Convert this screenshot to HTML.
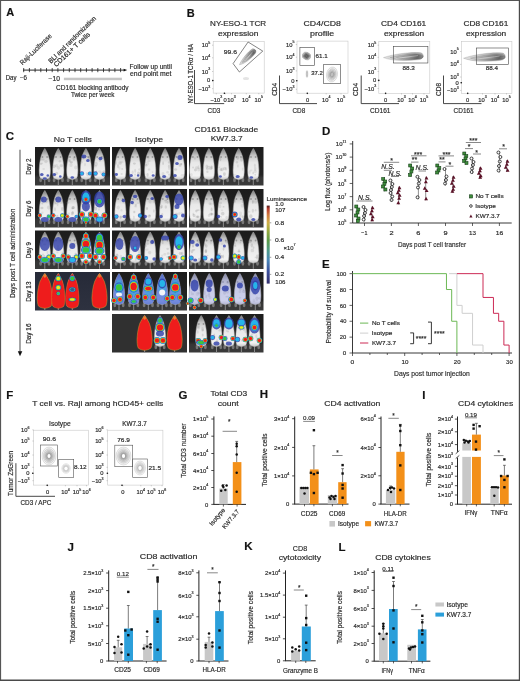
<!DOCTYPE html>
<html><head><meta charset="utf-8"><style>
html,body{margin:0;padding:0;background:#fff;}
svg{display:block;will-change:transform;}
text{font-family:"Liberation Sans", sans-serif;stroke:#2b2b2b;stroke-width:0.18px;}
</style></head><body>
<svg width="520" height="681" viewBox="0 0 520 681" fill="#2b2b2b">
<rect width="520" height="681" fill="#fff"/>
<text transform="translate(10.2 12.2)" x="-3.96" y="3.78" font-size="11" fill="#111" font-weight="bold">A</text>
<line x1="23" y1="70.1" x2="124.5" y2="70.1" stroke="#111" stroke-width="0.9" />
<polygon points="123.6,68.8 127.2,70.1 123.6,71.4" fill="#111"/>
<line x1="23.7" y1="68" x2="23.7" y2="72.2" stroke="#111" stroke-width="0.75" />
<line x1="29.4" y1="68" x2="29.4" y2="72.2" stroke="#111" stroke-width="0.75" />
<line x1="35.1" y1="68" x2="35.1" y2="72.2" stroke="#111" stroke-width="0.75" />
<line x1="40.8" y1="68" x2="40.8" y2="72.2" stroke="#111" stroke-width="0.75" />
<line x1="46.5" y1="68" x2="46.5" y2="72.2" stroke="#111" stroke-width="0.75" />
<line x1="52.2" y1="68" x2="52.2" y2="72.2" stroke="#111" stroke-width="0.75" />
<line x1="57.9" y1="68" x2="57.9" y2="72.2" stroke="#111" stroke-width="0.75" />
<line x1="63.6" y1="68" x2="63.6" y2="72.2" stroke="#111" stroke-width="0.75" />
<line x1="69.3" y1="68" x2="69.3" y2="72.2" stroke="#111" stroke-width="0.75" />
<line x1="75" y1="68" x2="75" y2="72.2" stroke="#111" stroke-width="0.75" />
<line x1="80.7" y1="68" x2="80.7" y2="72.2" stroke="#111" stroke-width="0.75" />
<line x1="86.4" y1="68" x2="86.4" y2="72.2" stroke="#111" stroke-width="0.75" />
<line x1="92.1" y1="68" x2="92.1" y2="72.2" stroke="#111" stroke-width="0.75" />
<line x1="97.8" y1="68" x2="97.8" y2="72.2" stroke="#111" stroke-width="0.75" />
<line x1="103.5" y1="68" x2="103.5" y2="72.2" stroke="#111" stroke-width="0.75" />
<line x1="109.2" y1="68" x2="109.2" y2="72.2" stroke="#111" stroke-width="0.75" />
<line x1="114.9" y1="68" x2="114.9" y2="72.2" stroke="#111" stroke-width="0.75" />
<line x1="120.6" y1="68" x2="120.6" y2="72.2" stroke="#111" stroke-width="0.75" />
<text transform="translate(11.3 78.2)" x="-5.59" y="2.2" font-size="6.4" textLength="10.71" lengthAdjust="spacingAndGlyphs">Day</text>
<text transform="translate(23.45 78.2)" x="-3.56" y="2.23" font-size="6.4" textLength="7.08" lengthAdjust="spacingAndGlyphs">−6</text>
<text transform="translate(54.25 78.4)" x="-5.68" y="2.23" font-size="6.4" textLength="11.29" lengthAdjust="spacingAndGlyphs">−10</text>
<rect x="63.9" y="77.7" width="58" height="2.5" fill="#c6c6c6" />
<text transform="translate(92.5 87.1)" x="-36.43" y="2.41" font-size="7" textLength="72.54" lengthAdjust="spacingAndGlyphs">CD161 blocking antibody</text>
<text transform="translate(92.7 94.9)" x="-21.74" y="2.41" font-size="7" textLength="43.33" lengthAdjust="spacingAndGlyphs">Twice per week</text>
<text transform="translate(150.7 66.4)" x="-21.24" y="2.34" font-size="6.8" textLength="42.39" lengthAdjust="spacingAndGlyphs">Follow up until</text>
<text transform="translate(150.85 73.8)" x="-20.84" y="2.34" font-size="6.8" textLength="41.44" lengthAdjust="spacingAndGlyphs">end point met</text>
<text transform="translate(35.9 49.1) rotate(-44)" x="-20.76" y="2.34" font-size="6.8" textLength="41.28" lengthAdjust="spacingAndGlyphs">Raji-Luciferase</text>
<text transform="translate(72.2 39.6) rotate(-44.5)" x="-32.02" y="2.34" font-size="6.8" textLength="63.94" lengthAdjust="spacingAndGlyphs">BLI and randomization</text>
<text transform="translate(71.8 49.4) rotate(-43)" x="-23.6" y="2.34" font-size="6.8" textLength="47.1" lengthAdjust="spacingAndGlyphs">CD161+ T cells</text>
<text transform="translate(190.8 12.9)" x="-4.09" y="3.78" font-size="11" fill="#111" font-weight="bold">B</text>
<text transform="translate(238.25 23.6)" x="-28.2" y="2.65" font-size="7.7" textLength="56.12" lengthAdjust="spacingAndGlyphs">NY-ESO-1 TCR</text>
<text transform="translate(238.1 34.1)" x="-20.05" y="1.95" font-size="7.5" textLength="40.3" lengthAdjust="spacingAndGlyphs">expression</text>
<rect x="213.2" y="41.3" width="51" height="51.8" fill="none" stroke="#c8c8c8" stroke-width="0.6" />
<text x="210.3" y="45.2" font-size="5.8" text-anchor="end" dominant-baseline="central">10<tspan font-size="3.6" dy="-2.2">5</tspan></text>
<line x1="212" y1="45.2" x2="213.2" y2="45.2" stroke="#888" stroke-width="0.4" />
<text x="210.3" y="57.8" font-size="5.8" text-anchor="end" dominant-baseline="central">10<tspan font-size="3.6" dy="-2.2">4</tspan></text>
<line x1="212" y1="57.8" x2="213.2" y2="57.8" stroke="#888" stroke-width="0.4" />
<text x="210.3" y="71.5" font-size="5.8" text-anchor="end" dominant-baseline="central">10<tspan font-size="3.6" dy="-2.2">3</tspan></text>
<line x1="212" y1="71.5" x2="213.2" y2="71.5" stroke="#888" stroke-width="0.4" />
<text x="210.3" y="80.4" font-size="5.8" text-anchor="end" dominant-baseline="central">0</text>
<line x1="212" y1="80.4" x2="213.2" y2="80.4" stroke="#888" stroke-width="0.4" />
<text x="210.3" y="88.7" font-size="5.8" text-anchor="end" dominant-baseline="central">−10<tspan font-size="3.6" dy="-2.2">3</tspan></text>
<line x1="212" y1="88.7" x2="213.2" y2="88.7" stroke="#888" stroke-width="0.4" />
<text x="216.3" y="99.5" font-size="5.8" text-anchor="middle" dominant-baseline="central">−10<tspan font-size="3.6" dy="-2.2">3</tspan></text>
<line x1="216.3" y1="93.1" x2="216.3" y2="94.3" stroke="#888" stroke-width="0.4" />
<text x="225.2" y="99.5" font-size="5.8" text-anchor="middle" dominant-baseline="central">0</text>
<line x1="225.2" y1="93.1" x2="225.2" y2="94.3" stroke="#888" stroke-width="0.4" />
<text x="231.5" y="99.5" font-size="5.8" text-anchor="middle" dominant-baseline="central">10<tspan font-size="3.6" dy="-2.2">3</tspan></text>
<line x1="231.5" y1="93.1" x2="231.5" y2="94.3" stroke="#888" stroke-width="0.4" />
<text x="246.3" y="99.5" font-size="5.8" text-anchor="middle" dominant-baseline="central">10<tspan font-size="3.6" dy="-2.2">4</tspan></text>
<line x1="246.3" y1="93.1" x2="246.3" y2="94.3" stroke="#888" stroke-width="0.4" />
<text x="258.8" y="99.5" font-size="5.8" text-anchor="middle" dominant-baseline="central">10<tspan font-size="3.6" dy="-2.2">5</tspan></text>
<line x1="258.8" y1="93.1" x2="258.8" y2="94.3" stroke="#888" stroke-width="0.4" />
<g transform="rotate(-40 247 57.5)">
<defs><linearGradient id="cm0" x1="0" y1="0" x2="1" y2="0"><stop offset="0" stop-color="#c8c8c8"/><stop offset="0.45" stop-color="#9a9a9a"/><stop offset="0.8" stop-color="#5a5a5a"/><stop offset="1" stop-color="#8a8a8a"/></linearGradient></defs>
<path d="M236.5,58.2 C240.9,55.86 250.8,53.52 256.74,54.3 C259,55.08 258.5,59.24 255.86,59.76 C248.6,61.06 240.9,60.8 236.5,58.2 Z" fill="url(#cm0)" fill-opacity="0.55" stroke="#444" stroke-opacity="0.5" stroke-width="0.35"/>
<path d="M240.13,58.2 C244.53,56.56 250.8,54.92 256.74,55.47 C259,56.02 258.5,58.93 255.86,59.29 C248.6,60.2 244.53,60.02 240.13,58.2 Z" fill="url(#cm0)" fill-opacity="0.6" stroke="#444" stroke-opacity="0.5" stroke-width="0.35"/>
<path d="M243.52,58.2 C247.92,57.22 250.8,56.23 256.74,56.56 C259,56.89 258.5,58.64 255.86,58.86 C248.6,59.4 247.92,59.29 243.52,58.2 Z" fill="url(#cm0)" fill-opacity="0.7" stroke="#444" stroke-opacity="0.5" stroke-width="0.35"/>
<path d="M243.1,58.72 C247.5,58.2 251.9,57.16 255.2,56.64" stroke="#fff" stroke-opacity="0.7" stroke-width="0.5" fill="none"/>
</g>
<ellipse cx="246" cy="78.6" rx="3" ry="1.5" fill="#e4e4e4"/>
<polygon points="233.1,63.6 248.1,42 262.75,51.1 239.4,72" fill="none" stroke="#333" stroke-width="0.6" />
<text transform="translate(230.3 51.7)" x="-6.62" y="2.09" font-size="6" textLength="13.22" lengthAdjust="spacingAndGlyphs">99.6</text>
<circle cx="212.8" cy="80.6" r="0.8" fill="#111"/><circle cx="224.4" cy="93.2" r="0.8" fill="#111"/>
<polyline points="194.5,70 194.5,103.6 224.2,103.6" fill="none" stroke="#333" stroke-width="0.9" />
<text transform="translate(190.4 73.5) rotate(-90)" x="-30" y="2.41" font-size="7" textLength="59.51" lengthAdjust="spacingAndGlyphs">NY-ESO-1 TCRα / HA</text>
<text transform="translate(214 110.6)" x="-6.43" y="2.61" font-size="7.6" textLength="12.81" lengthAdjust="spacingAndGlyphs">CD3</text>
<text transform="translate(322.2 23.6)" x="-18.64" y="2.65" font-size="7.7" textLength="37.22" lengthAdjust="spacingAndGlyphs">CD4/CD8</text>
<text transform="translate(322.15 34.1)" x="-12.22" y="1.95" font-size="7.5" textLength="24.27" lengthAdjust="spacingAndGlyphs">profile</text>
<rect x="297" y="41.1" width="51" height="52.1" fill="none" stroke="#c8c8c8" stroke-width="0.6" />
<text x="294.4" y="44.6" font-size="5.8" text-anchor="end" dominant-baseline="central">10<tspan font-size="3.6" dy="-2.2">5</tspan></text>
<line x1="295.8" y1="44.6" x2="297" y2="44.6" stroke="#888" stroke-width="0.4" />
<text x="294.4" y="57.2" font-size="5.8" text-anchor="end" dominant-baseline="central">10<tspan font-size="3.6" dy="-2.2">4</tspan></text>
<line x1="295.8" y1="57.2" x2="297" y2="57.2" stroke="#888" stroke-width="0.4" />
<text x="294.4" y="70.9" font-size="5.8" text-anchor="end" dominant-baseline="central">10<tspan font-size="3.6" dy="-2.2">3</tspan></text>
<line x1="295.8" y1="70.9" x2="297" y2="70.9" stroke="#888" stroke-width="0.4" />
<text x="294.4" y="80.7" font-size="5.8" text-anchor="end" dominant-baseline="central">0</text>
<line x1="295.8" y1="80.7" x2="297" y2="80.7" stroke="#888" stroke-width="0.4" />
<text x="294.4" y="89.3" font-size="5.8" text-anchor="end" dominant-baseline="central">−10<tspan font-size="3.6" dy="-2.2">3</tspan></text>
<line x1="295.8" y1="89.3" x2="297" y2="89.3" stroke="#888" stroke-width="0.4" />
<text x="307.5" y="99.5" font-size="5.8" text-anchor="middle" dominant-baseline="central">0</text>
<line x1="307.5" y1="93.2" x2="307.5" y2="94.4" stroke="#888" stroke-width="0.4" />
<text x="326.2" y="99.5" font-size="5.8" text-anchor="middle" dominant-baseline="central">10<tspan font-size="3.6" dy="-2.2">4</tspan></text>
<line x1="326.2" y1="93.2" x2="326.2" y2="94.4" stroke="#888" stroke-width="0.4" />
<text x="341" y="99.5" font-size="5.8" text-anchor="middle" dominant-baseline="central">10<tspan font-size="3.6" dy="-2.2">5</tspan></text>
<line x1="341" y1="93.2" x2="341" y2="94.4" stroke="#888" stroke-width="0.4" />
<g transform="rotate(20 306.5 56)"><ellipse cx="306.5" cy="56" rx="4.2" ry="3.6" fill="rgb(60, 60, 60)" fill-opacity="0.1925" stroke="#4a4a4a" stroke-opacity="0.77" stroke-width="0.4"/><ellipse cx="306.5" cy="56" rx="3.28" ry="2.81" fill="rgb(60, 60, 60)" fill-opacity="0.1925" stroke="#4a4a4a" stroke-opacity="0.77" stroke-width="0.4"/><ellipse cx="306.5" cy="56" rx="2.56" ry="2.19" fill="rgb(60, 60, 60)" fill-opacity="0.1925" stroke="#4a4a4a" stroke-opacity="0.77" stroke-width="0.4"/><ellipse cx="306.5" cy="56" rx="1.99" ry="1.71" fill="rgb(60, 60, 60)" fill-opacity="0.1925" stroke="#4a4a4a" stroke-opacity="0.77" stroke-width="0.4"/><ellipse cx="306.5" cy="56" rx="1.55" ry="1.33" fill="rgb(60, 60, 60)" fill-opacity="0.1925" stroke="#4a4a4a" stroke-opacity="0.77" stroke-width="0.4"/><ellipse cx="306.5" cy="56" rx="1.21" ry="1.04" fill="rgb(60, 60, 60)" fill-opacity="0.1925" stroke="#4a4a4a" stroke-opacity="0.77" stroke-width="0.4"/></g>
<g transform="rotate(10 332 74.5)"><ellipse cx="332" cy="74.5" rx="5.5" ry="7.5" fill="rgb(120, 120, 120)" fill-opacity="0.09350000000000001" stroke="#4a4a4a" stroke-opacity="0.37400000000000005" stroke-width="0.4"/><ellipse cx="332" cy="74.5" rx="4.29" ry="5.85" fill="rgb(120, 120, 120)" fill-opacity="0.09350000000000001" stroke="#4a4a4a" stroke-opacity="0.37400000000000005" stroke-width="0.4"/><ellipse cx="332" cy="74.5" rx="3.35" ry="4.56" fill="rgb(120, 120, 120)" fill-opacity="0.09350000000000001" stroke="#4a4a4a" stroke-opacity="0.37400000000000005" stroke-width="0.4"/><ellipse cx="332" cy="74.5" rx="2.61" ry="3.56" fill="rgb(120, 120, 120)" fill-opacity="0.09350000000000001" stroke="#4a4a4a" stroke-opacity="0.37400000000000005" stroke-width="0.4"/><ellipse cx="332" cy="74.5" rx="2.04" ry="2.78" fill="rgb(120, 120, 120)" fill-opacity="0.09350000000000001" stroke="#4a4a4a" stroke-opacity="0.37400000000000005" stroke-width="0.4"/><ellipse cx="332" cy="74.5" rx="1.59" ry="2.17" fill="rgb(120, 120, 120)" fill-opacity="0.09350000000000001" stroke="#4a4a4a" stroke-opacity="0.37400000000000005" stroke-width="0.4"/></g>
<g transform="rotate(0 307 74)"><ellipse cx="307" cy="74" rx="0.8" ry="3.5" fill="rgb(150, 150, 150)" fill-opacity="0.11000000000000001" stroke="#4a4a4a" stroke-opacity="0.44000000000000006" stroke-width="0.4"/><ellipse cx="307" cy="74" rx="0.62" ry="2.73" fill="rgb(150, 150, 150)" fill-opacity="0.11000000000000001" stroke="#4a4a4a" stroke-opacity="0.44000000000000006" stroke-width="0.4"/></g>
<rect x="299.9" y="47.5" width="14.8" height="17.9" fill="none" stroke="#444" stroke-width="0.6" />
<rect x="323.7" y="64.4" width="16.7" height="19.3" fill="none" stroke="#444" stroke-width="0.6" />
<text transform="translate(321.55 56.2)" x="-6.07" y="2.09" font-size="6" textLength="12.12" lengthAdjust="spacingAndGlyphs">61.1</text>
<text transform="translate(316.95 73)" x="-5.78" y="2.09" font-size="6" textLength="11.63" lengthAdjust="spacingAndGlyphs">37.2</text>
<circle cx="296.8" cy="80.7" r="0.8" fill="#111"/><circle cx="307.3" cy="93.2" r="0.8" fill="#111"/>
<polyline points="279.5,75.5 279.5,103.6 317,103.6" fill="none" stroke="#333" stroke-width="0.9" />
<text transform="translate(275 89.3) rotate(-90)" x="-6.53" y="2.41" font-size="7" textLength="12.92" lengthAdjust="spacingAndGlyphs">CD4</text>
<text transform="translate(298.9 110.5)" x="-6.42" y="2.61" font-size="7.6" textLength="12.8" lengthAdjust="spacingAndGlyphs">CD8</text>
<text transform="translate(403.65 23.6)" x="-22.58" y="2.65" font-size="7.7" textLength="45.13" lengthAdjust="spacingAndGlyphs">CD4 CD161</text>
<text transform="translate(404 34.1)" x="-20.05" y="1.95" font-size="7.5" textLength="40.3" lengthAdjust="spacingAndGlyphs">expression</text>
<rect x="378.8" y="41.3" width="51" height="52" fill="none" stroke="#c8c8c8" stroke-width="0.6" />
<text x="376.3" y="45.2" font-size="5.8" text-anchor="end" dominant-baseline="central">10<tspan font-size="3.6" dy="-2.2">5</tspan></text>
<line x1="377.6" y1="45.2" x2="378.8" y2="45.2" stroke="#888" stroke-width="0.4" />
<text x="376.3" y="57.3" font-size="5.8" text-anchor="end" dominant-baseline="central">10<tspan font-size="3.6" dy="-2.2">4</tspan></text>
<line x1="377.6" y1="57.3" x2="378.8" y2="57.3" stroke="#888" stroke-width="0.4" />
<text x="376.3" y="71.5" font-size="5.8" text-anchor="end" dominant-baseline="central">10<tspan font-size="3.6" dy="-2.2">3</tspan></text>
<line x1="377.6" y1="71.5" x2="378.8" y2="71.5" stroke="#888" stroke-width="0.4" />
<text x="376.3" y="80.4" font-size="5.8" text-anchor="end" dominant-baseline="central">0</text>
<line x1="377.6" y1="80.4" x2="378.8" y2="80.4" stroke="#888" stroke-width="0.4" />
<text x="376.3" y="88.5" font-size="5.8" text-anchor="end" dominant-baseline="central">−10<tspan font-size="3.6" dy="-2.2">3</tspan></text>
<line x1="377.6" y1="88.5" x2="378.8" y2="88.5" stroke="#888" stroke-width="0.4" />
<text x="385.6" y="99.5" font-size="5.8" text-anchor="middle" dominant-baseline="central">0</text>
<line x1="385.6" y1="93.3" x2="385.6" y2="94.5" stroke="#888" stroke-width="0.4" />
<text x="401.5" y="99.5" font-size="5.8" text-anchor="middle" dominant-baseline="central">10<tspan font-size="3.6" dy="-2.2">3</tspan></text>
<line x1="401.5" y1="93.3" x2="401.5" y2="94.5" stroke="#888" stroke-width="0.4" />
<text x="412.5" y="99.5" font-size="5.8" text-anchor="middle" dominant-baseline="central">10<tspan font-size="3.6" dy="-2.2">4</tspan></text>
<line x1="412.5" y1="93.3" x2="412.5" y2="94.5" stroke="#888" stroke-width="0.4" />
<text x="424" y="99.5" font-size="5.8" text-anchor="middle" dominant-baseline="central">10<tspan font-size="3.6" dy="-2.2">5</tspan></text>
<line x1="424" y1="93.3" x2="424" y2="94.5" stroke="#888" stroke-width="0.4" />
<defs><linearGradient id="cm1" x1="0" y1="0" x2="1" y2="0"><stop offset="0" stop-color="#c8c8c8"/><stop offset="0.45" stop-color="#9a9a9a"/><stop offset="0.8" stop-color="#5a5a5a"/><stop offset="1" stop-color="#8a8a8a"/></linearGradient></defs>
<path d="M383.5,57.6 C391.6,54.63 409.82,51.66 420.76,52.65 C424.5,53.64 424,58.92 419.14,59.58 C405.77,61.23 391.6,60.9 383.5,57.6 Z" fill="url(#cm1)" fill-opacity="0.55" stroke="#444" stroke-opacity="0.5" stroke-width="0.35"/>
<path d="M390.18,57.6 C398.28,55.52 409.82,53.44 420.76,54.14 C424.5,54.83 424,58.52 419.14,58.99 C405.77,60.14 398.28,59.91 390.18,57.6 Z" fill="url(#cm1)" fill-opacity="0.6" stroke="#444" stroke-opacity="0.5" stroke-width="0.35"/>
<path d="M396.42,57.6 C404.52,56.35 409.82,55.11 420.76,55.52 C424.5,55.94 424,58.15 419.14,58.43 C405.77,59.12 404.52,58.99 396.42,57.6 Z" fill="url(#cm1)" fill-opacity="0.7" stroke="#444" stroke-opacity="0.5" stroke-width="0.35"/>
<path d="M395.65,58.26 C403.75,57.6 411.85,56.28 417.93,55.62" stroke="#fff" stroke-opacity="0.7" stroke-width="0.5" fill="none"/>
<rect x="393.3" y="46.5" width="34.6" height="16.5" fill="none" stroke="#444" stroke-width="0.6" />
<text transform="translate(408.7 68.3)" x="-6.18" y="2.09" font-size="6" textLength="12.35" lengthAdjust="spacingAndGlyphs">88.3</text>
<circle cx="378.8" cy="80.4" r="0.8" fill="#111"/><circle cx="385.6" cy="93.3" r="0.8" fill="#111"/>
<polyline points="361.2,75.5 361.2,103.6 399,103.6" fill="none" stroke="#333" stroke-width="0.9" />
<text transform="translate(355.8 89.4) rotate(-90)" x="-6.53" y="2.41" font-size="7" textLength="12.92" lengthAdjust="spacingAndGlyphs">CD4</text>
<text transform="translate(380.3 110.6)" x="-10.23" y="2.61" font-size="7.6" textLength="20.45" lengthAdjust="spacingAndGlyphs">CD161</text>
<text transform="translate(485.85 23.6)" x="-22.47" y="2.65" font-size="7.7" textLength="44.93" lengthAdjust="spacingAndGlyphs">CD8 CD161</text>
<text transform="translate(486 34.1)" x="-20.05" y="1.95" font-size="7.5" textLength="40.3" lengthAdjust="spacingAndGlyphs">expression</text>
<rect x="461.3" y="41.3" width="50.6" height="52" fill="none" stroke="#c8c8c8" stroke-width="0.6" />
<text x="458.8" y="51.5" font-size="5.8" text-anchor="end" dominant-baseline="central">10<tspan font-size="3.6" dy="-2.2">5</tspan></text>
<line x1="460.1" y1="51.5" x2="461.3" y2="51.5" stroke="#888" stroke-width="0.4" />
<text x="458.8" y="64.4" font-size="5.8" text-anchor="end" dominant-baseline="central">10<tspan font-size="3.6" dy="-2.2">4</tspan></text>
<line x1="460.1" y1="64.4" x2="461.3" y2="64.4" stroke="#888" stroke-width="0.4" />
<text x="458.8" y="77" font-size="5.8" text-anchor="end" dominant-baseline="central">10<tspan font-size="3.6" dy="-2.2">3</tspan></text>
<line x1="460.1" y1="77" x2="461.3" y2="77" stroke="#888" stroke-width="0.4" />
<text x="458.8" y="82.7" font-size="5.8" text-anchor="end" dominant-baseline="central">0</text>
<line x1="460.1" y1="82.7" x2="461.3" y2="82.7" stroke="#888" stroke-width="0.4" />
<text x="458.8" y="90.4" font-size="5.8" text-anchor="end" dominant-baseline="central">−10<tspan font-size="3.6" dy="-2.2">3</tspan></text>
<line x1="460.1" y1="90.4" x2="461.3" y2="90.4" stroke="#888" stroke-width="0.4" />
<text x="467.7" y="99.5" font-size="5.8" text-anchor="middle" dominant-baseline="central">0</text>
<line x1="467.7" y1="93.3" x2="467.7" y2="94.5" stroke="#888" stroke-width="0.4" />
<text x="482.5" y="99.5" font-size="5.8" text-anchor="middle" dominant-baseline="central">10<tspan font-size="3.6" dy="-2.2">3</tspan></text>
<line x1="482.5" y1="93.3" x2="482.5" y2="94.5" stroke="#888" stroke-width="0.4" />
<text x="495" y="99.5" font-size="5.8" text-anchor="middle" dominant-baseline="central">10<tspan font-size="3.6" dy="-2.2">4</tspan></text>
<line x1="495" y1="93.3" x2="495" y2="94.5" stroke="#888" stroke-width="0.4" />
<text x="506.5" y="99.5" font-size="5.8" text-anchor="middle" dominant-baseline="central">10<tspan font-size="3.6" dy="-2.2">5</tspan></text>
<line x1="506.5" y1="93.3" x2="506.5" y2="94.5" stroke="#888" stroke-width="0.4" />
<defs><linearGradient id="cm2" x1="0" y1="0" x2="1" y2="0"><stop offset="0" stop-color="#c8c8c8"/><stop offset="0.45" stop-color="#9a9a9a"/><stop offset="0.8" stop-color="#5a5a5a"/><stop offset="1" stop-color="#8a8a8a"/></linearGradient></defs>
<path d="M463.5,58.2 C472,55.05 491.12,51.9 502.6,52.95 C506.5,54 506,59.6 500.9,60.3 C486.88,62.05 472,61.7 463.5,58.2 Z" fill="url(#cm2)" fill-opacity="0.55" stroke="#444" stroke-opacity="0.5" stroke-width="0.35"/>
<path d="M470.51,58.2 C479.01,56 491.12,53.79 502.6,54.53 C506.5,55.26 506,59.18 500.9,59.67 C486.88,60.9 479.01,60.65 470.51,58.2 Z" fill="url(#cm2)" fill-opacity="0.6" stroke="#444" stroke-opacity="0.5" stroke-width="0.35"/>
<path d="M477.06,58.2 C485.56,56.88 491.12,55.55 502.6,56 C506.5,56.44 506,58.79 500.9,59.08 C486.88,59.82 485.56,59.67 477.06,58.2 Z" fill="url(#cm2)" fill-opacity="0.7" stroke="#444" stroke-opacity="0.5" stroke-width="0.35"/>
<path d="M476.25,58.9 C484.75,58.2 493.25,56.8 499.62,56.1" stroke="#fff" stroke-opacity="0.7" stroke-width="0.5" fill="none"/>
<rect x="476.3" y="48" width="32.2" height="16.4" fill="none" stroke="#444" stroke-width="0.6" />
<text transform="translate(492 68.3)" x="-6.17" y="2.09" font-size="6" textLength="12.26" lengthAdjust="spacingAndGlyphs">88.4</text>
<circle cx="461.3" cy="82.7" r="0.8" fill="#111"/><circle cx="467.7" cy="93.3" r="0.8" fill="#111"/>
<polyline points="443.5,75.5 443.5,103.6 481.5,103.6" fill="none" stroke="#333" stroke-width="0.9" />
<text transform="translate(438.3 89.4) rotate(-90)" x="-6.53" y="2.41" font-size="7" textLength="13.01" lengthAdjust="spacingAndGlyphs">CD8</text>
<text transform="translate(463.6 110.6)" x="-10.03" y="2.61" font-size="7.6" textLength="20.04" lengthAdjust="spacingAndGlyphs">CD161</text>
<defs><linearGradient id="mg" x1="0" y1="0" x2="0" y2="1"><stop offset="0" stop-color="#7a7a7a"/><stop offset="0.22" stop-color="#c4c4c4"/><stop offset="0.45" stop-color="#e8e8e8"/><stop offset="0.88" stop-color="#f2f2f2"/><stop offset="1" stop-color="#c8c8c8"/></linearGradient><filter id="bl" x="-30%" y="-30%" width="160%" height="160%"><feGaussianBlur stdDeviation="0.45"/></filter><filter id="bs" x="-30%" y="-30%" width="160%" height="160%"><feGaussianBlur stdDeviation="0.35"/></filter><linearGradient id="pbg" x1="0" y1="0" x2="0" y2="1"><stop offset="0" stop-color="#1c1c1c"/><stop offset="0.72" stop-color="#232323"/><stop offset="0.8" stop-color="#363636"/><stop offset="1" stop-color="#3a3a3a"/></linearGradient><linearGradient id="pbg2" x1="0" y1="0" x2="0" y2="1"><stop offset="0" stop-color="#262a38"/><stop offset="1" stop-color="#2e3240"/></linearGradient><filter id="bl2" x="-30%" y="-30%" width="160%" height="160%"><feGaussianBlur stdDeviation="0.45"/></filter><path id="ms" d="M0,0 L0.7,1.07 L1.6,2.68 L2.6,4.82 L3.5,6.96 L4.2,9.63 L4.7,12.31 L5.1,14.98 L5.4,18.19 L5.6,21.4 L5.5,24.61 L5.2,27.29 L4.7,29.1 L3.3,30.17 L1.5,30.82 L0.6,31.03 L-0.6,31.03 L-1.5,30.82 L-3.3,30.17 L-4.7,29.1 L-5.2,27.29 L-5.5,24.61 L-5.6,21.4 L-5.4,18.19 L-5.1,14.98 L-4.7,12.31 L-4.2,9.63 L-3.5,6.96 L-2.6,4.82 L-1.6,2.68 L-0.7,1.07 L0,0 Z"/></defs>
<text transform="translate(10 136.5)" x="-4.23" y="3.96" font-size="11.5" fill="#111" font-weight="bold">C</text>
<text transform="translate(73.05 138.9)" x="-19.25" y="2.72" font-size="7.9" textLength="38.11" lengthAdjust="spacingAndGlyphs">No T cells</text>
<text transform="translate(149.35 139)" x="-14.25" y="2.72" font-size="7.9" textLength="28.09" lengthAdjust="spacingAndGlyphs">Isotype</text>
<text transform="translate(226.45 129)" x="-31.88" y="2.72" font-size="7.9" textLength="63.71" lengthAdjust="spacingAndGlyphs">CD161 Blockade</text>
<text transform="translate(226.75 138.7)" x="-16.13" y="2.72" font-size="7.9" textLength="32" lengthAdjust="spacingAndGlyphs">KW7.3.7</text>
<g><rect x="35" y="147" width="75" height="38.5" fill="url(#pbg)"/>
<line x1="44.8" y1="177.5" x2="44.8" y2="185.3" stroke="#8a8a8a" stroke-width="1.0"/>
<ellipse cx="40.6" cy="180" rx="1.4" ry="2.2" fill="#777"/><ellipse cx="49" cy="180" rx="1.4" ry="2.2" fill="#777"/>
<use href="#ms" x="44.8" y="148.5" fill="url(#mg)" stroke="#b0b0b0" stroke-width="0.5" filter="url(#bs)"/>
<g filter="url(#bs)"><ellipse cx="41.66" cy="163.33" rx="1.45" ry="0.9" fill="#8a8a8a" fill-opacity="0.23"/><ellipse cx="40.82" cy="164.08" rx="1.31" ry="0.85" fill="#8a8a8a" fill-opacity="0.22"/><ellipse cx="41.12" cy="158.76" rx="1.22" ry="1.96" fill="#8a8a8a" fill-opacity="0.17"/><ellipse cx="45.95" cy="161.52" rx="1.75" ry="1.61" fill="#8a8a8a" fill-opacity="0.21"/><ellipse cx="40.72" cy="175.07" rx="1.66" ry="1.21" fill="#8a8a8a" fill-opacity="0.17"/><ellipse cx="43.08" cy="159.62" rx="1.62" ry="1.05" fill="#8a8a8a" fill-opacity="0.24"/><ellipse cx="43.65" cy="169" rx="1.35" ry="0.89" fill="#8a8a8a" fill-opacity="0.16"/><circle cx="42.5" cy="157" r="0.9" fill="#555" fill-opacity="0.45"/><circle cx="47.1" cy="157" r="0.9" fill="#555" fill-opacity="0.45"/></g>
<g filter="url(#bl)"><ellipse cx="41.8" cy="174.5" rx="1.8" ry="1.5" fill="#2e3eaa" fill-opacity="0.8"/><ellipse cx="47.8" cy="175.5" rx="1.3" ry="1.2" fill="#2e3eaa" fill-opacity="0.8"/><ellipse cx="44.8" cy="178.5" rx="2" ry="1.2" fill="#2e3eaa" fill-opacity="0.8"/></g>
<line x1="58.3" y1="177.5" x2="58.3" y2="185.3" stroke="#8a8a8a" stroke-width="1.0"/>
<ellipse cx="54.1" cy="180" rx="1.4" ry="2.2" fill="#777"/><ellipse cx="62.5" cy="180" rx="1.4" ry="2.2" fill="#777"/>
<use href="#ms" x="58.3" y="148.5" fill="url(#mg)" stroke="#b0b0b0" stroke-width="0.5" filter="url(#bs)"/>
<g filter="url(#bs)"><ellipse cx="59.92" cy="161.21" rx="1.23" ry="1.24" fill="#8a8a8a" fill-opacity="0.24"/><ellipse cx="56.5" cy="165.66" rx="1.59" ry="1.78" fill="#8a8a8a" fill-opacity="0.19"/><ellipse cx="58.53" cy="167.84" rx="1.68" ry="1.82" fill="#8a8a8a" fill-opacity="0.19"/><ellipse cx="54.86" cy="175.14" rx="1.22" ry="1.86" fill="#8a8a8a" fill-opacity="0.17"/><ellipse cx="54.15" cy="166.3" rx="1.47" ry="1.87" fill="#8a8a8a" fill-opacity="0.24"/><ellipse cx="56.62" cy="173.26" rx="1.5" ry="1.63" fill="#8a8a8a" fill-opacity="0.24"/><ellipse cx="61.36" cy="165.71" rx="1.74" ry="1.46" fill="#8a8a8a" fill-opacity="0.25"/><circle cx="56" cy="157" r="0.9" fill="#555" fill-opacity="0.45"/><circle cx="60.6" cy="157" r="0.9" fill="#555" fill-opacity="0.45"/></g>
<g filter="url(#bl)"><ellipse cx="54.3" cy="174.5" rx="1.8" ry="1.5" fill="#2e3eaa" fill-opacity="0.8"/><ellipse cx="60.3" cy="176.5" rx="1.3" ry="1.2" fill="#2e3eaa" fill-opacity="0.8"/></g>
<line x1="72.3" y1="177.5" x2="72.3" y2="185.3" stroke="#8a8a8a" stroke-width="1.0"/>
<ellipse cx="68.1" cy="180" rx="1.4" ry="2.2" fill="#777"/><ellipse cx="76.5" cy="180" rx="1.4" ry="2.2" fill="#777"/>
<use href="#ms" x="72.3" y="148.5" fill="url(#mg)" stroke="#b0b0b0" stroke-width="0.5" filter="url(#bs)"/>
<g filter="url(#bs)"><ellipse cx="74.11" cy="158.59" rx="1.45" ry="2.19" fill="#8a8a8a" fill-opacity="0.27"/><ellipse cx="71.27" cy="162.62" rx="1.47" ry="0.83" fill="#8a8a8a" fill-opacity="0.22"/><ellipse cx="68.85" cy="160.52" rx="0.86" ry="1.88" fill="#8a8a8a" fill-opacity="0.17"/><ellipse cx="71.32" cy="161.96" rx="1.67" ry="0.91" fill="#8a8a8a" fill-opacity="0.22"/><ellipse cx="75.75" cy="167.39" rx="1.62" ry="2.01" fill="#8a8a8a" fill-opacity="0.19"/><ellipse cx="71.03" cy="164.98" rx="1.68" ry="2.14" fill="#8a8a8a" fill-opacity="0.17"/><ellipse cx="69.89" cy="160.67" rx="1.03" ry="1.48" fill="#8a8a8a" fill-opacity="0.24"/><circle cx="70" cy="157" r="0.9" fill="#555" fill-opacity="0.45"/><circle cx="74.6" cy="157" r="0.9" fill="#555" fill-opacity="0.45"/></g>
<g filter="url(#bl)"><ellipse cx="72.3" cy="177.5" rx="1.8" ry="1.2" fill="#2e3eaa" fill-opacity="0.8"/></g>
<line x1="85.9" y1="177.5" x2="85.9" y2="185.3" stroke="#8a8a8a" stroke-width="1.0"/>
<ellipse cx="81.7" cy="180" rx="1.4" ry="2.2" fill="#777"/><ellipse cx="90.1" cy="180" rx="1.4" ry="2.2" fill="#777"/>
<use href="#ms" x="85.9" y="148.5" fill="url(#mg)" stroke="#b0b0b0" stroke-width="0.5" filter="url(#bs)"/>
<g filter="url(#bs)"><ellipse cx="81.44" cy="162.23" rx="1.22" ry="1.32" fill="#8a8a8a" fill-opacity="0.23"/><ellipse cx="87.61" cy="174.66" rx="1.32" ry="1.66" fill="#8a8a8a" fill-opacity="0.25"/><ellipse cx="89.5" cy="158.47" rx="1.58" ry="2.02" fill="#8a8a8a" fill-opacity="0.27"/><ellipse cx="84.99" cy="164.56" rx="0.9" ry="1.69" fill="#8a8a8a" fill-opacity="0.16"/><ellipse cx="83.28" cy="158.71" rx="0.96" ry="1.28" fill="#8a8a8a" fill-opacity="0.16"/><ellipse cx="82.76" cy="157.5" rx="0.9" ry="1.31" fill="#8a8a8a" fill-opacity="0.15"/><ellipse cx="86.93" cy="173.24" rx="0.95" ry="1.15" fill="#8a8a8a" fill-opacity="0.2"/><circle cx="83.6" cy="157" r="0.9" fill="#555" fill-opacity="0.45"/><circle cx="88.2" cy="157" r="0.9" fill="#555" fill-opacity="0.45"/></g>
<g filter="url(#bl)"><ellipse cx="83.9" cy="156.5" rx="2.5" ry="2" fill="#2e3eaa" fill-opacity="0.8"/><ellipse cx="87.9" cy="160.5" rx="1.8" ry="1.5" fill="#2e3eaa" fill-opacity="0.8"/><ellipse cx="81.9" cy="173.5" rx="2.2" ry="2.2" fill="#2e3eaa" fill-opacity="0.8"/><ellipse cx="81.9" cy="173.5" rx="1.58" ry="1.58" fill="#28b4ea" fill-opacity="1"/><ellipse cx="89.9" cy="173.5" rx="2" ry="2" fill="#2e3eaa" fill-opacity="0.8"/><ellipse cx="89.9" cy="173.5" rx="1.44" ry="1.44" fill="#28b4ea" fill-opacity="1"/></g>
<line x1="99.5" y1="177.5" x2="99.5" y2="185.3" stroke="#8a8a8a" stroke-width="1.0"/>
<ellipse cx="95.3" cy="180" rx="1.4" ry="2.2" fill="#777"/><ellipse cx="103.7" cy="180" rx="1.4" ry="2.2" fill="#777"/>
<use href="#ms" x="99.5" y="148.5" fill="url(#mg)" stroke="#b0b0b0" stroke-width="0.5" filter="url(#bs)"/>
<g filter="url(#bs)"><ellipse cx="96.11" cy="164.05" rx="1.65" ry="2.19" fill="#8a8a8a" fill-opacity="0.22"/><ellipse cx="95.77" cy="166.21" rx="0.9" ry="1.28" fill="#8a8a8a" fill-opacity="0.19"/><ellipse cx="96.45" cy="172.42" rx="0.82" ry="2.13" fill="#8a8a8a" fill-opacity="0.23"/><ellipse cx="99.89" cy="160.14" rx="0.83" ry="1.54" fill="#8a8a8a" fill-opacity="0.3"/><ellipse cx="101.27" cy="173.04" rx="1.06" ry="1.31" fill="#8a8a8a" fill-opacity="0.18"/><ellipse cx="99.79" cy="171.39" rx="1.58" ry="1.26" fill="#8a8a8a" fill-opacity="0.18"/><ellipse cx="103.86" cy="172.11" rx="1.65" ry="1.93" fill="#8a8a8a" fill-opacity="0.27"/><circle cx="97.2" cy="157" r="0.9" fill="#555" fill-opacity="0.45"/><circle cx="101.8" cy="157" r="0.9" fill="#555" fill-opacity="0.45"/></g>
<g filter="url(#bl)"><ellipse cx="100.5" cy="158.5" rx="2" ry="1.8" fill="#2e3eaa" fill-opacity="0.8"/><ellipse cx="95.5" cy="173.5" rx="2.2" ry="2.2" fill="#2e3eaa" fill-opacity="0.8"/><ellipse cx="95.5" cy="173.5" rx="1.58" ry="1.58" fill="#28b4ea" fill-opacity="1"/><ellipse cx="103.5" cy="174.5" rx="2" ry="2" fill="#2e3eaa" fill-opacity="0.8"/><ellipse cx="103.5" cy="174.5" rx="1.44" ry="1.44" fill="#28b4ea" fill-opacity="1"/></g>
</g>
<g><rect x="35" y="189" width="75" height="38.5" fill="url(#pbg)"/>
<line x1="44.8" y1="219.5" x2="44.8" y2="227.3" stroke="#8a8a8a" stroke-width="1.0"/>
<ellipse cx="40.6" cy="222" rx="1.4" ry="2.2" fill="#777"/><ellipse cx="49" cy="222" rx="1.4" ry="2.2" fill="#777"/>
<use href="#ms" x="44.8" y="190.5" fill="url(#mg)" stroke="#b0b0b0" stroke-width="0.5" filter="url(#bs)"/>
<g filter="url(#bs)"><ellipse cx="42.34" cy="212.82" rx="1.32" ry="1.3" fill="#8a8a8a" fill-opacity="0.15"/><ellipse cx="42.81" cy="200" rx="1.06" ry="1.77" fill="#8a8a8a" fill-opacity="0.29"/><ellipse cx="48.73" cy="207.55" rx="1.79" ry="2.14" fill="#8a8a8a" fill-opacity="0.2"/><ellipse cx="42.34" cy="203.47" rx="1" ry="1.09" fill="#8a8a8a" fill-opacity="0.24"/><ellipse cx="47.86" cy="215.71" rx="1.28" ry="1.71" fill="#8a8a8a" fill-opacity="0.27"/><ellipse cx="46.25" cy="201.03" rx="1.71" ry="1.9" fill="#8a8a8a" fill-opacity="0.26"/><ellipse cx="41.91" cy="208.1" rx="1.59" ry="1.27" fill="#8a8a8a" fill-opacity="0.27"/><circle cx="42.5" cy="199" r="0.9" fill="#555" fill-opacity="0.45"/><circle cx="47.1" cy="199" r="0.9" fill="#555" fill-opacity="0.45"/></g>
<g filter="url(#bl)"><ellipse cx="43.8" cy="199.5" rx="3" ry="3" fill="#2e3eaa" fill-opacity="0.8"/><ellipse cx="39.8" cy="215.5" rx="2.2" ry="2.2" fill="#2e3eaa" fill-opacity="0.8"/><ellipse cx="39.8" cy="215.5" rx="1.98" ry="1.98" fill="#28b4ea" fill-opacity="1"/><ellipse cx="39.8" cy="215.5" rx="1.76" ry="1.76" fill="#3cc43c" fill-opacity="1"/><ellipse cx="39.8" cy="215.5" rx="1.58" ry="1.58" fill="#f5e61e" fill-opacity="1"/><ellipse cx="39.8" cy="215.5" rx="1.41" ry="1.41" fill="#ee1c1c" fill-opacity="1"/><ellipse cx="48.8" cy="216.5" rx="2" ry="2" fill="#2e3eaa" fill-opacity="0.8"/><ellipse cx="48.8" cy="216.5" rx="1.64" ry="1.64" fill="#28b4ea" fill-opacity="1"/><ellipse cx="48.8" cy="216.5" rx="1.32" ry="1.32" fill="#3cc43c" fill-opacity="1"/><ellipse cx="44.8" cy="219.5" rx="4" ry="2.5" fill="#2e3eaa" fill-opacity="0.8"/></g>
<line x1="58.3" y1="219.5" x2="58.3" y2="227.3" stroke="#8a8a8a" stroke-width="1.0"/>
<ellipse cx="54.1" cy="222" rx="1.4" ry="2.2" fill="#777"/><ellipse cx="62.5" cy="222" rx="1.4" ry="2.2" fill="#777"/>
<use href="#ms" x="58.3" y="190.5" fill="url(#mg)" stroke="#b0b0b0" stroke-width="0.5" filter="url(#bs)"/>
<g filter="url(#bs)"><ellipse cx="57.36" cy="216.99" rx="1.2" ry="2.13" fill="#8a8a8a" fill-opacity="0.26"/><ellipse cx="54.94" cy="202.56" rx="0.95" ry="2.07" fill="#8a8a8a" fill-opacity="0.27"/><ellipse cx="61.24" cy="202.13" rx="1.78" ry="1.72" fill="#8a8a8a" fill-opacity="0.2"/><ellipse cx="54.98" cy="209.38" rx="0.81" ry="2.16" fill="#8a8a8a" fill-opacity="0.25"/><ellipse cx="62.2" cy="208.98" rx="1.23" ry="2.02" fill="#8a8a8a" fill-opacity="0.27"/><ellipse cx="56.07" cy="203.3" rx="1.09" ry="1.14" fill="#8a8a8a" fill-opacity="0.24"/><ellipse cx="57.57" cy="204.17" rx="0.93" ry="2.07" fill="#8a8a8a" fill-opacity="0.2"/><circle cx="56" cy="199" r="0.9" fill="#555" fill-opacity="0.45"/><circle cx="60.6" cy="199" r="0.9" fill="#555" fill-opacity="0.45"/></g>
<g filter="url(#bl)"><ellipse cx="58.3" cy="199.5" rx="3" ry="3" fill="#2e3eaa" fill-opacity="0.8"/><ellipse cx="53.3" cy="215.5" rx="2.2" ry="2.2" fill="#2e3eaa" fill-opacity="0.8"/><ellipse cx="53.3" cy="215.5" rx="1.98" ry="1.98" fill="#28b4ea" fill-opacity="1"/><ellipse cx="53.3" cy="215.5" rx="1.76" ry="1.76" fill="#3cc43c" fill-opacity="1"/><ellipse cx="53.3" cy="215.5" rx="1.58" ry="1.58" fill="#f5e61e" fill-opacity="1"/><ellipse cx="53.3" cy="215.5" rx="1.41" ry="1.41" fill="#ee1c1c" fill-opacity="1"/><ellipse cx="62.3" cy="215.5" rx="2.2" ry="2.2" fill="#2e3eaa" fill-opacity="0.8"/><ellipse cx="62.3" cy="215.5" rx="1.89" ry="1.89" fill="#28b4ea" fill-opacity="1"/><ellipse cx="62.3" cy="215.5" rx="1.63" ry="1.63" fill="#3cc43c" fill-opacity="1"/><ellipse cx="62.3" cy="215.5" rx="1.36" ry="1.36" fill="#f5e61e" fill-opacity="1"/><ellipse cx="58.3" cy="219.5" rx="4" ry="2.5" fill="#2e3eaa" fill-opacity="0.8"/></g>
<line x1="72.3" y1="219.5" x2="72.3" y2="227.3" stroke="#8a8a8a" stroke-width="1.0"/>
<ellipse cx="68.1" cy="222" rx="1.4" ry="2.2" fill="#777"/><ellipse cx="76.5" cy="222" rx="1.4" ry="2.2" fill="#777"/>
<use href="#ms" x="72.3" y="190.5" fill="url(#mg)" stroke="#b0b0b0" stroke-width="0.5" filter="url(#bs)"/>
<g filter="url(#bs)"><ellipse cx="73.05" cy="207.75" rx="1.7" ry="1.39" fill="#8a8a8a" fill-opacity="0.29"/><ellipse cx="72.59" cy="208.53" rx="1.32" ry="0.83" fill="#8a8a8a" fill-opacity="0.22"/><ellipse cx="67.84" cy="202.8" rx="1.6" ry="1.04" fill="#8a8a8a" fill-opacity="0.22"/><ellipse cx="72.81" cy="212.55" rx="1.13" ry="1.53" fill="#8a8a8a" fill-opacity="0.23"/><ellipse cx="68.75" cy="213.62" rx="1.36" ry="1.15" fill="#8a8a8a" fill-opacity="0.19"/><ellipse cx="72.37" cy="213.4" rx="1.36" ry="1.86" fill="#8a8a8a" fill-opacity="0.29"/><ellipse cx="73.31" cy="207.48" rx="1.31" ry="1.52" fill="#8a8a8a" fill-opacity="0.25"/><circle cx="70" cy="199" r="0.9" fill="#555" fill-opacity="0.45"/><circle cx="74.6" cy="199" r="0.9" fill="#555" fill-opacity="0.45"/></g>
<g filter="url(#bl)"><ellipse cx="67.3" cy="216.5" rx="2" ry="2" fill="#2e3eaa" fill-opacity="0.8"/><ellipse cx="67.3" cy="216.5" rx="1.8" ry="1.8" fill="#28b4ea" fill-opacity="1"/><ellipse cx="67.3" cy="216.5" rx="1.6" ry="1.6" fill="#3cc43c" fill-opacity="1"/><ellipse cx="67.3" cy="216.5" rx="1.44" ry="1.44" fill="#f5e61e" fill-opacity="1"/><ellipse cx="67.3" cy="216.5" rx="1.28" ry="1.28" fill="#ee1c1c" fill-opacity="1"/><ellipse cx="76.3" cy="216.5" rx="1.8" ry="1.8" fill="#2e3eaa" fill-opacity="0.8"/><ellipse cx="76.3" cy="216.5" rx="1.3" ry="1.3" fill="#28b4ea" fill-opacity="1"/><ellipse cx="72.3" cy="219.5" rx="4" ry="2.5" fill="#2e3eaa" fill-opacity="0.8"/></g>
<line x1="85.9" y1="219.5" x2="85.9" y2="227.3" stroke="#8a8a8a" stroke-width="1.0"/>
<ellipse cx="81.7" cy="222" rx="1.4" ry="2.2" fill="#777"/><ellipse cx="90.1" cy="222" rx="1.4" ry="2.2" fill="#777"/>
<use href="#ms" x="85.9" y="190.5" fill="url(#mg)" stroke="#b0b0b0" stroke-width="0.5" filter="url(#bs)"/>
<g filter="url(#bs)"><ellipse cx="86.2" cy="207.64" rx="1.28" ry="2.12" fill="#8a8a8a" fill-opacity="0.25"/><ellipse cx="89.88" cy="215.28" rx="1.06" ry="1.58" fill="#8a8a8a" fill-opacity="0.29"/><ellipse cx="82.63" cy="214.62" rx="0.92" ry="1.42" fill="#8a8a8a" fill-opacity="0.16"/><ellipse cx="82.06" cy="203.83" rx="1.47" ry="1.9" fill="#8a8a8a" fill-opacity="0.28"/><ellipse cx="87.85" cy="202.28" rx="1.46" ry="1" fill="#8a8a8a" fill-opacity="0.28"/><ellipse cx="83.38" cy="216.92" rx="1.75" ry="1.36" fill="#8a8a8a" fill-opacity="0.22"/><ellipse cx="88.89" cy="217.32" rx="0.96" ry="1.4" fill="#8a8a8a" fill-opacity="0.23"/><circle cx="83.6" cy="199" r="0.9" fill="#555" fill-opacity="0.45"/><circle cx="88.2" cy="199" r="0.9" fill="#555" fill-opacity="0.45"/></g>
<g filter="url(#bl)"><ellipse cx="85.9" cy="197.5" rx="5" ry="7" fill="#2e3eaa" fill-opacity="0.8"/><ellipse cx="85.9" cy="197.5" rx="3.6" ry="5.04" fill="#28b4ea" fill-opacity="1"/><ellipse cx="85.9" cy="199.5" rx="2.2" ry="2.2" fill="#2e3eaa" fill-opacity="0.8"/><ellipse cx="85.9" cy="199.5" rx="1.98" ry="1.98" fill="#28b4ea" fill-opacity="1"/><ellipse cx="85.9" cy="199.5" rx="1.76" ry="1.76" fill="#3cc43c" fill-opacity="1"/><ellipse cx="85.9" cy="199.5" rx="1.58" ry="1.58" fill="#f5e61e" fill-opacity="1"/><ellipse cx="85.9" cy="199.5" rx="1.41" ry="1.41" fill="#ee1c1c" fill-opacity="1"/><ellipse cx="85.9" cy="206.5" rx="4" ry="5" fill="#2e3eaa" fill-opacity="0.8"/><ellipse cx="81.9" cy="214.5" rx="3" ry="3" fill="#2e3eaa" fill-opacity="0.8"/><ellipse cx="81.9" cy="214.5" rx="2.7" ry="2.7" fill="#28b4ea" fill-opacity="1"/><ellipse cx="81.9" cy="214.5" rx="2.4" ry="2.4" fill="#3cc43c" fill-opacity="1"/><ellipse cx="81.9" cy="214.5" rx="2.16" ry="2.16" fill="#f5e61e" fill-opacity="1"/><ellipse cx="81.9" cy="214.5" rx="1.92" ry="1.92" fill="#ee1c1c" fill-opacity="1"/><ellipse cx="90.9" cy="214.5" rx="3" ry="3" fill="#2e3eaa" fill-opacity="0.8"/><ellipse cx="90.9" cy="214.5" rx="2.7" ry="2.7" fill="#28b4ea" fill-opacity="1"/><ellipse cx="90.9" cy="214.5" rx="2.4" ry="2.4" fill="#3cc43c" fill-opacity="1"/><ellipse cx="90.9" cy="214.5" rx="2.16" ry="2.16" fill="#f5e61e" fill-opacity="1"/><ellipse cx="90.9" cy="214.5" rx="1.92" ry="1.92" fill="#ee1c1c" fill-opacity="1"/><ellipse cx="85.9" cy="219.5" rx="4" ry="3" fill="#2e3eaa" fill-opacity="0.8"/><ellipse cx="85.9" cy="219.5" rx="3.28" ry="2.46" fill="#28b4ea" fill-opacity="1"/><ellipse cx="85.9" cy="219.5" rx="2.64" ry="1.98" fill="#3cc43c" fill-opacity="1"/><ellipse cx="85.9" cy="222.5" rx="1.5" ry="1.5" fill="#2e3eaa" fill-opacity="0.8"/><ellipse cx="85.9" cy="222.5" rx="1.35" ry="1.35" fill="#28b4ea" fill-opacity="1"/><ellipse cx="85.9" cy="222.5" rx="1.2" ry="1.2" fill="#3cc43c" fill-opacity="1"/><ellipse cx="85.9" cy="222.5" rx="1.08" ry="1.08" fill="#f5e61e" fill-opacity="1"/><ellipse cx="85.9" cy="222.5" rx="0.96" ry="0.96" fill="#ee1c1c" fill-opacity="1"/></g>
<line x1="99.5" y1="219.5" x2="99.5" y2="227.3" stroke="#8a8a8a" stroke-width="1.0"/>
<ellipse cx="95.3" cy="222" rx="1.4" ry="2.2" fill="#777"/><ellipse cx="103.7" cy="222" rx="1.4" ry="2.2" fill="#777"/>
<use href="#ms" x="99.5" y="190.5" fill="url(#mg)" stroke="#b0b0b0" stroke-width="0.5" filter="url(#bs)"/>
<g filter="url(#bs)"><ellipse cx="96.76" cy="205.6" rx="1.12" ry="1.81" fill="#8a8a8a" fill-opacity="0.15"/><ellipse cx="98.96" cy="209.47" rx="0.82" ry="1.26" fill="#8a8a8a" fill-opacity="0.24"/><ellipse cx="95.58" cy="208.72" rx="1.79" ry="1.9" fill="#8a8a8a" fill-opacity="0.3"/><ellipse cx="97.39" cy="201.39" rx="0.84" ry="1.89" fill="#8a8a8a" fill-opacity="0.19"/><ellipse cx="98.8" cy="201.83" rx="1.71" ry="1.95" fill="#8a8a8a" fill-opacity="0.19"/><ellipse cx="103.27" cy="202.19" rx="1.37" ry="1.78" fill="#8a8a8a" fill-opacity="0.16"/><ellipse cx="101.19" cy="200.54" rx="1.23" ry="0.9" fill="#8a8a8a" fill-opacity="0.29"/><circle cx="97.2" cy="199" r="0.9" fill="#555" fill-opacity="0.45"/><circle cx="101.8" cy="199" r="0.9" fill="#555" fill-opacity="0.45"/></g>
<g filter="url(#bl)"><ellipse cx="99.5" cy="199.5" rx="5.5" ry="8" fill="#2e3eaa" fill-opacity="0.8"/><ellipse cx="99.5" cy="201.5" rx="3" ry="3" fill="#2e3eaa" fill-opacity="0.8"/><ellipse cx="99.5" cy="201.5" rx="2.46" ry="2.46" fill="#28b4ea" fill-opacity="1"/><ellipse cx="99.5" cy="201.5" rx="1.98" ry="1.98" fill="#3cc43c" fill-opacity="1"/><ellipse cx="95.5" cy="215.5" rx="3" ry="3" fill="#2e3eaa" fill-opacity="0.8"/><ellipse cx="95.5" cy="215.5" rx="2.7" ry="2.7" fill="#28b4ea" fill-opacity="1"/><ellipse cx="95.5" cy="215.5" rx="2.4" ry="2.4" fill="#3cc43c" fill-opacity="1"/><ellipse cx="95.5" cy="215.5" rx="2.16" ry="2.16" fill="#f5e61e" fill-opacity="1"/><ellipse cx="95.5" cy="215.5" rx="1.92" ry="1.92" fill="#ee1c1c" fill-opacity="1"/><ellipse cx="104.5" cy="215.5" rx="3" ry="3" fill="#2e3eaa" fill-opacity="0.8"/><ellipse cx="104.5" cy="215.5" rx="2.7" ry="2.7" fill="#28b4ea" fill-opacity="1"/><ellipse cx="104.5" cy="215.5" rx="2.4" ry="2.4" fill="#3cc43c" fill-opacity="1"/><ellipse cx="104.5" cy="215.5" rx="2.16" ry="2.16" fill="#f5e61e" fill-opacity="1"/><ellipse cx="104.5" cy="215.5" rx="1.92" ry="1.92" fill="#ee1c1c" fill-opacity="1"/><ellipse cx="99.5" cy="219.5" rx="4" ry="3" fill="#2e3eaa" fill-opacity="0.8"/><ellipse cx="99.5" cy="219.5" rx="2.88" ry="2.16" fill="#28b4ea" fill-opacity="1"/></g>
</g>
<g><rect x="35" y="230.5" width="75" height="38.5" fill="url(#pbg)"/>
<line x1="44.8" y1="261" x2="44.8" y2="268.8" stroke="#8a8a8a" stroke-width="1.0"/>
<ellipse cx="40.6" cy="263.5" rx="1.4" ry="2.2" fill="#777"/><ellipse cx="49" cy="263.5" rx="1.4" ry="2.2" fill="#777"/>
<use href="#ms" x="44.8" y="232" fill="url(#mg)" stroke="#b0b0b0" stroke-width="0.5" filter="url(#bs)"/>
<g filter="url(#bs)"><ellipse cx="47.51" cy="252.42" rx="0.88" ry="2" fill="#8a8a8a" fill-opacity="0.16"/><ellipse cx="44.38" cy="256.53" rx="1.14" ry="1.57" fill="#8a8a8a" fill-opacity="0.29"/><ellipse cx="41.46" cy="245.82" rx="1.33" ry="1.13" fill="#8a8a8a" fill-opacity="0.17"/><ellipse cx="40.75" cy="243.91" rx="1" ry="1.24" fill="#8a8a8a" fill-opacity="0.2"/><ellipse cx="42.91" cy="254.67" rx="1.3" ry="1.05" fill="#8a8a8a" fill-opacity="0.2"/><ellipse cx="42.55" cy="241.33" rx="0.82" ry="1.83" fill="#8a8a8a" fill-opacity="0.23"/><ellipse cx="44.57" cy="244.41" rx="1.73" ry="0.95" fill="#8a8a8a" fill-opacity="0.27"/><circle cx="42.5" cy="240.5" r="0.9" fill="#555" fill-opacity="0.45"/><circle cx="47.1" cy="240.5" r="0.9" fill="#555" fill-opacity="0.45"/></g>
<g filter="url(#bl)"><ellipse cx="44.8" cy="244" rx="5" ry="7" fill="#2e3eaa" fill-opacity="0.8"/><ellipse cx="39.8" cy="257" rx="2.5" ry="2.5" fill="#2e3eaa" fill-opacity="0.8"/><ellipse cx="39.8" cy="257" rx="2.25" ry="2.25" fill="#28b4ea" fill-opacity="1"/><ellipse cx="39.8" cy="257" rx="2" ry="2" fill="#3cc43c" fill-opacity="1"/><ellipse cx="39.8" cy="257" rx="1.8" ry="1.8" fill="#f5e61e" fill-opacity="1"/><ellipse cx="39.8" cy="257" rx="1.6" ry="1.6" fill="#ee1c1c" fill-opacity="1"/><ellipse cx="48.8" cy="257" rx="2.5" ry="2.5" fill="#2e3eaa" fill-opacity="0.8"/><ellipse cx="48.8" cy="257" rx="2.15" ry="2.15" fill="#28b4ea" fill-opacity="1"/><ellipse cx="48.8" cy="257" rx="1.85" ry="1.85" fill="#3cc43c" fill-opacity="1"/><ellipse cx="48.8" cy="257" rx="1.55" ry="1.55" fill="#f5e61e" fill-opacity="1"/><ellipse cx="44.8" cy="260" rx="5" ry="3" fill="#2e3eaa" fill-opacity="0.8"/><ellipse cx="44.8" cy="260" rx="4.1" ry="2.46" fill="#28b4ea" fill-opacity="1"/><ellipse cx="44.8" cy="260" rx="3.3" ry="1.98" fill="#3cc43c" fill-opacity="1"/></g>
<line x1="58.3" y1="261" x2="58.3" y2="268.8" stroke="#8a8a8a" stroke-width="1.0"/>
<ellipse cx="54.1" cy="263.5" rx="1.4" ry="2.2" fill="#777"/><ellipse cx="62.5" cy="263.5" rx="1.4" ry="2.2" fill="#777"/>
<use href="#ms" x="58.3" y="232" fill="url(#mg)" stroke="#b0b0b0" stroke-width="0.5" filter="url(#bs)"/>
<g filter="url(#bs)"><ellipse cx="58.26" cy="248.78" rx="1.63" ry="1.35" fill="#8a8a8a" fill-opacity="0.23"/><ellipse cx="62.64" cy="253.38" rx="1.14" ry="1.97" fill="#8a8a8a" fill-opacity="0.26"/><ellipse cx="57.44" cy="252.45" rx="1.15" ry="0.88" fill="#8a8a8a" fill-opacity="0.17"/><ellipse cx="60.47" cy="242.27" rx="1.06" ry="1.03" fill="#8a8a8a" fill-opacity="0.16"/><ellipse cx="61.63" cy="256.14" rx="1.47" ry="1.19" fill="#8a8a8a" fill-opacity="0.19"/><ellipse cx="57.94" cy="246.28" rx="0.96" ry="1.42" fill="#8a8a8a" fill-opacity="0.19"/><ellipse cx="62.55" cy="258.31" rx="1.35" ry="1.14" fill="#8a8a8a" fill-opacity="0.29"/><circle cx="56" cy="240.5" r="0.9" fill="#555" fill-opacity="0.45"/><circle cx="60.6" cy="240.5" r="0.9" fill="#555" fill-opacity="0.45"/></g>
<g filter="url(#bl)"><ellipse cx="58.3" cy="244" rx="5" ry="7" fill="#2e3eaa" fill-opacity="0.8"/><ellipse cx="53.3" cy="256" rx="2.5" ry="2.5" fill="#2e3eaa" fill-opacity="0.8"/><ellipse cx="53.3" cy="256" rx="2.25" ry="2.25" fill="#28b4ea" fill-opacity="1"/><ellipse cx="53.3" cy="256" rx="2" ry="2" fill="#3cc43c" fill-opacity="1"/><ellipse cx="53.3" cy="256" rx="1.8" ry="1.8" fill="#f5e61e" fill-opacity="1"/><ellipse cx="53.3" cy="256" rx="1.6" ry="1.6" fill="#ee1c1c" fill-opacity="1"/><ellipse cx="63.3" cy="256" rx="2.5" ry="2.5" fill="#2e3eaa" fill-opacity="0.8"/><ellipse cx="63.3" cy="256" rx="2.25" ry="2.25" fill="#28b4ea" fill-opacity="1"/><ellipse cx="63.3" cy="256" rx="2" ry="2" fill="#3cc43c" fill-opacity="1"/><ellipse cx="63.3" cy="256" rx="1.8" ry="1.8" fill="#f5e61e" fill-opacity="1"/><ellipse cx="63.3" cy="256" rx="1.6" ry="1.6" fill="#ee1c1c" fill-opacity="1"/><ellipse cx="58.3" cy="260" rx="5" ry="3" fill="#2e3eaa" fill-opacity="0.8"/><ellipse cx="58.3" cy="260" rx="4.1" ry="2.46" fill="#28b4ea" fill-opacity="1"/><ellipse cx="58.3" cy="260" rx="3.3" ry="1.98" fill="#3cc43c" fill-opacity="1"/></g>
<line x1="72.3" y1="261" x2="72.3" y2="268.8" stroke="#8a8a8a" stroke-width="1.0"/>
<ellipse cx="68.1" cy="263.5" rx="1.4" ry="2.2" fill="#777"/><ellipse cx="76.5" cy="263.5" rx="1.4" ry="2.2" fill="#777"/>
<use href="#ms" x="72.3" y="232" fill="url(#mg)" stroke="#b0b0b0" stroke-width="0.5" filter="url(#bs)"/>
<g filter="url(#bs)"><ellipse cx="71.01" cy="246.57" rx="0.8" ry="1.33" fill="#8a8a8a" fill-opacity="0.22"/><ellipse cx="69.61" cy="250.05" rx="1.3" ry="0.81" fill="#8a8a8a" fill-opacity="0.19"/><ellipse cx="71.4" cy="242.62" rx="0.84" ry="0.83" fill="#8a8a8a" fill-opacity="0.2"/><ellipse cx="73.07" cy="245.19" rx="1.33" ry="1.85" fill="#8a8a8a" fill-opacity="0.25"/><ellipse cx="75.71" cy="253.89" rx="1.19" ry="1.26" fill="#8a8a8a" fill-opacity="0.3"/><ellipse cx="74.32" cy="243.69" rx="1.44" ry="0.86" fill="#8a8a8a" fill-opacity="0.28"/><ellipse cx="73.45" cy="257.05" rx="1.53" ry="1.94" fill="#8a8a8a" fill-opacity="0.17"/><circle cx="70" cy="240.5" r="0.9" fill="#555" fill-opacity="0.45"/><circle cx="74.6" cy="240.5" r="0.9" fill="#555" fill-opacity="0.45"/></g>
<g filter="url(#bl)"><ellipse cx="72.3" cy="246" rx="3" ry="3" fill="#2e3eaa" fill-opacity="0.8"/><ellipse cx="68.3" cy="257" rx="2.5" ry="2.5" fill="#2e3eaa" fill-opacity="0.8"/><ellipse cx="68.3" cy="257" rx="2.25" ry="2.25" fill="#28b4ea" fill-opacity="1"/><ellipse cx="68.3" cy="257" rx="2" ry="2" fill="#3cc43c" fill-opacity="1"/><ellipse cx="68.3" cy="257" rx="1.8" ry="1.8" fill="#f5e61e" fill-opacity="1"/><ellipse cx="68.3" cy="257" rx="1.6" ry="1.6" fill="#ee1c1c" fill-opacity="1"/><ellipse cx="76.3" cy="257" rx="2.5" ry="2.5" fill="#2e3eaa" fill-opacity="0.8"/><ellipse cx="76.3" cy="257" rx="2.15" ry="2.15" fill="#28b4ea" fill-opacity="1"/><ellipse cx="76.3" cy="257" rx="1.85" ry="1.85" fill="#3cc43c" fill-opacity="1"/><ellipse cx="76.3" cy="257" rx="1.55" ry="1.55" fill="#f5e61e" fill-opacity="1"/><ellipse cx="72.3" cy="260" rx="4" ry="3" fill="#2e3eaa" fill-opacity="0.8"/><ellipse cx="72.3" cy="260" rx="2.88" ry="2.16" fill="#28b4ea" fill-opacity="1"/></g>
<line x1="85.9" y1="261" x2="85.9" y2="268.8" stroke="#8a8a8a" stroke-width="1.0"/>
<ellipse cx="81.7" cy="263.5" rx="1.4" ry="2.2" fill="#777"/><ellipse cx="90.1" cy="263.5" rx="1.4" ry="2.2" fill="#777"/>
<use href="#ms" x="85.9" y="232" fill="url(#mg)" stroke="#b0b0b0" stroke-width="0.5" filter="url(#bs)"/>
<g filter="url(#bs)"><ellipse cx="85.94" cy="250.43" rx="1.63" ry="1.93" fill="#8a8a8a" fill-opacity="0.27"/><ellipse cx="89.44" cy="251.51" rx="1.48" ry="1.77" fill="#8a8a8a" fill-opacity="0.18"/><ellipse cx="82.6" cy="241.56" rx="1.16" ry="0.95" fill="#8a8a8a" fill-opacity="0.28"/><ellipse cx="87.05" cy="251.05" rx="1.43" ry="1.75" fill="#8a8a8a" fill-opacity="0.22"/><ellipse cx="88.58" cy="241.06" rx="1.55" ry="1.5" fill="#8a8a8a" fill-opacity="0.23"/><ellipse cx="81.99" cy="252.87" rx="1.54" ry="1.15" fill="#8a8a8a" fill-opacity="0.16"/><ellipse cx="87.96" cy="245.78" rx="1.01" ry="1.84" fill="#8a8a8a" fill-opacity="0.3"/><circle cx="83.6" cy="240.5" r="0.9" fill="#555" fill-opacity="0.45"/><circle cx="88.2" cy="240.5" r="0.9" fill="#555" fill-opacity="0.45"/></g>
<g filter="url(#bl)"><ellipse cx="85.9" cy="236" rx="3" ry="3" fill="#2e3eaa" fill-opacity="0.8"/><ellipse cx="85.9" cy="236" rx="2.7" ry="2.7" fill="#28b4ea" fill-opacity="1"/><ellipse cx="85.9" cy="236" rx="2.4" ry="2.4" fill="#3cc43c" fill-opacity="1"/><ellipse cx="85.9" cy="236" rx="2.16" ry="2.16" fill="#f5e61e" fill-opacity="1"/><ellipse cx="85.9" cy="236" rx="1.92" ry="1.92" fill="#ee1c1c" fill-opacity="1"/><ellipse cx="85.9" cy="244" rx="5" ry="5" fill="#2e3eaa" fill-opacity="0.8"/><ellipse cx="85.9" cy="244" rx="4.5" ry="4.5" fill="#28b4ea" fill-opacity="1"/><ellipse cx="85.9" cy="244" rx="4" ry="4" fill="#3cc43c" fill-opacity="1"/><ellipse cx="85.9" cy="244" rx="3.6" ry="3.6" fill="#f5e61e" fill-opacity="1"/><ellipse cx="85.9" cy="244" rx="3.2" ry="3.2" fill="#ee1c1c" fill-opacity="1"/><ellipse cx="85.9" cy="250" rx="5" ry="4" fill="#2e3eaa" fill-opacity="0.8"/><ellipse cx="85.9" cy="250" rx="4.1" ry="3.28" fill="#28b4ea" fill-opacity="1"/><ellipse cx="85.9" cy="250" rx="3.3" ry="2.64" fill="#3cc43c" fill-opacity="1"/><ellipse cx="81.9" cy="256" rx="3" ry="3" fill="#2e3eaa" fill-opacity="0.8"/><ellipse cx="81.9" cy="256" rx="2.7" ry="2.7" fill="#28b4ea" fill-opacity="1"/><ellipse cx="81.9" cy="256" rx="2.4" ry="2.4" fill="#3cc43c" fill-opacity="1"/><ellipse cx="81.9" cy="256" rx="2.16" ry="2.16" fill="#f5e61e" fill-opacity="1"/><ellipse cx="81.9" cy="256" rx="1.92" ry="1.92" fill="#ee1c1c" fill-opacity="1"/><ellipse cx="89.9" cy="256" rx="3" ry="3" fill="#2e3eaa" fill-opacity="0.8"/><ellipse cx="89.9" cy="256" rx="2.7" ry="2.7" fill="#28b4ea" fill-opacity="1"/><ellipse cx="89.9" cy="256" rx="2.4" ry="2.4" fill="#3cc43c" fill-opacity="1"/><ellipse cx="89.9" cy="256" rx="2.16" ry="2.16" fill="#f5e61e" fill-opacity="1"/><ellipse cx="89.9" cy="256" rx="1.92" ry="1.92" fill="#ee1c1c" fill-opacity="1"/><ellipse cx="85.9" cy="262" rx="2.5" ry="2.5" fill="#2e3eaa" fill-opacity="0.8"/><ellipse cx="85.9" cy="262" rx="2.25" ry="2.25" fill="#28b4ea" fill-opacity="1"/><ellipse cx="85.9" cy="262" rx="2" ry="2" fill="#3cc43c" fill-opacity="1"/><ellipse cx="85.9" cy="262" rx="1.8" ry="1.8" fill="#f5e61e" fill-opacity="1"/><ellipse cx="85.9" cy="262" rx="1.6" ry="1.6" fill="#ee1c1c" fill-opacity="1"/></g>
<line x1="99.5" y1="261" x2="99.5" y2="268.8" stroke="#8a8a8a" stroke-width="1.0"/>
<ellipse cx="95.3" cy="263.5" rx="1.4" ry="2.2" fill="#777"/><ellipse cx="103.7" cy="263.5" rx="1.4" ry="2.2" fill="#777"/>
<use href="#ms" x="99.5" y="232" fill="url(#mg)" stroke="#b0b0b0" stroke-width="0.5" filter="url(#bs)"/>
<g filter="url(#bs)"><ellipse cx="98.44" cy="249.89" rx="1.28" ry="1.76" fill="#8a8a8a" fill-opacity="0.27"/><ellipse cx="100.78" cy="252.11" rx="0.88" ry="1.01" fill="#8a8a8a" fill-opacity="0.19"/><ellipse cx="97.74" cy="254.38" rx="1.37" ry="0.82" fill="#8a8a8a" fill-opacity="0.16"/><ellipse cx="101.05" cy="245.84" rx="1.49" ry="1.75" fill="#8a8a8a" fill-opacity="0.19"/><ellipse cx="99.18" cy="250.3" rx="1.27" ry="0.97" fill="#8a8a8a" fill-opacity="0.28"/><ellipse cx="103.8" cy="244.59" rx="1.74" ry="0.82" fill="#8a8a8a" fill-opacity="0.22"/><ellipse cx="103.71" cy="255.76" rx="1.25" ry="1.18" fill="#8a8a8a" fill-opacity="0.18"/><circle cx="97.2" cy="240.5" r="0.9" fill="#555" fill-opacity="0.45"/><circle cx="101.8" cy="240.5" r="0.9" fill="#555" fill-opacity="0.45"/></g>
<g filter="url(#bl)"><ellipse cx="99.5" cy="238" rx="4" ry="5" fill="#2e3eaa" fill-opacity="0.8"/><ellipse cx="99.5" cy="238" rx="3.28" ry="4.1" fill="#28b4ea" fill-opacity="1"/><ellipse cx="99.5" cy="238" rx="2.64" ry="3.3" fill="#3cc43c" fill-opacity="1"/><ellipse cx="99.5" cy="245" rx="5" ry="5" fill="#2e3eaa" fill-opacity="0.8"/><ellipse cx="99.5" cy="245" rx="4.5" ry="4.5" fill="#28b4ea" fill-opacity="1"/><ellipse cx="99.5" cy="245" rx="4" ry="4" fill="#3cc43c" fill-opacity="1"/><ellipse cx="99.5" cy="245" rx="3.6" ry="3.6" fill="#f5e61e" fill-opacity="1"/><ellipse cx="99.5" cy="245" rx="3.2" ry="3.2" fill="#ee1c1c" fill-opacity="1"/><ellipse cx="99.5" cy="251" rx="5" ry="4" fill="#2e3eaa" fill-opacity="0.8"/><ellipse cx="99.5" cy="251" rx="4.1" ry="3.28" fill="#28b4ea" fill-opacity="1"/><ellipse cx="99.5" cy="251" rx="3.3" ry="2.64" fill="#3cc43c" fill-opacity="1"/><ellipse cx="95.5" cy="257" rx="3" ry="3" fill="#2e3eaa" fill-opacity="0.8"/><ellipse cx="95.5" cy="257" rx="2.7" ry="2.7" fill="#28b4ea" fill-opacity="1"/><ellipse cx="95.5" cy="257" rx="2.4" ry="2.4" fill="#3cc43c" fill-opacity="1"/><ellipse cx="95.5" cy="257" rx="2.16" ry="2.16" fill="#f5e61e" fill-opacity="1"/><ellipse cx="95.5" cy="257" rx="1.92" ry="1.92" fill="#ee1c1c" fill-opacity="1"/><ellipse cx="103.5" cy="257" rx="3" ry="3" fill="#2e3eaa" fill-opacity="0.8"/><ellipse cx="103.5" cy="257" rx="2.7" ry="2.7" fill="#28b4ea" fill-opacity="1"/><ellipse cx="103.5" cy="257" rx="2.4" ry="2.4" fill="#3cc43c" fill-opacity="1"/><ellipse cx="103.5" cy="257" rx="2.16" ry="2.16" fill="#f5e61e" fill-opacity="1"/><ellipse cx="103.5" cy="257" rx="1.92" ry="1.92" fill="#ee1c1c" fill-opacity="1"/><ellipse cx="99.5" cy="262" rx="2.5" ry="2.5" fill="#2e3eaa" fill-opacity="0.8"/><ellipse cx="99.5" cy="262" rx="2.25" ry="2.25" fill="#28b4ea" fill-opacity="1"/><ellipse cx="99.5" cy="262" rx="2" ry="2" fill="#3cc43c" fill-opacity="1"/><ellipse cx="99.5" cy="262" rx="1.8" ry="1.8" fill="#f5e61e" fill-opacity="1"/><ellipse cx="99.5" cy="262" rx="1.6" ry="1.6" fill="#ee1c1c" fill-opacity="1"/></g>
</g>
<g><rect x="35" y="272" width="75" height="38.5" fill="url(#pbg2)"/>
<line x1="44.8" y1="302.5" x2="44.8" y2="310.3" stroke="#8a8a8a" stroke-width="1.0"/>
<ellipse cx="40.6" cy="305" rx="1.4" ry="2.2" fill="#777"/><ellipse cx="49" cy="305" rx="1.4" ry="2.2" fill="#777"/>
<use href="#ms" x="44.8" y="273.5" fill="url(#mg)" stroke="#b0b0b0" stroke-width="0.5" filter="url(#bs)"/>
<g filter="url(#bs)"><ellipse cx="42.2" cy="299.52" rx="1.38" ry="1" fill="#8a8a8a" fill-opacity="0.23"/><ellipse cx="41.49" cy="299.65" rx="1.62" ry="1.51" fill="#8a8a8a" fill-opacity="0.28"/><ellipse cx="42.38" cy="295.16" rx="1.7" ry="1.48" fill="#8a8a8a" fill-opacity="0.15"/><ellipse cx="44.73" cy="282.56" rx="1.25" ry="1.22" fill="#8a8a8a" fill-opacity="0.17"/><ellipse cx="43.14" cy="288.69" rx="1.64" ry="0.8" fill="#8a8a8a" fill-opacity="0.26"/><ellipse cx="41.38" cy="297.6" rx="1.73" ry="1.8" fill="#8a8a8a" fill-opacity="0.29"/><ellipse cx="43.65" cy="287.72" rx="1.19" ry="2.2" fill="#8a8a8a" fill-opacity="0.24"/><circle cx="42.5" cy="282" r="0.9" fill="#555" fill-opacity="0.45"/><circle cx="47.1" cy="282" r="0.9" fill="#555" fill-opacity="0.45"/></g>
<g filter="url(#bl)"><use href="#ms" x="44.8" y="273.5" fill="#ee1c1c" stroke="#c8b030" stroke-width="0.35" transform="translate(44.8 273.5) scale(1.36 1.12) translate(-44.8 -273.5)"/><ellipse cx="44.8" cy="276" rx="1.4" ry="1.8" fill="#e8d040" fill-opacity="0.55"/></g>
<line x1="58.3" y1="302.5" x2="58.3" y2="310.3" stroke="#8a8a8a" stroke-width="1.0"/>
<ellipse cx="54.1" cy="305" rx="1.4" ry="2.2" fill="#777"/><ellipse cx="62.5" cy="305" rx="1.4" ry="2.2" fill="#777"/>
<use href="#ms" x="58.3" y="273.5" fill="url(#mg)" stroke="#b0b0b0" stroke-width="0.5" filter="url(#bs)"/>
<g filter="url(#bs)"><ellipse cx="57.65" cy="288.99" rx="1.08" ry="0.87" fill="#8a8a8a" fill-opacity="0.17"/><ellipse cx="56.37" cy="297.52" rx="1.74" ry="1.15" fill="#8a8a8a" fill-opacity="0.19"/><ellipse cx="55.51" cy="291.7" rx="1.17" ry="2.14" fill="#8a8a8a" fill-opacity="0.28"/><ellipse cx="59.48" cy="297.12" rx="1.71" ry="2.12" fill="#8a8a8a" fill-opacity="0.23"/><ellipse cx="54.25" cy="295.45" rx="1.53" ry="1.43" fill="#8a8a8a" fill-opacity="0.26"/><ellipse cx="56.38" cy="294.1" rx="0.85" ry="2.1" fill="#8a8a8a" fill-opacity="0.17"/><ellipse cx="56.89" cy="291" rx="1.1" ry="1.83" fill="#8a8a8a" fill-opacity="0.3"/><circle cx="56" cy="282" r="0.9" fill="#555" fill-opacity="0.45"/><circle cx="60.6" cy="282" r="0.9" fill="#555" fill-opacity="0.45"/></g>
<g filter="url(#bl)"><use href="#ms" x="58.3" y="273.5" fill="#ee1c1c" stroke="#d8a030" stroke-width="0.3" transform="translate(58.3 273.5) scale(1.2 1.12) translate(-58.3 -273.5)"/><ellipse cx="58.3" cy="278.5" rx="3" ry="3" fill="#2e3eaa" fill-opacity="0.8"/><ellipse cx="58.3" cy="278.5" rx="2.58" ry="2.58" fill="#28b4ea" fill-opacity="1"/><ellipse cx="58.3" cy="278.5" rx="2.22" ry="2.22" fill="#3cc43c" fill-opacity="1"/><ellipse cx="58.3" cy="278.5" rx="1.86" ry="1.86" fill="#f5e61e" fill-opacity="1"/><ellipse cx="58.3" cy="287.5" rx="3" ry="3" fill="#2e3eaa" fill-opacity="0.8"/><ellipse cx="58.3" cy="287.5" rx="2.58" ry="2.58" fill="#28b4ea" fill-opacity="1"/><ellipse cx="58.3" cy="287.5" rx="2.22" ry="2.22" fill="#3cc43c" fill-opacity="1"/><ellipse cx="58.3" cy="287.5" rx="1.86" ry="1.86" fill="#f5e61e" fill-opacity="1"/><ellipse cx="58.3" cy="293.5" rx="2" ry="2" fill="#2e3eaa" fill-opacity="0.8"/><ellipse cx="58.3" cy="293.5" rx="1.64" ry="1.64" fill="#28b4ea" fill-opacity="1"/><ellipse cx="58.3" cy="293.5" rx="1.32" ry="1.32" fill="#3cc43c" fill-opacity="1"/></g>
<line x1="72.3" y1="302.5" x2="72.3" y2="310.3" stroke="#8a8a8a" stroke-width="1.0"/>
<ellipse cx="68.1" cy="305" rx="1.4" ry="2.2" fill="#777"/><ellipse cx="76.5" cy="305" rx="1.4" ry="2.2" fill="#777"/>
<use href="#ms" x="72.3" y="273.5" fill="url(#mg)" stroke="#b0b0b0" stroke-width="0.5" filter="url(#bs)"/>
<g filter="url(#bs)"><ellipse cx="73.7" cy="287.18" rx="1.1" ry="1.58" fill="#8a8a8a" fill-opacity="0.21"/><ellipse cx="69.25" cy="285.51" rx="1.01" ry="2.07" fill="#8a8a8a" fill-opacity="0.22"/><ellipse cx="75.96" cy="286.46" rx="1.8" ry="1.43" fill="#8a8a8a" fill-opacity="0.17"/><ellipse cx="68.62" cy="285.96" rx="1.14" ry="0.93" fill="#8a8a8a" fill-opacity="0.19"/><ellipse cx="72.93" cy="287.15" rx="1.69" ry="1.85" fill="#8a8a8a" fill-opacity="0.21"/><ellipse cx="72.52" cy="289.95" rx="1.18" ry="1.27" fill="#8a8a8a" fill-opacity="0.16"/><ellipse cx="76.51" cy="287.5" rx="0.93" ry="1.5" fill="#8a8a8a" fill-opacity="0.24"/><circle cx="70" cy="282" r="0.9" fill="#555" fill-opacity="0.45"/><circle cx="74.6" cy="282" r="0.9" fill="#555" fill-opacity="0.45"/></g>
<g filter="url(#bl)"><use href="#ms" x="72.3" y="273.5" fill="#ee1c1c" stroke="#d8a030" stroke-width="0.3" transform="translate(72.3 273.5) scale(1.2 1.12) translate(-72.3 -273.5)"/><ellipse cx="72.3" cy="278.5" rx="3" ry="3" fill="#2e3eaa" fill-opacity="0.8"/><ellipse cx="72.3" cy="278.5" rx="2.46" ry="2.46" fill="#28b4ea" fill-opacity="1"/><ellipse cx="72.3" cy="278.5" rx="1.98" ry="1.98" fill="#3cc43c" fill-opacity="1"/><ellipse cx="72.3" cy="289.5" rx="3.5" ry="2.5" fill="#2e3eaa" fill-opacity="0.8"/><ellipse cx="72.3" cy="289.5" rx="2.87" ry="2.05" fill="#28b4ea" fill-opacity="1"/><ellipse cx="72.3" cy="289.5" rx="2.31" ry="1.65" fill="#3cc43c" fill-opacity="1"/><ellipse cx="72.3" cy="289.5" rx="2" ry="1.5" fill="#2e3eaa" fill-opacity="0.8"/><ellipse cx="72.3" cy="299.5" rx="4" ry="2" fill="#2e3eaa" fill-opacity="0.8"/><ellipse cx="72.3" cy="299.5" rx="3.44" ry="1.72" fill="#28b4ea" fill-opacity="1"/><ellipse cx="72.3" cy="299.5" rx="2.96" ry="1.48" fill="#3cc43c" fill-opacity="1"/><ellipse cx="72.3" cy="299.5" rx="2.48" ry="1.24" fill="#f5e61e" fill-opacity="1"/></g>
<line x1="99.5" y1="302.5" x2="99.5" y2="310.3" stroke="#8a8a8a" stroke-width="1.0"/>
<ellipse cx="95.3" cy="305" rx="1.4" ry="2.2" fill="#777"/><ellipse cx="103.7" cy="305" rx="1.4" ry="2.2" fill="#777"/>
<use href="#ms" x="99.5" y="273.5" fill="url(#mg)" stroke="#b0b0b0" stroke-width="0.5" filter="url(#bs)"/>
<g filter="url(#bs)"><ellipse cx="96.94" cy="298.03" rx="1.07" ry="1.15" fill="#8a8a8a" fill-opacity="0.21"/><ellipse cx="103.59" cy="290.53" rx="1.65" ry="2.02" fill="#8a8a8a" fill-opacity="0.15"/><ellipse cx="101.39" cy="283.08" rx="1.7" ry="1.46" fill="#8a8a8a" fill-opacity="0.24"/><ellipse cx="98.52" cy="282.5" rx="1.73" ry="1.96" fill="#8a8a8a" fill-opacity="0.28"/><ellipse cx="97.24" cy="300" rx="0.91" ry="1.02" fill="#8a8a8a" fill-opacity="0.23"/><ellipse cx="103.47" cy="294.78" rx="1.52" ry="1.71" fill="#8a8a8a" fill-opacity="0.26"/><ellipse cx="99.96" cy="290.73" rx="0.84" ry="1.9" fill="#8a8a8a" fill-opacity="0.18"/><circle cx="97.2" cy="282" r="0.9" fill="#555" fill-opacity="0.45"/><circle cx="101.8" cy="282" r="0.9" fill="#555" fill-opacity="0.45"/></g>
<g filter="url(#bl)"><use href="#ms" x="99.5" y="273.5" fill="#ee1c1c" stroke="#c8b030" stroke-width="0.35" transform="translate(99.5 273.5) scale(1.36 1.12) translate(-99.5 -273.5)"/><ellipse cx="99.5" cy="276" rx="1.4" ry="1.8" fill="#e8d040" fill-opacity="0.55"/></g>
</g>
<g><rect x="112" y="147" width="75" height="38.5" fill="url(#pbg)"/>
<line x1="120.4" y1="177.5" x2="120.4" y2="185.3" stroke="#8a8a8a" stroke-width="1.0"/>
<ellipse cx="116.2" cy="180" rx="1.4" ry="2.2" fill="#777"/><ellipse cx="124.6" cy="180" rx="1.4" ry="2.2" fill="#777"/>
<use href="#ms" x="120.4" y="148.5" fill="url(#mg)" stroke="#b0b0b0" stroke-width="0.5" filter="url(#bs)"/>
<g filter="url(#bs)"><ellipse cx="121.71" cy="174.06" rx="1.1" ry="0.98" fill="#8a8a8a" fill-opacity="0.19"/><ellipse cx="122.19" cy="168.95" rx="0.91" ry="0.9" fill="#8a8a8a" fill-opacity="0.23"/><ellipse cx="119.39" cy="167.99" rx="1.02" ry="1.64" fill="#8a8a8a" fill-opacity="0.15"/><ellipse cx="120.05" cy="162.93" rx="1.76" ry="1.7" fill="#8a8a8a" fill-opacity="0.28"/><ellipse cx="118.01" cy="166.06" rx="1.05" ry="2.14" fill="#8a8a8a" fill-opacity="0.26"/><ellipse cx="116.1" cy="163.03" rx="1.3" ry="1.74" fill="#8a8a8a" fill-opacity="0.21"/><ellipse cx="121.91" cy="162.13" rx="1.73" ry="1.12" fill="#8a8a8a" fill-opacity="0.16"/><circle cx="118.1" cy="157" r="0.9" fill="#555" fill-opacity="0.45"/><circle cx="122.7" cy="157" r="0.9" fill="#555" fill-opacity="0.45"/></g>
<g filter="url(#bl)"><ellipse cx="116.4" cy="174.5" rx="1.6" ry="1.4" fill="#2e3eaa" fill-opacity="0.8"/></g>
<line x1="135.1" y1="177.5" x2="135.1" y2="185.3" stroke="#8a8a8a" stroke-width="1.0"/>
<ellipse cx="130.9" cy="180" rx="1.4" ry="2.2" fill="#777"/><ellipse cx="139.3" cy="180" rx="1.4" ry="2.2" fill="#777"/>
<use href="#ms" x="135.1" y="148.5" fill="url(#mg)" stroke="#b0b0b0" stroke-width="0.5" filter="url(#bs)"/>
<g filter="url(#bs)"><ellipse cx="134.39" cy="163.58" rx="1.48" ry="1.08" fill="#8a8a8a" fill-opacity="0.27"/><ellipse cx="135.14" cy="170.8" rx="1.01" ry="2.16" fill="#8a8a8a" fill-opacity="0.2"/><ellipse cx="132.68" cy="172.26" rx="1.02" ry="1.86" fill="#8a8a8a" fill-opacity="0.19"/><ellipse cx="135.06" cy="174.63" rx="0.99" ry="1.11" fill="#8a8a8a" fill-opacity="0.21"/><ellipse cx="139.14" cy="169.48" rx="0.95" ry="1.35" fill="#8a8a8a" fill-opacity="0.18"/><ellipse cx="131.88" cy="175.03" rx="0.85" ry="0.88" fill="#8a8a8a" fill-opacity="0.21"/><ellipse cx="138.55" cy="173.67" rx="1.53" ry="2.2" fill="#8a8a8a" fill-opacity="0.29"/><circle cx="132.8" cy="157" r="0.9" fill="#555" fill-opacity="0.45"/><circle cx="137.4" cy="157" r="0.9" fill="#555" fill-opacity="0.45"/></g>
<g filter="url(#bl)"><ellipse cx="131.1" cy="175.5" rx="1.8" ry="1.5" fill="#2e3eaa" fill-opacity="0.8"/><ellipse cx="138.1" cy="175.5" rx="1.2" ry="1.2" fill="#2e3eaa" fill-opacity="0.8"/></g>
<line x1="150.2" y1="177.5" x2="150.2" y2="185.3" stroke="#8a8a8a" stroke-width="1.0"/>
<ellipse cx="146" cy="180" rx="1.4" ry="2.2" fill="#777"/><ellipse cx="154.4" cy="180" rx="1.4" ry="2.2" fill="#777"/>
<use href="#ms" x="150.2" y="148.5" fill="url(#mg)" stroke="#b0b0b0" stroke-width="0.5" filter="url(#bs)"/>
<g filter="url(#bs)"><ellipse cx="147.37" cy="163.43" rx="1.74" ry="1.84" fill="#8a8a8a" fill-opacity="0.15"/><ellipse cx="149.11" cy="169.46" rx="1.17" ry="1.26" fill="#8a8a8a" fill-opacity="0.18"/><ellipse cx="148.22" cy="157.55" rx="1.15" ry="2.14" fill="#8a8a8a" fill-opacity="0.17"/><ellipse cx="147.57" cy="174.86" rx="1.16" ry="1.95" fill="#8a8a8a" fill-opacity="0.27"/><ellipse cx="146.14" cy="165.28" rx="1.27" ry="1.32" fill="#8a8a8a" fill-opacity="0.29"/><ellipse cx="148.98" cy="160.97" rx="1.7" ry="0.84" fill="#8a8a8a" fill-opacity="0.21"/><ellipse cx="152.6" cy="172.11" rx="0.84" ry="0.85" fill="#8a8a8a" fill-opacity="0.16"/><circle cx="147.9" cy="157" r="0.9" fill="#555" fill-opacity="0.45"/><circle cx="152.5" cy="157" r="0.9" fill="#555" fill-opacity="0.45"/></g>
<g filter="url(#bl)"><ellipse cx="153.2" cy="175.5" rx="1.5" ry="1.2" fill="#2e3eaa" fill-opacity="0.8"/></g>
<line x1="165.1" y1="177.5" x2="165.1" y2="185.3" stroke="#8a8a8a" stroke-width="1.0"/>
<ellipse cx="160.9" cy="180" rx="1.4" ry="2.2" fill="#777"/><ellipse cx="169.3" cy="180" rx="1.4" ry="2.2" fill="#777"/>
<use href="#ms" x="165.1" y="148.5" fill="url(#mg)" stroke="#b0b0b0" stroke-width="0.5" filter="url(#bs)"/>
<g filter="url(#bs)"><ellipse cx="162.91" cy="174.06" rx="1.55" ry="2.06" fill="#8a8a8a" fill-opacity="0.2"/><ellipse cx="169.22" cy="162.4" rx="1.42" ry="1.17" fill="#8a8a8a" fill-opacity="0.26"/><ellipse cx="163.08" cy="163.2" rx="0.8" ry="1.86" fill="#8a8a8a" fill-opacity="0.29"/><ellipse cx="169.09" cy="168.91" rx="0.82" ry="1.13" fill="#8a8a8a" fill-opacity="0.22"/><ellipse cx="169.19" cy="174.72" rx="1.19" ry="1.15" fill="#8a8a8a" fill-opacity="0.21"/><ellipse cx="168.95" cy="166.38" rx="0.98" ry="1.92" fill="#8a8a8a" fill-opacity="0.26"/><ellipse cx="167.56" cy="172.31" rx="1.41" ry="1.26" fill="#8a8a8a" fill-opacity="0.2"/><circle cx="162.8" cy="157" r="0.9" fill="#555" fill-opacity="0.45"/><circle cx="167.4" cy="157" r="0.9" fill="#555" fill-opacity="0.45"/></g>
<g filter="url(#bl)"><ellipse cx="164.1" cy="176.5" rx="2" ry="1.5" fill="#2e3eaa" fill-opacity="0.8"/></g>
<line x1="179" y1="177.5" x2="179" y2="185.3" stroke="#8a8a8a" stroke-width="1.0"/>
<ellipse cx="174.8" cy="180" rx="1.4" ry="2.2" fill="#777"/><ellipse cx="183.2" cy="180" rx="1.4" ry="2.2" fill="#777"/>
<use href="#ms" x="179" y="148.5" fill="url(#mg)" stroke="#b0b0b0" stroke-width="0.5" filter="url(#bs)"/>
<g filter="url(#bs)"><ellipse cx="181.54" cy="164.01" rx="0.88" ry="1.08" fill="#8a8a8a" fill-opacity="0.26"/><ellipse cx="175.08" cy="161.95" rx="0.83" ry="1.57" fill="#8a8a8a" fill-opacity="0.2"/><ellipse cx="182.45" cy="175.14" rx="1.79" ry="1.17" fill="#8a8a8a" fill-opacity="0.16"/><ellipse cx="178.99" cy="159.24" rx="1.51" ry="1.43" fill="#8a8a8a" fill-opacity="0.19"/><ellipse cx="180.08" cy="165" rx="1.47" ry="1.85" fill="#8a8a8a" fill-opacity="0.28"/><ellipse cx="175.59" cy="169.46" rx="1.64" ry="1.21" fill="#8a8a8a" fill-opacity="0.24"/><ellipse cx="181.14" cy="164.21" rx="1" ry="1.15" fill="#8a8a8a" fill-opacity="0.19"/><circle cx="176.7" cy="157" r="0.9" fill="#555" fill-opacity="0.45"/><circle cx="181.3" cy="157" r="0.9" fill="#555" fill-opacity="0.45"/></g>
<g filter="url(#bl)"><ellipse cx="180" cy="157.5" rx="2.5" ry="2.5" fill="#2e3eaa" fill-opacity="0.8"/><ellipse cx="177" cy="163.5" rx="1.8" ry="1.5" fill="#2e3eaa" fill-opacity="0.8"/><ellipse cx="175" cy="175.5" rx="1.8" ry="1.5" fill="#2e3eaa" fill-opacity="0.8"/></g>
</g>
<g><rect x="112" y="189" width="75" height="38.5" fill="url(#pbg)"/>
<line x1="120.4" y1="219.5" x2="120.4" y2="227.3" stroke="#8a8a8a" stroke-width="1.0"/>
<ellipse cx="116.2" cy="222" rx="1.4" ry="2.2" fill="#777"/><ellipse cx="124.6" cy="222" rx="1.4" ry="2.2" fill="#777"/>
<use href="#ms" x="120.4" y="190.5" fill="url(#mg)" stroke="#b0b0b0" stroke-width="0.5" filter="url(#bs)"/>
<g filter="url(#bs)"><ellipse cx="123.86" cy="202.26" rx="1.38" ry="1.26" fill="#8a8a8a" fill-opacity="0.21"/><ellipse cx="120.47" cy="217.36" rx="1.03" ry="1.93" fill="#8a8a8a" fill-opacity="0.25"/><ellipse cx="116.82" cy="217.34" rx="1.27" ry="1.95" fill="#8a8a8a" fill-opacity="0.28"/><ellipse cx="116.26" cy="215.96" rx="1.09" ry="0.97" fill="#8a8a8a" fill-opacity="0.18"/><ellipse cx="121.15" cy="217.01" rx="1.73" ry="1.32" fill="#8a8a8a" fill-opacity="0.28"/><ellipse cx="118.24" cy="207.58" rx="1.58" ry="2.12" fill="#8a8a8a" fill-opacity="0.17"/><ellipse cx="121.48" cy="210.23" rx="1.02" ry="1.32" fill="#8a8a8a" fill-opacity="0.17"/><circle cx="118.1" cy="199" r="0.9" fill="#555" fill-opacity="0.45"/><circle cx="122.7" cy="199" r="0.9" fill="#555" fill-opacity="0.45"/></g>
<g filter="url(#bl)"><ellipse cx="123.4" cy="200.5" rx="1.8" ry="1.8" fill="#2e3eaa" fill-opacity="0.8"/><ellipse cx="116.4" cy="216.5" rx="2.2" ry="2.2" fill="#2e3eaa" fill-opacity="0.8"/><ellipse cx="116.4" cy="216.5" rx="1.58" ry="1.58" fill="#28b4ea" fill-opacity="1"/><ellipse cx="124.4" cy="216.5" rx="1.8" ry="1.8" fill="#2e3eaa" fill-opacity="0.8"/></g>
<line x1="135.1" y1="219.5" x2="135.1" y2="227.3" stroke="#8a8a8a" stroke-width="1.0"/>
<ellipse cx="130.9" cy="222" rx="1.4" ry="2.2" fill="#777"/><ellipse cx="139.3" cy="222" rx="1.4" ry="2.2" fill="#777"/>
<use href="#ms" x="135.1" y="190.5" fill="url(#mg)" stroke="#b0b0b0" stroke-width="0.5" filter="url(#bs)"/>
<g filter="url(#bs)"><ellipse cx="132.89" cy="203.17" rx="1.4" ry="1.71" fill="#8a8a8a" fill-opacity="0.18"/><ellipse cx="133.55" cy="199.7" rx="1.48" ry="1.06" fill="#8a8a8a" fill-opacity="0.2"/><ellipse cx="137.76" cy="203.16" rx="1.35" ry="0.89" fill="#8a8a8a" fill-opacity="0.17"/><ellipse cx="135.55" cy="206.62" rx="1.44" ry="0.93" fill="#8a8a8a" fill-opacity="0.17"/><ellipse cx="134.29" cy="212.02" rx="1.08" ry="1.23" fill="#8a8a8a" fill-opacity="0.29"/><ellipse cx="135.7" cy="205.12" rx="1.16" ry="1.38" fill="#8a8a8a" fill-opacity="0.28"/><ellipse cx="133.87" cy="217.44" rx="1" ry="1.82" fill="#8a8a8a" fill-opacity="0.18"/><circle cx="132.8" cy="199" r="0.9" fill="#555" fill-opacity="0.45"/><circle cx="137.4" cy="199" r="0.9" fill="#555" fill-opacity="0.45"/></g>
<g filter="url(#bl)"><ellipse cx="135.1" cy="196.5" rx="2.2" ry="1.8" fill="#2e3eaa" fill-opacity="0.8"/><ellipse cx="132.1" cy="202.5" rx="1.8" ry="1.8" fill="#2e3eaa" fill-opacity="0.8"/><ellipse cx="140.1" cy="215.5" rx="2.2" ry="2.2" fill="#2e3eaa" fill-opacity="0.8"/><ellipse cx="140.1" cy="215.5" rx="1.58" ry="1.58" fill="#28b4ea" fill-opacity="1"/></g>
<line x1="150.2" y1="219.5" x2="150.2" y2="227.3" stroke="#8a8a8a" stroke-width="1.0"/>
<ellipse cx="146" cy="222" rx="1.4" ry="2.2" fill="#777"/><ellipse cx="154.4" cy="222" rx="1.4" ry="2.2" fill="#777"/>
<use href="#ms" x="150.2" y="190.5" fill="url(#mg)" stroke="#b0b0b0" stroke-width="0.5" filter="url(#bs)"/>
<g filter="url(#bs)"><ellipse cx="153.81" cy="199.61" rx="1.22" ry="1.95" fill="#8a8a8a" fill-opacity="0.21"/><ellipse cx="149.85" cy="215.39" rx="0.96" ry="0.82" fill="#8a8a8a" fill-opacity="0.23"/><ellipse cx="153.89" cy="211.03" rx="0.89" ry="1.67" fill="#8a8a8a" fill-opacity="0.21"/><ellipse cx="147.01" cy="208.58" rx="1.08" ry="1.53" fill="#8a8a8a" fill-opacity="0.29"/><ellipse cx="150.11" cy="201.46" rx="1.6" ry="2.15" fill="#8a8a8a" fill-opacity="0.18"/><ellipse cx="154.19" cy="201.78" rx="1.78" ry="1.48" fill="#8a8a8a" fill-opacity="0.16"/><ellipse cx="149.19" cy="216.17" rx="1.7" ry="1.67" fill="#8a8a8a" fill-opacity="0.27"/><circle cx="147.9" cy="199" r="0.9" fill="#555" fill-opacity="0.45"/><circle cx="152.5" cy="199" r="0.9" fill="#555" fill-opacity="0.45"/></g>
<g filter="url(#bl)"><ellipse cx="152.2" cy="198.5" rx="1.8" ry="1.5" fill="#2e3eaa" fill-opacity="0.8"/><ellipse cx="145.2" cy="216.5" rx="1.8" ry="1.8" fill="#2e3eaa" fill-opacity="0.8"/></g>
<line x1="165.1" y1="219.5" x2="165.1" y2="227.3" stroke="#8a8a8a" stroke-width="1.0"/>
<ellipse cx="160.9" cy="222" rx="1.4" ry="2.2" fill="#777"/><ellipse cx="169.3" cy="222" rx="1.4" ry="2.2" fill="#777"/>
<use href="#ms" x="165.1" y="190.5" fill="url(#mg)" stroke="#b0b0b0" stroke-width="0.5" filter="url(#bs)"/>
<g filter="url(#bs)"><ellipse cx="167.67" cy="202.38" rx="1.02" ry="1.37" fill="#8a8a8a" fill-opacity="0.28"/><ellipse cx="162.25" cy="214.43" rx="1.02" ry="1.36" fill="#8a8a8a" fill-opacity="0.23"/><ellipse cx="161.71" cy="206.4" rx="1.05" ry="1.81" fill="#8a8a8a" fill-opacity="0.28"/><ellipse cx="165.66" cy="200.24" rx="1.56" ry="0.85" fill="#8a8a8a" fill-opacity="0.28"/><ellipse cx="166" cy="201.62" rx="1.35" ry="1.68" fill="#8a8a8a" fill-opacity="0.2"/><ellipse cx="165.84" cy="207.06" rx="1.23" ry="1.72" fill="#8a8a8a" fill-opacity="0.22"/><ellipse cx="160.81" cy="207.39" rx="1.42" ry="1.49" fill="#8a8a8a" fill-opacity="0.19"/><circle cx="162.8" cy="199" r="0.9" fill="#555" fill-opacity="0.45"/><circle cx="167.4" cy="199" r="0.9" fill="#555" fill-opacity="0.45"/></g>
<g filter="url(#bl)"><ellipse cx="167.1" cy="196.5" rx="1.8" ry="1.5" fill="#2e3eaa" fill-opacity="0.8"/><ellipse cx="161.1" cy="216.5" rx="1.8" ry="1.8" fill="#2e3eaa" fill-opacity="0.8"/></g>
<line x1="179" y1="219.5" x2="179" y2="227.3" stroke="#8a8a8a" stroke-width="1.0"/>
<ellipse cx="174.8" cy="222" rx="1.4" ry="2.2" fill="#777"/><ellipse cx="183.2" cy="222" rx="1.4" ry="2.2" fill="#777"/>
<use href="#ms" x="179" y="190.5" fill="url(#mg)" stroke="#b0b0b0" stroke-width="0.5" filter="url(#bs)"/>
<g filter="url(#bs)"><ellipse cx="181.52" cy="213.24" rx="1.26" ry="1.05" fill="#8a8a8a" fill-opacity="0.22"/><ellipse cx="175.66" cy="201.43" rx="1.23" ry="0.93" fill="#8a8a8a" fill-opacity="0.22"/><ellipse cx="174.87" cy="208.68" rx="1.44" ry="0.92" fill="#8a8a8a" fill-opacity="0.26"/><ellipse cx="179.1" cy="213.5" rx="0.85" ry="1.51" fill="#8a8a8a" fill-opacity="0.21"/><ellipse cx="175.73" cy="216.62" rx="1.66" ry="2.19" fill="#8a8a8a" fill-opacity="0.26"/><ellipse cx="176.24" cy="214.17" rx="1.78" ry="1.49" fill="#8a8a8a" fill-opacity="0.29"/><ellipse cx="175.99" cy="215.99" rx="1.59" ry="2.1" fill="#8a8a8a" fill-opacity="0.16"/><circle cx="176.7" cy="199" r="0.9" fill="#555" fill-opacity="0.45"/><circle cx="181.3" cy="199" r="0.9" fill="#555" fill-opacity="0.45"/></g>
<g filter="url(#bl)"><ellipse cx="179" cy="199.5" rx="4.5" ry="6" fill="#2e3eaa" fill-opacity="0.8"/><ellipse cx="177" cy="206.5" rx="2.5" ry="2.5" fill="#2e3eaa" fill-opacity="0.8"/><ellipse cx="175" cy="216.5" rx="2.5" ry="2.5" fill="#2e3eaa" fill-opacity="0.8"/><ellipse cx="175" cy="216.5" rx="1.8" ry="1.8" fill="#28b4ea" fill-opacity="1"/><ellipse cx="183" cy="215.5" rx="2" ry="2" fill="#2e3eaa" fill-opacity="0.8"/></g>
</g>
<g><rect x="112" y="230.5" width="75" height="38.5" fill="url(#pbg)"/>
<line x1="120.4" y1="261" x2="120.4" y2="268.8" stroke="#8a8a8a" stroke-width="1.0"/>
<ellipse cx="116.2" cy="263.5" rx="1.4" ry="2.2" fill="#777"/><ellipse cx="124.6" cy="263.5" rx="1.4" ry="2.2" fill="#777"/>
<use href="#ms" x="120.4" y="232" fill="url(#mg)" stroke="#b0b0b0" stroke-width="0.5" filter="url(#bs)"/>
<g filter="url(#bs)"><ellipse cx="122.71" cy="247.32" rx="0.96" ry="2.06" fill="#8a8a8a" fill-opacity="0.19"/><ellipse cx="117.19" cy="255.68" rx="1.3" ry="2.09" fill="#8a8a8a" fill-opacity="0.18"/><ellipse cx="120.45" cy="245.73" rx="1.12" ry="0.85" fill="#8a8a8a" fill-opacity="0.18"/><ellipse cx="124.33" cy="243.9" rx="1.48" ry="2.05" fill="#8a8a8a" fill-opacity="0.18"/><ellipse cx="116.94" cy="255.13" rx="1.33" ry="1.69" fill="#8a8a8a" fill-opacity="0.2"/><ellipse cx="120.9" cy="256.71" rx="1.38" ry="2.04" fill="#8a8a8a" fill-opacity="0.17"/><ellipse cx="121.57" cy="258.87" rx="1.19" ry="1.92" fill="#8a8a8a" fill-opacity="0.19"/><circle cx="118.1" cy="240.5" r="0.9" fill="#555" fill-opacity="0.45"/><circle cx="122.7" cy="240.5" r="0.9" fill="#555" fill-opacity="0.45"/></g>
<g filter="url(#bl)"><ellipse cx="119.4" cy="244" rx="4" ry="6" fill="#2e3eaa" fill-opacity="0.8"/><ellipse cx="115.4" cy="258" rx="2.2" ry="2.2" fill="#2e3eaa" fill-opacity="0.8"/><ellipse cx="115.4" cy="258" rx="1.98" ry="1.98" fill="#28b4ea" fill-opacity="1"/><ellipse cx="115.4" cy="258" rx="1.76" ry="1.76" fill="#3cc43c" fill-opacity="1"/><ellipse cx="115.4" cy="258" rx="1.58" ry="1.58" fill="#f5e61e" fill-opacity="1"/><ellipse cx="115.4" cy="258" rx="1.41" ry="1.41" fill="#ee1c1c" fill-opacity="1"/><ellipse cx="123.4" cy="259" rx="2.2" ry="2.2" fill="#2e3eaa" fill-opacity="0.8"/><ellipse cx="123.4" cy="259" rx="1.8" ry="1.8" fill="#28b4ea" fill-opacity="1"/><ellipse cx="123.4" cy="259" rx="1.45" ry="1.45" fill="#3cc43c" fill-opacity="1"/></g>
<line x1="135.1" y1="261" x2="135.1" y2="268.8" stroke="#8a8a8a" stroke-width="1.0"/>
<ellipse cx="130.9" cy="263.5" rx="1.4" ry="2.2" fill="#777"/><ellipse cx="139.3" cy="263.5" rx="1.4" ry="2.2" fill="#777"/>
<use href="#ms" x="135.1" y="232" fill="url(#mg)" stroke="#b0b0b0" stroke-width="0.5" filter="url(#bs)"/>
<g filter="url(#bs)"><ellipse cx="135.8" cy="258.83" rx="1.16" ry="1.87" fill="#8a8a8a" fill-opacity="0.22"/><ellipse cx="137.29" cy="244.18" rx="0.85" ry="1.95" fill="#8a8a8a" fill-opacity="0.19"/><ellipse cx="139.46" cy="252.51" rx="1.39" ry="1.73" fill="#8a8a8a" fill-opacity="0.2"/><ellipse cx="130.9" cy="241.03" rx="0.95" ry="1.66" fill="#8a8a8a" fill-opacity="0.21"/><ellipse cx="138.66" cy="250.23" rx="0.93" ry="1.12" fill="#8a8a8a" fill-opacity="0.25"/><ellipse cx="130.62" cy="241.4" rx="1.15" ry="0.95" fill="#8a8a8a" fill-opacity="0.2"/><ellipse cx="135.85" cy="245.04" rx="1.39" ry="1.09" fill="#8a8a8a" fill-opacity="0.24"/><circle cx="132.8" cy="240.5" r="0.9" fill="#555" fill-opacity="0.45"/><circle cx="137.4" cy="240.5" r="0.9" fill="#555" fill-opacity="0.45"/></g>
<g filter="url(#bl)"><ellipse cx="135.1" cy="244" rx="5" ry="8" fill="#2e3eaa" fill-opacity="0.8"/><ellipse cx="135.1" cy="248" rx="2" ry="2" fill="#2e3eaa" fill-opacity="0.8"/><ellipse cx="135.1" cy="248" rx="1.44" ry="1.44" fill="#28b4ea" fill-opacity="1"/><ellipse cx="130.1" cy="257" rx="2.8" ry="2.8" fill="#2e3eaa" fill-opacity="0.8"/><ellipse cx="130.1" cy="257" rx="2.52" ry="2.52" fill="#28b4ea" fill-opacity="1"/><ellipse cx="130.1" cy="257" rx="2.24" ry="2.24" fill="#3cc43c" fill-opacity="1"/><ellipse cx="130.1" cy="257" rx="2.02" ry="2.02" fill="#f5e61e" fill-opacity="1"/><ellipse cx="130.1" cy="257" rx="1.79" ry="1.79" fill="#ee1c1c" fill-opacity="1"/><ellipse cx="139.1" cy="257" rx="2.8" ry="2.8" fill="#2e3eaa" fill-opacity="0.8"/><ellipse cx="139.1" cy="257" rx="2.52" ry="2.52" fill="#28b4ea" fill-opacity="1"/><ellipse cx="139.1" cy="257" rx="2.24" ry="2.24" fill="#3cc43c" fill-opacity="1"/><ellipse cx="139.1" cy="257" rx="2.02" ry="2.02" fill="#f5e61e" fill-opacity="1"/><ellipse cx="139.1" cy="257" rx="1.79" ry="1.79" fill="#ee1c1c" fill-opacity="1"/></g>
<line x1="150.2" y1="261" x2="150.2" y2="268.8" stroke="#8a8a8a" stroke-width="1.0"/>
<ellipse cx="146" cy="263.5" rx="1.4" ry="2.2" fill="#777"/><ellipse cx="154.4" cy="263.5" rx="1.4" ry="2.2" fill="#777"/>
<use href="#ms" x="150.2" y="232" fill="url(#mg)" stroke="#b0b0b0" stroke-width="0.5" filter="url(#bs)"/>
<g filter="url(#bs)"><ellipse cx="146.91" cy="249.55" rx="1.74" ry="1.14" fill="#8a8a8a" fill-opacity="0.17"/><ellipse cx="151.44" cy="242.72" rx="1.67" ry="1.9" fill="#8a8a8a" fill-opacity="0.21"/><ellipse cx="145.8" cy="245.76" rx="1.44" ry="1.59" fill="#8a8a8a" fill-opacity="0.2"/><ellipse cx="149.69" cy="252.62" rx="1.74" ry="1.83" fill="#8a8a8a" fill-opacity="0.19"/><ellipse cx="146.1" cy="257.26" rx="1.33" ry="1.37" fill="#8a8a8a" fill-opacity="0.19"/><ellipse cx="152.71" cy="242.05" rx="0.81" ry="1.57" fill="#8a8a8a" fill-opacity="0.29"/><ellipse cx="147.5" cy="243.56" rx="1.41" ry="1.51" fill="#8a8a8a" fill-opacity="0.25"/><circle cx="147.9" cy="240.5" r="0.9" fill="#555" fill-opacity="0.45"/><circle cx="152.5" cy="240.5" r="0.9" fill="#555" fill-opacity="0.45"/></g>
<g filter="url(#bl)"><ellipse cx="152.2" cy="242" rx="2" ry="2" fill="#2e3eaa" fill-opacity="0.8"/><ellipse cx="146.2" cy="258" rx="2" ry="2" fill="#2e3eaa" fill-opacity="0.8"/><ellipse cx="146.2" cy="258" rx="1.44" ry="1.44" fill="#28b4ea" fill-opacity="1"/><ellipse cx="154.2" cy="259" rx="1.8" ry="1.8" fill="#2e3eaa" fill-opacity="0.8"/></g>
<line x1="165.1" y1="261" x2="165.1" y2="268.8" stroke="#8a8a8a" stroke-width="1.0"/>
<ellipse cx="160.9" cy="263.5" rx="1.4" ry="2.2" fill="#777"/><ellipse cx="169.3" cy="263.5" rx="1.4" ry="2.2" fill="#777"/>
<use href="#ms" x="165.1" y="232" fill="url(#mg)" stroke="#b0b0b0" stroke-width="0.5" filter="url(#bs)"/>
<g filter="url(#bs)"><ellipse cx="162.17" cy="255.64" rx="1.11" ry="1.22" fill="#8a8a8a" fill-opacity="0.16"/><ellipse cx="167.65" cy="257.01" rx="1.52" ry="0.81" fill="#8a8a8a" fill-opacity="0.28"/><ellipse cx="164.79" cy="254.41" rx="1.54" ry="1.43" fill="#8a8a8a" fill-opacity="0.18"/><ellipse cx="162.69" cy="242.9" rx="0.84" ry="1.27" fill="#8a8a8a" fill-opacity="0.26"/><ellipse cx="168.21" cy="253.51" rx="1.51" ry="1.17" fill="#8a8a8a" fill-opacity="0.23"/><ellipse cx="167.7" cy="248.85" rx="1.32" ry="1.17" fill="#8a8a8a" fill-opacity="0.25"/><ellipse cx="162.55" cy="258.37" rx="1.68" ry="0.82" fill="#8a8a8a" fill-opacity="0.19"/><circle cx="162.8" cy="240.5" r="0.9" fill="#555" fill-opacity="0.45"/><circle cx="167.4" cy="240.5" r="0.9" fill="#555" fill-opacity="0.45"/></g>
<g filter="url(#bl)"><ellipse cx="165.1" cy="238" rx="4" ry="2.5" fill="#2e3eaa" fill-opacity="0.8"/><ellipse cx="170.1" cy="258" rx="2.2" ry="2.2" fill="#2e3eaa" fill-opacity="0.8"/><ellipse cx="170.1" cy="258" rx="1.98" ry="1.98" fill="#28b4ea" fill-opacity="1"/><ellipse cx="170.1" cy="258" rx="1.76" ry="1.76" fill="#3cc43c" fill-opacity="1"/><ellipse cx="170.1" cy="258" rx="1.58" ry="1.58" fill="#f5e61e" fill-opacity="1"/><ellipse cx="170.1" cy="258" rx="1.41" ry="1.41" fill="#ee1c1c" fill-opacity="1"/><ellipse cx="161.1" cy="259" rx="1.8" ry="1.8" fill="#2e3eaa" fill-opacity="0.8"/><ellipse cx="161.1" cy="259" rx="1.3" ry="1.3" fill="#28b4ea" fill-opacity="1"/></g>
<line x1="179" y1="261" x2="179" y2="268.8" stroke="#8a8a8a" stroke-width="1.0"/>
<ellipse cx="174.8" cy="263.5" rx="1.4" ry="2.2" fill="#777"/><ellipse cx="183.2" cy="263.5" rx="1.4" ry="2.2" fill="#777"/>
<use href="#ms" x="179" y="232" fill="url(#mg)" stroke="#b0b0b0" stroke-width="0.5" filter="url(#bs)"/>
<g filter="url(#bs)"><ellipse cx="181.19" cy="245.25" rx="1.74" ry="1.84" fill="#8a8a8a" fill-opacity="0.2"/><ellipse cx="177.46" cy="256.84" rx="1.04" ry="2.07" fill="#8a8a8a" fill-opacity="0.24"/><ellipse cx="180.49" cy="253.47" rx="1.78" ry="1.46" fill="#8a8a8a" fill-opacity="0.28"/><ellipse cx="182.22" cy="253.56" rx="1.24" ry="1.81" fill="#8a8a8a" fill-opacity="0.24"/><ellipse cx="176.41" cy="246.54" rx="1.42" ry="0.91" fill="#8a8a8a" fill-opacity="0.29"/><ellipse cx="174.74" cy="243.6" rx="0.91" ry="2.1" fill="#8a8a8a" fill-opacity="0.2"/><ellipse cx="174.76" cy="243.55" rx="0.84" ry="1.77" fill="#8a8a8a" fill-opacity="0.25"/><circle cx="176.7" cy="240.5" r="0.9" fill="#555" fill-opacity="0.45"/><circle cx="181.3" cy="240.5" r="0.9" fill="#555" fill-opacity="0.45"/></g>
<g filter="url(#bl)"><ellipse cx="179" cy="242" rx="5" ry="8" fill="#2e3eaa" fill-opacity="0.8"/><ellipse cx="179" cy="242" rx="3.6" ry="5.76" fill="#28b4ea" fill-opacity="1"/><ellipse cx="179" cy="247" rx="2.5" ry="2.5" fill="#2e3eaa" fill-opacity="0.8"/><ellipse cx="179" cy="247" rx="2.05" ry="2.05" fill="#28b4ea" fill-opacity="1"/><ellipse cx="179" cy="247" rx="1.65" ry="1.65" fill="#3cc43c" fill-opacity="1"/><ellipse cx="174" cy="257" rx="2.8" ry="2.8" fill="#2e3eaa" fill-opacity="0.8"/><ellipse cx="174" cy="257" rx="2.52" ry="2.52" fill="#28b4ea" fill-opacity="1"/><ellipse cx="174" cy="257" rx="2.24" ry="2.24" fill="#3cc43c" fill-opacity="1"/><ellipse cx="174" cy="257" rx="2.02" ry="2.02" fill="#f5e61e" fill-opacity="1"/><ellipse cx="174" cy="257" rx="1.79" ry="1.79" fill="#ee1c1c" fill-opacity="1"/><ellipse cx="183" cy="258" rx="2.5" ry="2.5" fill="#2e3eaa" fill-opacity="0.8"/><ellipse cx="183" cy="258" rx="2.15" ry="2.15" fill="#28b4ea" fill-opacity="1"/><ellipse cx="183" cy="258" rx="1.85" ry="1.85" fill="#3cc43c" fill-opacity="1"/><ellipse cx="183" cy="258" rx="1.55" ry="1.55" fill="#f5e61e" fill-opacity="1"/></g>
</g>
<g><rect x="112" y="272" width="75" height="38.5" fill="url(#pbg)"/>
<line x1="119" y1="302.5" x2="119" y2="310.3" stroke="#8a8a8a" stroke-width="1.0"/>
<ellipse cx="114.8" cy="305" rx="1.4" ry="2.2" fill="#777"/><ellipse cx="123.2" cy="305" rx="1.4" ry="2.2" fill="#777"/>
<use href="#ms" x="119" y="273.5" fill="url(#mg)" stroke="#b0b0b0" stroke-width="0.5" filter="url(#bs)"/>
<g filter="url(#bs)"><ellipse cx="121.13" cy="295.05" rx="0.87" ry="1.63" fill="#8a8a8a" fill-opacity="0.2"/><ellipse cx="121.88" cy="297.22" rx="1.69" ry="0.89" fill="#8a8a8a" fill-opacity="0.28"/><ellipse cx="123" cy="298.96" rx="0.91" ry="1.09" fill="#8a8a8a" fill-opacity="0.17"/><ellipse cx="122.13" cy="283.12" rx="1.61" ry="1.69" fill="#8a8a8a" fill-opacity="0.27"/><ellipse cx="117.09" cy="293.87" rx="0.9" ry="0.94" fill="#8a8a8a" fill-opacity="0.26"/><ellipse cx="117.37" cy="286.19" rx="1.22" ry="0.83" fill="#8a8a8a" fill-opacity="0.19"/><ellipse cx="120.94" cy="287.59" rx="1.17" ry="1.25" fill="#8a8a8a" fill-opacity="0.29"/><circle cx="116.7" cy="282" r="0.9" fill="#555" fill-opacity="0.45"/><circle cx="121.3" cy="282" r="0.9" fill="#555" fill-opacity="0.45"/></g>
<g filter="url(#bl)"><use href="#ms" x="119" y="273.5" fill="#4a6ad8" fill-opacity="0.75"/><ellipse cx="119" cy="287.5" rx="4" ry="8" fill="#30b0e0" fill-opacity="0.6"/><ellipse cx="119" cy="287.5" rx="4.5" ry="5" fill="#2e3eaa" fill-opacity="0.8"/><ellipse cx="119" cy="287.5" rx="3.69" ry="4.1" fill="#28b4ea" fill-opacity="1"/><ellipse cx="119" cy="287.5" rx="2.97" ry="3.3" fill="#3cc43c" fill-opacity="1"/><ellipse cx="119" cy="294.5" rx="3" ry="2" fill="#f4f4f8"/><ellipse cx="114" cy="300.5" rx="2.8" ry="2.8" fill="#2e3eaa" fill-opacity="0.8"/><ellipse cx="114" cy="300.5" rx="2.52" ry="2.52" fill="#28b4ea" fill-opacity="1"/><ellipse cx="114" cy="300.5" rx="2.24" ry="2.24" fill="#3cc43c" fill-opacity="1"/><ellipse cx="114" cy="300.5" rx="2.02" ry="2.02" fill="#f5e61e" fill-opacity="1"/><ellipse cx="114" cy="300.5" rx="1.79" ry="1.79" fill="#ee1c1c" fill-opacity="1"/><ellipse cx="120" cy="299.5" rx="3" ry="3" fill="#2e3eaa" fill-opacity="0.8"/><ellipse cx="120" cy="299.5" rx="2.7" ry="2.7" fill="#28b4ea" fill-opacity="1"/><ellipse cx="120" cy="299.5" rx="2.4" ry="2.4" fill="#3cc43c" fill-opacity="1"/><ellipse cx="120" cy="299.5" rx="2.16" ry="2.16" fill="#f5e61e" fill-opacity="1"/><ellipse cx="120" cy="299.5" rx="1.92" ry="1.92" fill="#ee1c1c" fill-opacity="1"/></g>
<line x1="133.7" y1="302.5" x2="133.7" y2="310.3" stroke="#8a8a8a" stroke-width="1.0"/>
<ellipse cx="129.5" cy="305" rx="1.4" ry="2.2" fill="#777"/><ellipse cx="137.9" cy="305" rx="1.4" ry="2.2" fill="#777"/>
<use href="#ms" x="133.7" y="273.5" fill="url(#mg)" stroke="#b0b0b0" stroke-width="0.5" filter="url(#bs)"/>
<g filter="url(#bs)"><ellipse cx="136.86" cy="291.57" rx="1.42" ry="0.84" fill="#8a8a8a" fill-opacity="0.21"/><ellipse cx="136.16" cy="290.36" rx="1.15" ry="1.79" fill="#8a8a8a" fill-opacity="0.23"/><ellipse cx="136.96" cy="286.4" rx="0.89" ry="1.95" fill="#8a8a8a" fill-opacity="0.18"/><ellipse cx="131.02" cy="282.52" rx="1.56" ry="2.17" fill="#8a8a8a" fill-opacity="0.15"/><ellipse cx="133.62" cy="291.33" rx="1.6" ry="1.06" fill="#8a8a8a" fill-opacity="0.22"/><ellipse cx="136.69" cy="288.75" rx="1.06" ry="2.12" fill="#8a8a8a" fill-opacity="0.19"/><ellipse cx="135.5" cy="286.36" rx="1.3" ry="0.95" fill="#8a8a8a" fill-opacity="0.25"/><circle cx="131.4" cy="282" r="0.9" fill="#555" fill-opacity="0.45"/><circle cx="136" cy="282" r="0.9" fill="#555" fill-opacity="0.45"/></g>
<g filter="url(#bl)"><use href="#ms" x="133.7" y="273.5" fill="#4a6ad8" fill-opacity="0.75"/><ellipse cx="133.7" cy="287.5" rx="4" ry="8" fill="#30b0e0" fill-opacity="0.6"/><ellipse cx="133.7" cy="277.5" rx="3" ry="3" fill="#2e3eaa" fill-opacity="0.8"/><ellipse cx="133.7" cy="277.5" rx="2.7" ry="2.7" fill="#28b4ea" fill-opacity="1"/><ellipse cx="133.7" cy="277.5" rx="2.4" ry="2.4" fill="#3cc43c" fill-opacity="1"/><ellipse cx="133.7" cy="277.5" rx="2.16" ry="2.16" fill="#f5e61e" fill-opacity="1"/><ellipse cx="133.7" cy="277.5" rx="1.92" ry="1.92" fill="#ee1c1c" fill-opacity="1"/><ellipse cx="133.7" cy="286.5" rx="5" ry="6" fill="#2e3eaa" fill-opacity="0.8"/><ellipse cx="133.7" cy="286.5" rx="4.5" ry="5.4" fill="#28b4ea" fill-opacity="1"/><ellipse cx="133.7" cy="286.5" rx="4" ry="4.8" fill="#3cc43c" fill-opacity="1"/><ellipse cx="133.7" cy="286.5" rx="3.6" ry="4.32" fill="#f5e61e" fill-opacity="1"/><ellipse cx="133.7" cy="286.5" rx="3.2" ry="3.84" fill="#ee1c1c" fill-opacity="1"/><ellipse cx="129.7" cy="296.5" rx="3" ry="3" fill="#2e3eaa" fill-opacity="0.8"/><ellipse cx="129.7" cy="296.5" rx="2.7" ry="2.7" fill="#28b4ea" fill-opacity="1"/><ellipse cx="129.7" cy="296.5" rx="2.4" ry="2.4" fill="#3cc43c" fill-opacity="1"/><ellipse cx="129.7" cy="296.5" rx="2.16" ry="2.16" fill="#f5e61e" fill-opacity="1"/><ellipse cx="129.7" cy="296.5" rx="1.92" ry="1.92" fill="#ee1c1c" fill-opacity="1"/><ellipse cx="137.7" cy="296.5" rx="3" ry="3" fill="#2e3eaa" fill-opacity="0.8"/><ellipse cx="137.7" cy="296.5" rx="2.7" ry="2.7" fill="#28b4ea" fill-opacity="1"/><ellipse cx="137.7" cy="296.5" rx="2.4" ry="2.4" fill="#3cc43c" fill-opacity="1"/><ellipse cx="137.7" cy="296.5" rx="2.16" ry="2.16" fill="#f5e61e" fill-opacity="1"/><ellipse cx="137.7" cy="296.5" rx="1.92" ry="1.92" fill="#ee1c1c" fill-opacity="1"/><ellipse cx="133.7" cy="301.5" rx="3" ry="2" fill="#2e3eaa" fill-opacity="0.8"/><ellipse cx="133.7" cy="301.5" rx="2.46" ry="1.64" fill="#28b4ea" fill-opacity="1"/><ellipse cx="133.7" cy="301.5" rx="1.98" ry="1.32" fill="#3cc43c" fill-opacity="1"/></g>
<line x1="148.3" y1="302.5" x2="148.3" y2="310.3" stroke="#8a8a8a" stroke-width="1.0"/>
<ellipse cx="144.1" cy="305" rx="1.4" ry="2.2" fill="#777"/><ellipse cx="152.5" cy="305" rx="1.4" ry="2.2" fill="#777"/>
<use href="#ms" x="148.3" y="273.5" fill="url(#mg)" stroke="#b0b0b0" stroke-width="0.5" filter="url(#bs)"/>
<g filter="url(#bs)"><ellipse cx="150.89" cy="283.96" rx="1.5" ry="1.9" fill="#8a8a8a" fill-opacity="0.24"/><ellipse cx="147.41" cy="288.9" rx="1.19" ry="2.05" fill="#8a8a8a" fill-opacity="0.16"/><ellipse cx="144.03" cy="298.49" rx="1.01" ry="1.17" fill="#8a8a8a" fill-opacity="0.29"/><ellipse cx="147.21" cy="291.52" rx="1.68" ry="1.13" fill="#8a8a8a" fill-opacity="0.22"/><ellipse cx="150.59" cy="292.07" rx="1.55" ry="1.7" fill="#8a8a8a" fill-opacity="0.2"/><ellipse cx="145.2" cy="288.38" rx="1.64" ry="1.73" fill="#8a8a8a" fill-opacity="0.26"/><ellipse cx="147.75" cy="285.55" rx="1.57" ry="1.61" fill="#8a8a8a" fill-opacity="0.17"/><circle cx="146" cy="282" r="0.9" fill="#555" fill-opacity="0.45"/><circle cx="150.6" cy="282" r="0.9" fill="#555" fill-opacity="0.45"/></g>
<g filter="url(#bl)"><use href="#ms" x="148.3" y="273.5" fill="#4a6ad8" fill-opacity="0.75"/><ellipse cx="148.3" cy="287.5" rx="4" ry="8" fill="#30b0e0" fill-opacity="0.6"/><ellipse cx="148.3" cy="281.5" rx="4" ry="4" fill="#2e3eaa" fill-opacity="0.8"/><ellipse cx="148.3" cy="281.5" rx="2.88" ry="2.88" fill="#28b4ea" fill-opacity="1"/><ellipse cx="148.3" cy="288.5" rx="5" ry="2.8" fill="#2e3eaa" fill-opacity="0.8"/><ellipse cx="148.3" cy="288.5" rx="4.5" ry="2.52" fill="#28b4ea" fill-opacity="1"/><ellipse cx="148.3" cy="288.5" rx="4" ry="2.24" fill="#3cc43c" fill-opacity="1"/><ellipse cx="148.3" cy="288.5" rx="3.6" ry="2.02" fill="#f5e61e" fill-opacity="1"/><ellipse cx="148.3" cy="288.5" rx="3.2" ry="1.79" fill="#ee1c1c" fill-opacity="1"/><ellipse cx="145.3" cy="297.5" rx="3" ry="3" fill="#2e3eaa" fill-opacity="0.8"/><ellipse cx="145.3" cy="297.5" rx="2.7" ry="2.7" fill="#28b4ea" fill-opacity="1"/><ellipse cx="145.3" cy="297.5" rx="2.4" ry="2.4" fill="#3cc43c" fill-opacity="1"/><ellipse cx="145.3" cy="297.5" rx="2.16" ry="2.16" fill="#f5e61e" fill-opacity="1"/><ellipse cx="145.3" cy="297.5" rx="1.92" ry="1.92" fill="#ee1c1c" fill-opacity="1"/><ellipse cx="153.3" cy="297.5" rx="3" ry="3" fill="#2e3eaa" fill-opacity="0.8"/><ellipse cx="153.3" cy="297.5" rx="2.7" ry="2.7" fill="#28b4ea" fill-opacity="1"/><ellipse cx="153.3" cy="297.5" rx="2.4" ry="2.4" fill="#3cc43c" fill-opacity="1"/><ellipse cx="153.3" cy="297.5" rx="2.16" ry="2.16" fill="#f5e61e" fill-opacity="1"/><ellipse cx="153.3" cy="297.5" rx="1.92" ry="1.92" fill="#ee1c1c" fill-opacity="1"/></g>
<line x1="162.2" y1="302.5" x2="162.2" y2="310.3" stroke="#8a8a8a" stroke-width="1.0"/>
<ellipse cx="158" cy="305" rx="1.4" ry="2.2" fill="#777"/><ellipse cx="166.4" cy="305" rx="1.4" ry="2.2" fill="#777"/>
<use href="#ms" x="162.2" y="273.5" fill="url(#mg)" stroke="#b0b0b0" stroke-width="0.5" filter="url(#bs)"/>
<g filter="url(#bs)"><ellipse cx="165.67" cy="290.82" rx="1.04" ry="1.07" fill="#8a8a8a" fill-opacity="0.2"/><ellipse cx="165.29" cy="295.16" rx="0.95" ry="1.02" fill="#8a8a8a" fill-opacity="0.19"/><ellipse cx="162.4" cy="288.38" rx="0.96" ry="1.26" fill="#8a8a8a" fill-opacity="0.18"/><ellipse cx="164.26" cy="300.05" rx="0.9" ry="2.15" fill="#8a8a8a" fill-opacity="0.17"/><ellipse cx="166.55" cy="289.42" rx="1.59" ry="1.83" fill="#8a8a8a" fill-opacity="0.22"/><ellipse cx="163.44" cy="286.03" rx="0.91" ry="1.09" fill="#8a8a8a" fill-opacity="0.21"/><ellipse cx="161.29" cy="283.11" rx="1.59" ry="1.77" fill="#8a8a8a" fill-opacity="0.23"/><circle cx="159.9" cy="282" r="0.9" fill="#555" fill-opacity="0.45"/><circle cx="164.5" cy="282" r="0.9" fill="#555" fill-opacity="0.45"/></g>
<g filter="url(#bl)"><use href="#ms" x="162.2" y="273.5" fill="#4a6ad8" fill-opacity="0.75"/><ellipse cx="162.2" cy="287.5" rx="4" ry="8" fill="#30b0e0" fill-opacity="0.6"/><ellipse cx="162.2" cy="283.5" rx="4" ry="5" fill="#2e3eaa" fill-opacity="0.8"/><ellipse cx="162.2" cy="283.5" rx="2.88" ry="3.6" fill="#28b4ea" fill-opacity="1"/><ellipse cx="162.2" cy="292.5" rx="3" ry="3" fill="#f4f4f8"/><ellipse cx="167.2" cy="298.5" rx="2.8" ry="2.8" fill="#2e3eaa" fill-opacity="0.8"/><ellipse cx="167.2" cy="298.5" rx="2.52" ry="2.52" fill="#28b4ea" fill-opacity="1"/><ellipse cx="167.2" cy="298.5" rx="2.24" ry="2.24" fill="#3cc43c" fill-opacity="1"/><ellipse cx="167.2" cy="298.5" rx="2.02" ry="2.02" fill="#f5e61e" fill-opacity="1"/><ellipse cx="167.2" cy="298.5" rx="1.79" ry="1.79" fill="#ee1c1c" fill-opacity="1"/></g>
<line x1="175.3" y1="302.5" x2="175.3" y2="310.3" stroke="#8a8a8a" stroke-width="1.0"/>
<ellipse cx="171.1" cy="305" rx="1.4" ry="2.2" fill="#777"/><ellipse cx="179.5" cy="305" rx="1.4" ry="2.2" fill="#777"/>
<use href="#ms" x="175.3" y="273.5" fill="url(#mg)" stroke="#b0b0b0" stroke-width="0.5" filter="url(#bs)"/>
<g filter="url(#bs)"><ellipse cx="174.97" cy="293.88" rx="0.94" ry="1.65" fill="#8a8a8a" fill-opacity="0.21"/><ellipse cx="178.97" cy="295.84" rx="1.23" ry="1.6" fill="#8a8a8a" fill-opacity="0.26"/><ellipse cx="172.86" cy="290.08" rx="1.52" ry="2.03" fill="#8a8a8a" fill-opacity="0.27"/><ellipse cx="178.47" cy="295.1" rx="1.48" ry="1.7" fill="#8a8a8a" fill-opacity="0.22"/><ellipse cx="176.45" cy="288.13" rx="0.9" ry="1.39" fill="#8a8a8a" fill-opacity="0.27"/><ellipse cx="176.47" cy="295.34" rx="1.05" ry="1.39" fill="#8a8a8a" fill-opacity="0.22"/><ellipse cx="174.48" cy="293.69" rx="1.48" ry="2.1" fill="#8a8a8a" fill-opacity="0.18"/><circle cx="173" cy="282" r="0.9" fill="#555" fill-opacity="0.45"/><circle cx="177.6" cy="282" r="0.9" fill="#555" fill-opacity="0.45"/></g>
<g filter="url(#bl)"><use href="#ms" x="175.3" y="273.5" fill="#4a6ad8" fill-opacity="0.75"/><ellipse cx="175.3" cy="287.5" rx="4" ry="8" fill="#30b0e0" fill-opacity="0.6"/><ellipse cx="175.3" cy="276.5" rx="2.5" ry="3" fill="#2e3eaa" fill-opacity="0.8"/><ellipse cx="175.3" cy="276.5" rx="2.25" ry="2.7" fill="#28b4ea" fill-opacity="1"/><ellipse cx="175.3" cy="276.5" rx="2" ry="2.4" fill="#3cc43c" fill-opacity="1"/><ellipse cx="175.3" cy="276.5" rx="1.8" ry="2.16" fill="#f5e61e" fill-opacity="1"/><ellipse cx="175.3" cy="276.5" rx="1.6" ry="1.92" fill="#ee1c1c" fill-opacity="1"/><ellipse cx="175.3" cy="287.5" rx="5" ry="5" fill="#2e3eaa" fill-opacity="0.8"/><ellipse cx="175.3" cy="287.5" rx="4.5" ry="4.5" fill="#28b4ea" fill-opacity="1"/><ellipse cx="175.3" cy="287.5" rx="4" ry="4" fill="#3cc43c" fill-opacity="1"/><ellipse cx="175.3" cy="287.5" rx="3.6" ry="3.6" fill="#f5e61e" fill-opacity="1"/><ellipse cx="175.3" cy="287.5" rx="3.2" ry="3.2" fill="#ee1c1c" fill-opacity="1"/><ellipse cx="172.3" cy="297.5" rx="3" ry="3" fill="#2e3eaa" fill-opacity="0.8"/><ellipse cx="172.3" cy="297.5" rx="2.7" ry="2.7" fill="#28b4ea" fill-opacity="1"/><ellipse cx="172.3" cy="297.5" rx="2.4" ry="2.4" fill="#3cc43c" fill-opacity="1"/><ellipse cx="172.3" cy="297.5" rx="2.16" ry="2.16" fill="#f5e61e" fill-opacity="1"/><ellipse cx="172.3" cy="297.5" rx="1.92" ry="1.92" fill="#ee1c1c" fill-opacity="1"/><ellipse cx="180.3" cy="297.5" rx="3" ry="3" fill="#2e3eaa" fill-opacity="0.8"/><ellipse cx="180.3" cy="297.5" rx="2.7" ry="2.7" fill="#28b4ea" fill-opacity="1"/><ellipse cx="180.3" cy="297.5" rx="2.4" ry="2.4" fill="#3cc43c" fill-opacity="1"/><ellipse cx="180.3" cy="297.5" rx="2.16" ry="2.16" fill="#f5e61e" fill-opacity="1"/><ellipse cx="180.3" cy="297.5" rx="1.92" ry="1.92" fill="#ee1c1c" fill-opacity="1"/></g>
</g>
<g><rect x="112" y="314" width="75" height="38.5" fill="#303030"/>
<line x1="144.6" y1="344.5" x2="144.6" y2="352.3" stroke="#8a8a8a" stroke-width="1.0"/>
<ellipse cx="140.4" cy="347" rx="1.4" ry="2.2" fill="#777"/><ellipse cx="148.8" cy="347" rx="1.4" ry="2.2" fill="#777"/>
<use href="#ms" x="144.6" y="315.5" fill="url(#mg)" stroke="#b0b0b0" stroke-width="0.5" filter="url(#bs)"/>
<g filter="url(#bs)"><ellipse cx="147.1" cy="336.28" rx="1.19" ry="1.49" fill="#8a8a8a" fill-opacity="0.3"/><ellipse cx="144.99" cy="325.19" rx="0.96" ry="1.89" fill="#8a8a8a" fill-opacity="0.29"/><ellipse cx="141.01" cy="333.85" rx="1.37" ry="1.56" fill="#8a8a8a" fill-opacity="0.26"/><ellipse cx="145.85" cy="333.72" rx="1.63" ry="1.53" fill="#8a8a8a" fill-opacity="0.21"/><ellipse cx="141.99" cy="341.56" rx="1.48" ry="1.35" fill="#8a8a8a" fill-opacity="0.26"/><ellipse cx="148.96" cy="326.7" rx="1.16" ry="0.88" fill="#8a8a8a" fill-opacity="0.19"/><ellipse cx="140.22" cy="331.69" rx="1.22" ry="1.39" fill="#8a8a8a" fill-opacity="0.25"/><circle cx="142.3" cy="324" r="0.9" fill="#555" fill-opacity="0.45"/><circle cx="146.9" cy="324" r="0.9" fill="#555" fill-opacity="0.45"/></g>
<g filter="url(#bl)"><use href="#ms" x="144.6" y="315.5" fill="#ee1c1c" stroke="#c8b030" stroke-width="0.35" transform="translate(144.6 315.5) scale(1.36 1.12) translate(-144.6 -315.5)"/><ellipse cx="144.6" cy="318" rx="1.4" ry="1.8" fill="#e8d040" fill-opacity="0.55"/></g>
<line x1="160" y1="344.5" x2="160" y2="352.3" stroke="#8a8a8a" stroke-width="1.0"/>
<ellipse cx="155.8" cy="347" rx="1.4" ry="2.2" fill="#777"/><ellipse cx="164.2" cy="347" rx="1.4" ry="2.2" fill="#777"/>
<use href="#ms" x="160" y="315.5" fill="url(#mg)" stroke="#b0b0b0" stroke-width="0.5" filter="url(#bs)"/>
<g filter="url(#bs)"><ellipse cx="157.89" cy="330.84" rx="1.02" ry="1.84" fill="#8a8a8a" fill-opacity="0.29"/><ellipse cx="157.47" cy="333.99" rx="1.6" ry="1.35" fill="#8a8a8a" fill-opacity="0.18"/><ellipse cx="162.49" cy="326.83" rx="1.61" ry="1.69" fill="#8a8a8a" fill-opacity="0.22"/><ellipse cx="157.53" cy="334.62" rx="1.76" ry="1.29" fill="#8a8a8a" fill-opacity="0.25"/><ellipse cx="162.85" cy="339.24" rx="1.27" ry="1.21" fill="#8a8a8a" fill-opacity="0.23"/><ellipse cx="163" cy="326.75" rx="1.15" ry="1.99" fill="#8a8a8a" fill-opacity="0.19"/><ellipse cx="157.78" cy="331.27" rx="1.23" ry="1.06" fill="#8a8a8a" fill-opacity="0.15"/><circle cx="157.7" cy="324" r="0.9" fill="#555" fill-opacity="0.45"/><circle cx="162.3" cy="324" r="0.9" fill="#555" fill-opacity="0.45"/></g>
<g filter="url(#bl)"><ellipse cx="160" cy="320.5" rx="3" ry="3.5" fill="#2e3eaa" fill-opacity="0.8"/><ellipse cx="160" cy="320.5" rx="2.46" ry="2.87" fill="#28b4ea" fill-opacity="1"/><ellipse cx="160" cy="320.5" rx="1.98" ry="2.31" fill="#3cc43c" fill-opacity="1"/><ellipse cx="160" cy="327.5" rx="5" ry="4.5" fill="#2e3eaa" fill-opacity="0.8"/><ellipse cx="160" cy="327.5" rx="4.5" ry="4.05" fill="#28b4ea" fill-opacity="1"/><ellipse cx="160" cy="327.5" rx="4" ry="3.6" fill="#3cc43c" fill-opacity="1"/><ellipse cx="160" cy="327.5" rx="3.6" ry="3.24" fill="#f5e61e" fill-opacity="1"/><ellipse cx="160" cy="327.5" rx="3.2" ry="2.88" fill="#ee1c1c" fill-opacity="1"/><ellipse cx="160" cy="333.5" rx="4" ry="3" fill="#2e3eaa" fill-opacity="0.8"/><ellipse cx="157" cy="340.5" rx="3.5" ry="3.5" fill="#2e3eaa" fill-opacity="0.8"/><ellipse cx="157" cy="340.5" rx="3.15" ry="3.15" fill="#28b4ea" fill-opacity="1"/><ellipse cx="157" cy="340.5" rx="2.8" ry="2.8" fill="#3cc43c" fill-opacity="1"/><ellipse cx="157" cy="340.5" rx="2.52" ry="2.52" fill="#f5e61e" fill-opacity="1"/><ellipse cx="157" cy="340.5" rx="2.24" ry="2.24" fill="#ee1c1c" fill-opacity="1"/><ellipse cx="163" cy="340.5" rx="3.5" ry="3.5" fill="#2e3eaa" fill-opacity="0.8"/><ellipse cx="163" cy="340.5" rx="3.15" ry="3.15" fill="#28b4ea" fill-opacity="1"/><ellipse cx="163" cy="340.5" rx="2.8" ry="2.8" fill="#3cc43c" fill-opacity="1"/><ellipse cx="163" cy="340.5" rx="2.52" ry="2.52" fill="#f5e61e" fill-opacity="1"/><ellipse cx="163" cy="340.5" rx="2.24" ry="2.24" fill="#ee1c1c" fill-opacity="1"/></g>
<line x1="174.6" y1="344.5" x2="174.6" y2="352.3" stroke="#8a8a8a" stroke-width="1.0"/>
<ellipse cx="170.4" cy="347" rx="1.4" ry="2.2" fill="#777"/><ellipse cx="178.8" cy="347" rx="1.4" ry="2.2" fill="#777"/>
<use href="#ms" x="174.6" y="315.5" fill="url(#mg)" stroke="#b0b0b0" stroke-width="0.5" filter="url(#bs)"/>
<g filter="url(#bs)"><ellipse cx="172.63" cy="337.49" rx="1.04" ry="1.22" fill="#8a8a8a" fill-opacity="0.22"/><ellipse cx="175.84" cy="332.21" rx="1.46" ry="1.31" fill="#8a8a8a" fill-opacity="0.29"/><ellipse cx="170.61" cy="339.88" rx="1.63" ry="2.07" fill="#8a8a8a" fill-opacity="0.27"/><ellipse cx="177.58" cy="327.03" rx="1.43" ry="0.82" fill="#8a8a8a" fill-opacity="0.15"/><ellipse cx="176" cy="341.63" rx="1.05" ry="0.94" fill="#8a8a8a" fill-opacity="0.17"/><ellipse cx="177.09" cy="328.71" rx="1.15" ry="1.01" fill="#8a8a8a" fill-opacity="0.29"/><ellipse cx="171.61" cy="338.75" rx="1.69" ry="1.65" fill="#8a8a8a" fill-opacity="0.27"/><circle cx="172.3" cy="324" r="0.9" fill="#555" fill-opacity="0.45"/><circle cx="176.9" cy="324" r="0.9" fill="#555" fill-opacity="0.45"/></g>
<g filter="url(#bl)"><use href="#ms" x="174.6" y="315.5" fill="#ee1c1c" stroke="#c8b030" stroke-width="0.35" transform="translate(174.6 315.5) scale(1.36 1.12) translate(-174.6 -315.5)"/><ellipse cx="174.6" cy="318" rx="1.4" ry="1.8" fill="#e8d040" fill-opacity="0.55"/></g>
</g>
<g><rect x="189" y="147" width="74.5" height="38.5" fill="url(#pbg)"/>
<line x1="195.2" y1="177.5" x2="195.2" y2="185.3" stroke="#8a8a8a" stroke-width="1.0"/>
<ellipse cx="191" cy="180" rx="1.4" ry="2.2" fill="#777"/><ellipse cx="199.4" cy="180" rx="1.4" ry="2.2" fill="#777"/>
<use href="#ms" x="195.2" y="148.5" fill="url(#mg)" stroke="#b0b0b0" stroke-width="0.5" filter="url(#bs)"/>
<g filter="url(#bs)"><ellipse cx="198.75" cy="169.53" rx="1.59" ry="1.97" fill="#8a8a8a" fill-opacity="0.18"/><ellipse cx="195.48" cy="169.97" rx="1.54" ry="1.41" fill="#8a8a8a" fill-opacity="0.28"/><ellipse cx="193.08" cy="167.49" rx="1.03" ry="1" fill="#8a8a8a" fill-opacity="0.22"/><ellipse cx="194.9" cy="158.55" rx="0.94" ry="1.49" fill="#8a8a8a" fill-opacity="0.22"/><ellipse cx="198.47" cy="167.21" rx="0.81" ry="1.98" fill="#8a8a8a" fill-opacity="0.22"/><ellipse cx="196.69" cy="167.63" rx="1.64" ry="1.32" fill="#8a8a8a" fill-opacity="0.21"/><ellipse cx="191.38" cy="174.79" rx="1.44" ry="1.69" fill="#8a8a8a" fill-opacity="0.15"/><circle cx="192.9" cy="157" r="0.9" fill="#555" fill-opacity="0.45"/><circle cx="197.5" cy="157" r="0.9" fill="#555" fill-opacity="0.45"/></g>
<line x1="208.9" y1="177.5" x2="208.9" y2="185.3" stroke="#8a8a8a" stroke-width="1.0"/>
<ellipse cx="204.7" cy="180" rx="1.4" ry="2.2" fill="#777"/><ellipse cx="213.1" cy="180" rx="1.4" ry="2.2" fill="#777"/>
<use href="#ms" x="208.9" y="148.5" fill="url(#mg)" stroke="#b0b0b0" stroke-width="0.5" filter="url(#bs)"/>
<g filter="url(#bs)"><ellipse cx="210.54" cy="168.47" rx="1.73" ry="1.26" fill="#8a8a8a" fill-opacity="0.3"/><ellipse cx="208.76" cy="166.69" rx="1.7" ry="0.85" fill="#8a8a8a" fill-opacity="0.26"/><ellipse cx="207.45" cy="168.76" rx="1.66" ry="1.31" fill="#8a8a8a" fill-opacity="0.22"/><ellipse cx="211.34" cy="166.96" rx="1.01" ry="1.41" fill="#8a8a8a" fill-opacity="0.21"/><ellipse cx="211.84" cy="167.47" rx="1.09" ry="1.96" fill="#8a8a8a" fill-opacity="0.21"/><ellipse cx="206.85" cy="166.57" rx="1.31" ry="2.16" fill="#8a8a8a" fill-opacity="0.25"/><ellipse cx="207.38" cy="171.76" rx="1.12" ry="1.22" fill="#8a8a8a" fill-opacity="0.24"/><circle cx="206.6" cy="157" r="0.9" fill="#555" fill-opacity="0.45"/><circle cx="211.2" cy="157" r="0.9" fill="#555" fill-opacity="0.45"/></g>
<line x1="223.4" y1="177.5" x2="223.4" y2="185.3" stroke="#8a8a8a" stroke-width="1.0"/>
<ellipse cx="219.2" cy="180" rx="1.4" ry="2.2" fill="#777"/><ellipse cx="227.6" cy="180" rx="1.4" ry="2.2" fill="#777"/>
<use href="#ms" x="223.4" y="148.5" fill="url(#mg)" stroke="#b0b0b0" stroke-width="0.5" filter="url(#bs)"/>
<g filter="url(#bs)"><ellipse cx="225.96" cy="168.93" rx="0.84" ry="1.81" fill="#8a8a8a" fill-opacity="0.28"/><ellipse cx="219.35" cy="167.32" rx="1.1" ry="0.81" fill="#8a8a8a" fill-opacity="0.18"/><ellipse cx="224.38" cy="174.09" rx="1.46" ry="1.9" fill="#8a8a8a" fill-opacity="0.29"/><ellipse cx="224.45" cy="168.51" rx="1.43" ry="1.77" fill="#8a8a8a" fill-opacity="0.24"/><ellipse cx="220.81" cy="169.76" rx="1.47" ry="1.44" fill="#8a8a8a" fill-opacity="0.26"/><ellipse cx="220.53" cy="159.32" rx="0.84" ry="1.88" fill="#8a8a8a" fill-opacity="0.29"/><ellipse cx="222.22" cy="169.3" rx="1.62" ry="1.9" fill="#8a8a8a" fill-opacity="0.23"/><circle cx="221.1" cy="157" r="0.9" fill="#555" fill-opacity="0.45"/><circle cx="225.7" cy="157" r="0.9" fill="#555" fill-opacity="0.45"/></g>
<g filter="url(#bl)"><ellipse cx="220.4" cy="176.5" rx="1.5" ry="1.2" fill="#2e3eaa" fill-opacity="0.8"/></g>
<line x1="238.7" y1="177.5" x2="238.7" y2="185.3" stroke="#8a8a8a" stroke-width="1.0"/>
<ellipse cx="234.5" cy="180" rx="1.4" ry="2.2" fill="#777"/><ellipse cx="242.9" cy="180" rx="1.4" ry="2.2" fill="#777"/>
<use href="#ms" x="238.7" y="148.5" fill="url(#mg)" stroke="#b0b0b0" stroke-width="0.5" filter="url(#bs)"/>
<g filter="url(#bs)"><ellipse cx="236.92" cy="162.14" rx="1.22" ry="1.25" fill="#8a8a8a" fill-opacity="0.21"/><ellipse cx="242.6" cy="169.05" rx="0.85" ry="1.59" fill="#8a8a8a" fill-opacity="0.16"/><ellipse cx="241.49" cy="159.64" rx="1.38" ry="2.09" fill="#8a8a8a" fill-opacity="0.22"/><ellipse cx="237.68" cy="157.75" rx="1.39" ry="2.11" fill="#8a8a8a" fill-opacity="0.3"/><ellipse cx="237.91" cy="166.06" rx="0.9" ry="1.7" fill="#8a8a8a" fill-opacity="0.18"/><ellipse cx="234.34" cy="160.23" rx="0.8" ry="1.76" fill="#8a8a8a" fill-opacity="0.17"/><ellipse cx="234.99" cy="174.89" rx="1.67" ry="0.98" fill="#8a8a8a" fill-opacity="0.15"/><circle cx="236.4" cy="157" r="0.9" fill="#555" fill-opacity="0.45"/><circle cx="241" cy="157" r="0.9" fill="#555" fill-opacity="0.45"/></g>
<g filter="url(#bl)"><ellipse cx="237.7" cy="176.5" rx="2" ry="1.5" fill="#2e3eaa" fill-opacity="0.8"/></g>
<line x1="253.3" y1="177.5" x2="253.3" y2="185.3" stroke="#8a8a8a" stroke-width="1.0"/>
<ellipse cx="249.1" cy="180" rx="1.4" ry="2.2" fill="#777"/><ellipse cx="257.5" cy="180" rx="1.4" ry="2.2" fill="#777"/>
<use href="#ms" x="253.3" y="148.5" fill="url(#mg)" stroke="#b0b0b0" stroke-width="0.5" filter="url(#bs)"/>
<g filter="url(#bs)"><ellipse cx="250.98" cy="170.45" rx="1.53" ry="1.06" fill="#8a8a8a" fill-opacity="0.16"/><ellipse cx="255.22" cy="171.43" rx="1.66" ry="1.82" fill="#8a8a8a" fill-opacity="0.16"/><ellipse cx="255.18" cy="168.82" rx="1.26" ry="2.11" fill="#8a8a8a" fill-opacity="0.19"/><ellipse cx="255.25" cy="174.86" rx="0.81" ry="0.82" fill="#8a8a8a" fill-opacity="0.25"/><ellipse cx="249.52" cy="172.21" rx="1.11" ry="1.82" fill="#8a8a8a" fill-opacity="0.17"/><ellipse cx="253.18" cy="173" rx="0.86" ry="1.31" fill="#8a8a8a" fill-opacity="0.24"/><ellipse cx="254.89" cy="165.4" rx="0.94" ry="1.92" fill="#8a8a8a" fill-opacity="0.2"/><circle cx="251" cy="157" r="0.9" fill="#555" fill-opacity="0.45"/><circle cx="255.6" cy="157" r="0.9" fill="#555" fill-opacity="0.45"/></g>
<g filter="url(#bl)"><ellipse cx="251.3" cy="177.5" rx="1.8" ry="1.2" fill="#2e3eaa" fill-opacity="0.8"/></g>
</g>
<g><rect x="189" y="189" width="74.5" height="38.5" fill="url(#pbg)"/>
<line x1="195.2" y1="219.5" x2="195.2" y2="227.3" stroke="#8a8a8a" stroke-width="1.0"/>
<ellipse cx="191" cy="222" rx="1.4" ry="2.2" fill="#777"/><ellipse cx="199.4" cy="222" rx="1.4" ry="2.2" fill="#777"/>
<use href="#ms" x="195.2" y="190.5" fill="url(#mg)" stroke="#b0b0b0" stroke-width="0.5" filter="url(#bs)"/>
<g filter="url(#bs)"><ellipse cx="196.37" cy="211.11" rx="1.22" ry="1.34" fill="#8a8a8a" fill-opacity="0.27"/><ellipse cx="197.76" cy="216.51" rx="1.37" ry="1.21" fill="#8a8a8a" fill-opacity="0.16"/><ellipse cx="197.03" cy="217.03" rx="1.63" ry="1.26" fill="#8a8a8a" fill-opacity="0.24"/><ellipse cx="198.18" cy="217.09" rx="1.4" ry="1.23" fill="#8a8a8a" fill-opacity="0.21"/><ellipse cx="194.09" cy="215.49" rx="1.48" ry="1.64" fill="#8a8a8a" fill-opacity="0.28"/><ellipse cx="193.25" cy="214.03" rx="0.8" ry="1.17" fill="#8a8a8a" fill-opacity="0.21"/><ellipse cx="198.04" cy="210.06" rx="1.69" ry="0.86" fill="#8a8a8a" fill-opacity="0.27"/><circle cx="192.9" cy="199" r="0.9" fill="#555" fill-opacity="0.45"/><circle cx="197.5" cy="199" r="0.9" fill="#555" fill-opacity="0.45"/></g>
<line x1="208.9" y1="219.5" x2="208.9" y2="227.3" stroke="#8a8a8a" stroke-width="1.0"/>
<ellipse cx="204.7" cy="222" rx="1.4" ry="2.2" fill="#777"/><ellipse cx="213.1" cy="222" rx="1.4" ry="2.2" fill="#777"/>
<use href="#ms" x="208.9" y="190.5" fill="url(#mg)" stroke="#b0b0b0" stroke-width="0.5" filter="url(#bs)"/>
<g filter="url(#bs)"><ellipse cx="212.2" cy="214.11" rx="1.37" ry="1.18" fill="#8a8a8a" fill-opacity="0.28"/><ellipse cx="210.56" cy="214.03" rx="1.71" ry="1.29" fill="#8a8a8a" fill-opacity="0.16"/><ellipse cx="211.58" cy="209.47" rx="1" ry="1.85" fill="#8a8a8a" fill-opacity="0.29"/><ellipse cx="209.86" cy="203.71" rx="1.48" ry="1.45" fill="#8a8a8a" fill-opacity="0.18"/><ellipse cx="211.16" cy="204.09" rx="1.59" ry="1.44" fill="#8a8a8a" fill-opacity="0.16"/><ellipse cx="211.35" cy="214.02" rx="1.03" ry="1.61" fill="#8a8a8a" fill-opacity="0.28"/><ellipse cx="209.1" cy="215.43" rx="1.28" ry="1.63" fill="#8a8a8a" fill-opacity="0.18"/><circle cx="206.6" cy="199" r="0.9" fill="#555" fill-opacity="0.45"/><circle cx="211.2" cy="199" r="0.9" fill="#555" fill-opacity="0.45"/></g>
<line x1="223.4" y1="219.5" x2="223.4" y2="227.3" stroke="#8a8a8a" stroke-width="1.0"/>
<ellipse cx="219.2" cy="222" rx="1.4" ry="2.2" fill="#777"/><ellipse cx="227.6" cy="222" rx="1.4" ry="2.2" fill="#777"/>
<use href="#ms" x="223.4" y="190.5" fill="url(#mg)" stroke="#b0b0b0" stroke-width="0.5" filter="url(#bs)"/>
<g filter="url(#bs)"><ellipse cx="220.53" cy="202.96" rx="1.5" ry="1.31" fill="#8a8a8a" fill-opacity="0.23"/><ellipse cx="223.55" cy="206.74" rx="0.95" ry="0.86" fill="#8a8a8a" fill-opacity="0.3"/><ellipse cx="219.86" cy="206.23" rx="1.43" ry="1.9" fill="#8a8a8a" fill-opacity="0.17"/><ellipse cx="222" cy="210.25" rx="1.32" ry="0.83" fill="#8a8a8a" fill-opacity="0.16"/><ellipse cx="226.69" cy="217.33" rx="1.29" ry="1.59" fill="#8a8a8a" fill-opacity="0.19"/><ellipse cx="222.73" cy="213.53" rx="1.75" ry="1.87" fill="#8a8a8a" fill-opacity="0.27"/><ellipse cx="221.19" cy="216.84" rx="0.84" ry="1.08" fill="#8a8a8a" fill-opacity="0.18"/><circle cx="221.1" cy="199" r="0.9" fill="#555" fill-opacity="0.45"/><circle cx="225.7" cy="199" r="0.9" fill="#555" fill-opacity="0.45"/></g>
<g filter="url(#bl)"><ellipse cx="218.4" cy="216.5" rx="1.8" ry="1.8" fill="#2e3eaa" fill-opacity="0.8"/></g>
<line x1="238.7" y1="219.5" x2="238.7" y2="227.3" stroke="#8a8a8a" stroke-width="1.0"/>
<ellipse cx="234.5" cy="222" rx="1.4" ry="2.2" fill="#777"/><ellipse cx="242.9" cy="222" rx="1.4" ry="2.2" fill="#777"/>
<use href="#ms" x="238.7" y="190.5" fill="url(#mg)" stroke="#b0b0b0" stroke-width="0.5" filter="url(#bs)"/>
<g filter="url(#bs)"><ellipse cx="234.66" cy="201.01" rx="1.36" ry="2.02" fill="#8a8a8a" fill-opacity="0.22"/><ellipse cx="242.39" cy="216.55" rx="0.86" ry="1.64" fill="#8a8a8a" fill-opacity="0.21"/><ellipse cx="242.83" cy="201.66" rx="1.06" ry="1.59" fill="#8a8a8a" fill-opacity="0.25"/><ellipse cx="240.23" cy="216.72" rx="1.19" ry="1.43" fill="#8a8a8a" fill-opacity="0.17"/><ellipse cx="243.13" cy="216.88" rx="1.02" ry="0.85" fill="#8a8a8a" fill-opacity="0.19"/><ellipse cx="242.32" cy="205.84" rx="1.7" ry="1.97" fill="#8a8a8a" fill-opacity="0.16"/><ellipse cx="240.59" cy="213.65" rx="1.45" ry="2.18" fill="#8a8a8a" fill-opacity="0.16"/><circle cx="236.4" cy="199" r="0.9" fill="#555" fill-opacity="0.45"/><circle cx="241" cy="199" r="0.9" fill="#555" fill-opacity="0.45"/></g>
<g filter="url(#bl)"><ellipse cx="234.7" cy="214.5" rx="3" ry="3" fill="#2e3eaa" fill-opacity="0.8"/><ellipse cx="234.7" cy="214.5" rx="2.2" ry="2.2" fill="#2e3eaa" fill-opacity="0.8"/><ellipse cx="234.7" cy="214.5" rx="1.98" ry="1.98" fill="#28b4ea" fill-opacity="1"/><ellipse cx="234.7" cy="214.5" rx="1.76" ry="1.76" fill="#3cc43c" fill-opacity="1"/><ellipse cx="234.7" cy="214.5" rx="1.58" ry="1.58" fill="#f5e61e" fill-opacity="1"/><ellipse cx="234.7" cy="214.5" rx="1.41" ry="1.41" fill="#ee1c1c" fill-opacity="1"/><ellipse cx="238.7" cy="219.5" rx="2.5" ry="2" fill="#2e3eaa" fill-opacity="0.8"/></g>
<line x1="253.3" y1="219.5" x2="253.3" y2="227.3" stroke="#8a8a8a" stroke-width="1.0"/>
<ellipse cx="249.1" cy="222" rx="1.4" ry="2.2" fill="#777"/><ellipse cx="257.5" cy="222" rx="1.4" ry="2.2" fill="#777"/>
<use href="#ms" x="253.3" y="190.5" fill="url(#mg)" stroke="#b0b0b0" stroke-width="0.5" filter="url(#bs)"/>
<g filter="url(#bs)"><ellipse cx="255.59" cy="202.11" rx="1.74" ry="1.75" fill="#8a8a8a" fill-opacity="0.19"/><ellipse cx="255.62" cy="210.15" rx="0.91" ry="1.25" fill="#8a8a8a" fill-opacity="0.19"/><ellipse cx="253.13" cy="201.73" rx="0.97" ry="1.13" fill="#8a8a8a" fill-opacity="0.17"/><ellipse cx="248.91" cy="211.7" rx="1.52" ry="1.07" fill="#8a8a8a" fill-opacity="0.16"/><ellipse cx="250.78" cy="216.2" rx="1.73" ry="2.01" fill="#8a8a8a" fill-opacity="0.28"/><ellipse cx="252.83" cy="202.02" rx="0.9" ry="2.1" fill="#8a8a8a" fill-opacity="0.28"/><ellipse cx="252.87" cy="210.81" rx="1.14" ry="1.95" fill="#8a8a8a" fill-opacity="0.22"/><circle cx="251" cy="199" r="0.9" fill="#555" fill-opacity="0.45"/><circle cx="255.6" cy="199" r="0.9" fill="#555" fill-opacity="0.45"/></g>
<g filter="url(#bl)"><ellipse cx="253.3" cy="219.5" rx="2" ry="1.5" fill="#2e3eaa" fill-opacity="0.8"/></g>
</g>
<g><rect x="189" y="230.5" width="74.5" height="38.5" fill="url(#pbg)"/>
<line x1="195.2" y1="261" x2="195.2" y2="268.8" stroke="#8a8a8a" stroke-width="1.0"/>
<ellipse cx="191" cy="263.5" rx="1.4" ry="2.2" fill="#777"/><ellipse cx="199.4" cy="263.5" rx="1.4" ry="2.2" fill="#777"/>
<use href="#ms" x="195.2" y="232" fill="url(#mg)" stroke="#b0b0b0" stroke-width="0.5" filter="url(#bs)"/>
<g filter="url(#bs)"><ellipse cx="191.98" cy="252.31" rx="1.02" ry="0.88" fill="#8a8a8a" fill-opacity="0.26"/><ellipse cx="192" cy="250.96" rx="1.67" ry="1.17" fill="#8a8a8a" fill-opacity="0.21"/><ellipse cx="193.14" cy="243.8" rx="1.64" ry="1.27" fill="#8a8a8a" fill-opacity="0.18"/><ellipse cx="193.56" cy="249.84" rx="1.7" ry="0.96" fill="#8a8a8a" fill-opacity="0.3"/><ellipse cx="198.76" cy="242.02" rx="1.47" ry="1.1" fill="#8a8a8a" fill-opacity="0.22"/><ellipse cx="193.02" cy="246.15" rx="1" ry="1.31" fill="#8a8a8a" fill-opacity="0.3"/><ellipse cx="199.03" cy="258.97" rx="0.9" ry="1.21" fill="#8a8a8a" fill-opacity="0.28"/><circle cx="192.9" cy="240.5" r="0.9" fill="#555" fill-opacity="0.45"/><circle cx="197.5" cy="240.5" r="0.9" fill="#555" fill-opacity="0.45"/></g>
<g filter="url(#bl)"><ellipse cx="192.2" cy="242" rx="2.5" ry="2" fill="#2e3eaa" fill-opacity="0.8"/><ellipse cx="197.2" cy="245" rx="2" ry="1.8" fill="#2e3eaa" fill-opacity="0.8"/><ellipse cx="191.2" cy="258" rx="2.5" ry="2.5" fill="#2e3eaa" fill-opacity="0.8"/><ellipse cx="191.2" cy="258" rx="1.8" ry="1.8" fill="#28b4ea" fill-opacity="1"/><ellipse cx="195.2" cy="260" rx="2" ry="1.5" fill="#2e3eaa" fill-opacity="0.8"/></g>
<line x1="208.9" y1="261" x2="208.9" y2="268.8" stroke="#8a8a8a" stroke-width="1.0"/>
<ellipse cx="204.7" cy="263.5" rx="1.4" ry="2.2" fill="#777"/><ellipse cx="213.1" cy="263.5" rx="1.4" ry="2.2" fill="#777"/>
<use href="#ms" x="208.9" y="232" fill="url(#mg)" stroke="#b0b0b0" stroke-width="0.5" filter="url(#bs)"/>
<g filter="url(#bs)"><ellipse cx="210.94" cy="242.03" rx="1.09" ry="2.17" fill="#8a8a8a" fill-opacity="0.15"/><ellipse cx="207.47" cy="255.53" rx="0.94" ry="0.8" fill="#8a8a8a" fill-opacity="0.27"/><ellipse cx="206.07" cy="250.48" rx="1.24" ry="2.08" fill="#8a8a8a" fill-opacity="0.18"/><ellipse cx="205.64" cy="251.28" rx="0.98" ry="1.88" fill="#8a8a8a" fill-opacity="0.26"/><ellipse cx="205.11" cy="244.54" rx="0.89" ry="1.65" fill="#8a8a8a" fill-opacity="0.22"/><ellipse cx="206.25" cy="245.93" rx="1.41" ry="1.79" fill="#8a8a8a" fill-opacity="0.27"/><ellipse cx="206.22" cy="251.49" rx="0.87" ry="1.83" fill="#8a8a8a" fill-opacity="0.21"/><circle cx="206.6" cy="240.5" r="0.9" fill="#555" fill-opacity="0.45"/><circle cx="211.2" cy="240.5" r="0.9" fill="#555" fill-opacity="0.45"/></g>
<g filter="url(#bl)"><ellipse cx="204.9" cy="258" rx="2.5" ry="2.5" fill="#2e3eaa" fill-opacity="0.8"/><ellipse cx="204.9" cy="258" rx="1.8" ry="1.8" fill="#28b4ea" fill-opacity="1"/><ellipse cx="211.9" cy="260" rx="1.8" ry="1.8" fill="#2e3eaa" fill-opacity="0.8"/></g>
<line x1="223.4" y1="261" x2="223.4" y2="268.8" stroke="#8a8a8a" stroke-width="1.0"/>
<ellipse cx="219.2" cy="263.5" rx="1.4" ry="2.2" fill="#777"/><ellipse cx="227.6" cy="263.5" rx="1.4" ry="2.2" fill="#777"/>
<use href="#ms" x="223.4" y="232" fill="url(#mg)" stroke="#b0b0b0" stroke-width="0.5" filter="url(#bs)"/>
<g filter="url(#bs)"><ellipse cx="219.4" cy="253.99" rx="1.61" ry="1.27" fill="#8a8a8a" fill-opacity="0.28"/><ellipse cx="223.34" cy="256.56" rx="0.82" ry="2.07" fill="#8a8a8a" fill-opacity="0.22"/><ellipse cx="221.3" cy="256.7" rx="0.99" ry="1.96" fill="#8a8a8a" fill-opacity="0.21"/><ellipse cx="222.24" cy="243.94" rx="1.39" ry="0.81" fill="#8a8a8a" fill-opacity="0.23"/><ellipse cx="223.54" cy="249.02" rx="0.92" ry="1.8" fill="#8a8a8a" fill-opacity="0.27"/><ellipse cx="221.79" cy="256.58" rx="1.51" ry="1.33" fill="#8a8a8a" fill-opacity="0.26"/><ellipse cx="226.76" cy="242.1" rx="1.75" ry="1.49" fill="#8a8a8a" fill-opacity="0.23"/><circle cx="221.1" cy="240.5" r="0.9" fill="#555" fill-opacity="0.45"/><circle cx="225.7" cy="240.5" r="0.9" fill="#555" fill-opacity="0.45"/></g>
<g filter="url(#bl)"><ellipse cx="220.4" cy="240" rx="1.8" ry="1.8" fill="#2e3eaa" fill-opacity="0.8"/><ellipse cx="224.4" cy="246" rx="1.5" ry="1.5" fill="#2e3eaa" fill-opacity="0.8"/><ellipse cx="218.4" cy="257" rx="2.5" ry="2.5" fill="#2e3eaa" fill-opacity="0.8"/><ellipse cx="218.4" cy="257" rx="1.8" ry="1.8" fill="#28b4ea" fill-opacity="1"/></g>
<line x1="238.7" y1="261" x2="238.7" y2="268.8" stroke="#8a8a8a" stroke-width="1.0"/>
<ellipse cx="234.5" cy="263.5" rx="1.4" ry="2.2" fill="#777"/><ellipse cx="242.9" cy="263.5" rx="1.4" ry="2.2" fill="#777"/>
<use href="#ms" x="238.7" y="232" fill="url(#mg)" stroke="#b0b0b0" stroke-width="0.5" filter="url(#bs)"/>
<g filter="url(#bs)"><ellipse cx="239.04" cy="250.55" rx="0.82" ry="2.15" fill="#8a8a8a" fill-opacity="0.18"/><ellipse cx="235.12" cy="244.28" rx="1.05" ry="1.94" fill="#8a8a8a" fill-opacity="0.15"/><ellipse cx="240.49" cy="242.74" rx="1" ry="0.82" fill="#8a8a8a" fill-opacity="0.24"/><ellipse cx="238.91" cy="251.38" rx="1.5" ry="0.94" fill="#8a8a8a" fill-opacity="0.28"/><ellipse cx="234.61" cy="253.91" rx="0.92" ry="1.49" fill="#8a8a8a" fill-opacity="0.23"/><ellipse cx="235.3" cy="246.03" rx="1.21" ry="0.99" fill="#8a8a8a" fill-opacity="0.24"/><ellipse cx="235.52" cy="256.5" rx="1.37" ry="1.85" fill="#8a8a8a" fill-opacity="0.17"/><circle cx="236.4" cy="240.5" r="0.9" fill="#555" fill-opacity="0.45"/><circle cx="241" cy="240.5" r="0.9" fill="#555" fill-opacity="0.45"/></g>
<g filter="url(#bl)"><ellipse cx="234.7" cy="256" rx="2.5" ry="2.5" fill="#2e3eaa" fill-opacity="0.8"/><ellipse cx="234.7" cy="256" rx="2.15" ry="2.15" fill="#28b4ea" fill-opacity="1"/><ellipse cx="234.7" cy="256" rx="1.85" ry="1.85" fill="#3cc43c" fill-opacity="1"/><ellipse cx="234.7" cy="256" rx="1.55" ry="1.55" fill="#f5e61e" fill-opacity="1"/><ellipse cx="238.7" cy="257" rx="2.2" ry="2.8" fill="#2e3eaa" fill-opacity="0.8"/><ellipse cx="238.7" cy="257" rx="1.98" ry="2.52" fill="#28b4ea" fill-opacity="1"/><ellipse cx="238.7" cy="257" rx="1.76" ry="2.24" fill="#3cc43c" fill-opacity="1"/><ellipse cx="238.7" cy="257" rx="1.58" ry="2.02" fill="#f5e61e" fill-opacity="1"/><ellipse cx="238.7" cy="257" rx="1.41" ry="1.79" fill="#ee1c1c" fill-opacity="1"/><ellipse cx="242.7" cy="258" rx="2" ry="2" fill="#2e3eaa" fill-opacity="0.8"/><ellipse cx="242.7" cy="258" rx="1.44" ry="1.44" fill="#28b4ea" fill-opacity="1"/><ellipse cx="238.7" cy="262" rx="2.5" ry="2.5" fill="#2e3eaa" fill-opacity="0.8"/><ellipse cx="238.7" cy="262" rx="2.05" ry="2.05" fill="#28b4ea" fill-opacity="1"/><ellipse cx="238.7" cy="262" rx="1.65" ry="1.65" fill="#3cc43c" fill-opacity="1"/></g>
<line x1="253.3" y1="261" x2="253.3" y2="268.8" stroke="#8a8a8a" stroke-width="1.0"/>
<ellipse cx="249.1" cy="263.5" rx="1.4" ry="2.2" fill="#777"/><ellipse cx="257.5" cy="263.5" rx="1.4" ry="2.2" fill="#777"/>
<use href="#ms" x="253.3" y="232" fill="url(#mg)" stroke="#b0b0b0" stroke-width="0.5" filter="url(#bs)"/>
<g filter="url(#bs)"><ellipse cx="257.24" cy="255.87" rx="1.19" ry="1.39" fill="#8a8a8a" fill-opacity="0.28"/><ellipse cx="252.36" cy="250.46" rx="1.74" ry="1.89" fill="#8a8a8a" fill-opacity="0.2"/><ellipse cx="251.82" cy="245.33" rx="1.24" ry="2.17" fill="#8a8a8a" fill-opacity="0.27"/><ellipse cx="256.14" cy="257.43" rx="1.65" ry="0.87" fill="#8a8a8a" fill-opacity="0.23"/><ellipse cx="257.21" cy="258.24" rx="1.05" ry="1.39" fill="#8a8a8a" fill-opacity="0.24"/><ellipse cx="253.58" cy="247.56" rx="0.87" ry="1.41" fill="#8a8a8a" fill-opacity="0.23"/><ellipse cx="250.05" cy="241.37" rx="1.77" ry="1.89" fill="#8a8a8a" fill-opacity="0.29"/><circle cx="251" cy="240.5" r="0.9" fill="#555" fill-opacity="0.45"/><circle cx="255.6" cy="240.5" r="0.9" fill="#555" fill-opacity="0.45"/></g>
</g>
<g><rect x="189" y="272" width="74.5" height="38.5" fill="url(#pbg)"/>
<line x1="194.6" y1="302.5" x2="194.6" y2="310.3" stroke="#8a8a8a" stroke-width="1.0"/>
<ellipse cx="190.4" cy="305" rx="1.4" ry="2.2" fill="#777"/><ellipse cx="198.8" cy="305" rx="1.4" ry="2.2" fill="#777"/>
<use href="#ms" x="194.6" y="273.5" fill="url(#mg)" stroke="#b0b0b0" stroke-width="0.5" filter="url(#bs)"/>
<g filter="url(#bs)"><ellipse cx="197.38" cy="293.9" rx="1.68" ry="2.04" fill="#8a8a8a" fill-opacity="0.16"/><ellipse cx="192.49" cy="294.05" rx="1.48" ry="1.18" fill="#8a8a8a" fill-opacity="0.23"/><ellipse cx="195.69" cy="299.14" rx="1.05" ry="1.53" fill="#8a8a8a" fill-opacity="0.22"/><ellipse cx="192.69" cy="299.62" rx="1.11" ry="1.71" fill="#8a8a8a" fill-opacity="0.17"/><ellipse cx="198.7" cy="293.2" rx="1.31" ry="1.18" fill="#8a8a8a" fill-opacity="0.22"/><ellipse cx="191.44" cy="292.11" rx="0.92" ry="0.98" fill="#8a8a8a" fill-opacity="0.19"/><ellipse cx="192.69" cy="289.82" rx="1.04" ry="0.92" fill="#8a8a8a" fill-opacity="0.23"/><circle cx="192.3" cy="282" r="0.9" fill="#555" fill-opacity="0.45"/><circle cx="196.9" cy="282" r="0.9" fill="#555" fill-opacity="0.45"/></g>
<g filter="url(#bl)"><use href="#ms" x="194.6" y="273.5" fill="#8a90e0" fill-opacity="0.35"/><ellipse cx="194.6" cy="285.5" rx="4" ry="6" fill="#2e3eaa" fill-opacity="0.8"/><ellipse cx="190.6" cy="300.5" rx="3" ry="3" fill="#2e3eaa" fill-opacity="0.8"/><ellipse cx="190.6" cy="300.5" rx="2.46" ry="2.46" fill="#28b4ea" fill-opacity="1"/><ellipse cx="190.6" cy="300.5" rx="1.98" ry="1.98" fill="#3cc43c" fill-opacity="1"/><ellipse cx="200.6" cy="300.5" rx="3" ry="3" fill="#2e3eaa" fill-opacity="0.8"/><ellipse cx="200.6" cy="300.5" rx="2.7" ry="2.7" fill="#28b4ea" fill-opacity="1"/><ellipse cx="200.6" cy="300.5" rx="2.4" ry="2.4" fill="#3cc43c" fill-opacity="1"/><ellipse cx="200.6" cy="300.5" rx="2.16" ry="2.16" fill="#f5e61e" fill-opacity="1"/><ellipse cx="200.6" cy="300.5" rx="1.92" ry="1.92" fill="#ee1c1c" fill-opacity="1"/><ellipse cx="187.6" cy="303.5" rx="1.5" ry="1.5" fill="#2e3eaa" fill-opacity="0.8"/><ellipse cx="187.6" cy="303.5" rx="1.35" ry="1.35" fill="#28b4ea" fill-opacity="1"/><ellipse cx="187.6" cy="303.5" rx="1.2" ry="1.2" fill="#3cc43c" fill-opacity="1"/><ellipse cx="187.6" cy="303.5" rx="1.08" ry="1.08" fill="#f5e61e" fill-opacity="1"/><ellipse cx="187.6" cy="303.5" rx="0.96" ry="0.96" fill="#ee1c1c" fill-opacity="1"/><ellipse cx="194.6" cy="307.5" rx="2" ry="2" fill="#2e3eaa" fill-opacity="0.8"/><ellipse cx="194.6" cy="307.5" rx="1.8" ry="1.8" fill="#28b4ea" fill-opacity="1"/><ellipse cx="194.6" cy="307.5" rx="1.6" ry="1.6" fill="#3cc43c" fill-opacity="1"/><ellipse cx="194.6" cy="307.5" rx="1.44" ry="1.44" fill="#f5e61e" fill-opacity="1"/><ellipse cx="194.6" cy="307.5" rx="1.28" ry="1.28" fill="#ee1c1c" fill-opacity="1"/></g>
<line x1="209.2" y1="302.5" x2="209.2" y2="310.3" stroke="#8a8a8a" stroke-width="1.0"/>
<ellipse cx="205" cy="305" rx="1.4" ry="2.2" fill="#777"/><ellipse cx="213.4" cy="305" rx="1.4" ry="2.2" fill="#777"/>
<use href="#ms" x="209.2" y="273.5" fill="url(#mg)" stroke="#b0b0b0" stroke-width="0.5" filter="url(#bs)"/>
<g filter="url(#bs)"><ellipse cx="210.19" cy="297.62" rx="1.37" ry="1.71" fill="#8a8a8a" fill-opacity="0.18"/><ellipse cx="208.85" cy="295.29" rx="1.35" ry="1.66" fill="#8a8a8a" fill-opacity="0.22"/><ellipse cx="206.88" cy="288.09" rx="1.02" ry="1.52" fill="#8a8a8a" fill-opacity="0.21"/><ellipse cx="204.81" cy="293.04" rx="1.15" ry="2.01" fill="#8a8a8a" fill-opacity="0.19"/><ellipse cx="209.12" cy="292.52" rx="1.08" ry="2.18" fill="#8a8a8a" fill-opacity="0.19"/><ellipse cx="206.13" cy="296.4" rx="0.87" ry="2.02" fill="#8a8a8a" fill-opacity="0.22"/><ellipse cx="208.19" cy="283.62" rx="1.24" ry="1.83" fill="#8a8a8a" fill-opacity="0.17"/><circle cx="206.9" cy="282" r="0.9" fill="#555" fill-opacity="0.45"/><circle cx="211.5" cy="282" r="0.9" fill="#555" fill-opacity="0.45"/></g>
<g filter="url(#bl)"><use href="#ms" x="209.2" y="273.5" fill="#8a90e0" fill-opacity="0.35"/><ellipse cx="209.2" cy="283.5" rx="3.5" ry="4" fill="#2e3eaa" fill-opacity="0.8"/><ellipse cx="209.2" cy="289.5" rx="2.5" ry="2.5" fill="#2e3eaa" fill-opacity="0.8"/><ellipse cx="215.2" cy="299.5" rx="2" ry="2" fill="#2e3eaa" fill-opacity="0.8"/><ellipse cx="215.2" cy="299.5" rx="1.72" ry="1.72" fill="#28b4ea" fill-opacity="1"/><ellipse cx="215.2" cy="299.5" rx="1.48" ry="1.48" fill="#3cc43c" fill-opacity="1"/><ellipse cx="215.2" cy="299.5" rx="1.24" ry="1.24" fill="#f5e61e" fill-opacity="1"/></g>
<line x1="225.3" y1="302.5" x2="225.3" y2="310.3" stroke="#8a8a8a" stroke-width="1.0"/>
<ellipse cx="221.1" cy="305" rx="1.4" ry="2.2" fill="#777"/><ellipse cx="229.5" cy="305" rx="1.4" ry="2.2" fill="#777"/>
<use href="#ms" x="225.3" y="273.5" fill="url(#mg)" stroke="#b0b0b0" stroke-width="0.5" filter="url(#bs)"/>
<g filter="url(#bs)"><ellipse cx="229.43" cy="286.55" rx="1.54" ry="1.02" fill="#8a8a8a" fill-opacity="0.2"/><ellipse cx="226.88" cy="288.84" rx="1.42" ry="1.99" fill="#8a8a8a" fill-opacity="0.27"/><ellipse cx="227.45" cy="291.82" rx="1.54" ry="1.86" fill="#8a8a8a" fill-opacity="0.22"/><ellipse cx="227.18" cy="296.63" rx="1.71" ry="0.98" fill="#8a8a8a" fill-opacity="0.28"/><ellipse cx="227.69" cy="282.58" rx="1.39" ry="1.5" fill="#8a8a8a" fill-opacity="0.29"/><ellipse cx="224.56" cy="292.8" rx="1.58" ry="2.02" fill="#8a8a8a" fill-opacity="0.24"/><ellipse cx="224.87" cy="289.33" rx="1.26" ry="1.81" fill="#8a8a8a" fill-opacity="0.19"/><circle cx="223" cy="282" r="0.9" fill="#555" fill-opacity="0.45"/><circle cx="227.6" cy="282" r="0.9" fill="#555" fill-opacity="0.45"/></g>
<g filter="url(#bl)"><use href="#ms" x="225.3" y="273.5" fill="#8a90e0" fill-opacity="0.35"/><ellipse cx="225.3" cy="288.5" rx="3.5" ry="3" fill="#2e3eaa" fill-opacity="0.8"/><ellipse cx="231.3" cy="299.5" rx="3" ry="3" fill="#2e3eaa" fill-opacity="0.8"/><ellipse cx="231.3" cy="299.5" rx="2.7" ry="2.7" fill="#28b4ea" fill-opacity="1"/><ellipse cx="231.3" cy="299.5" rx="2.4" ry="2.4" fill="#3cc43c" fill-opacity="1"/><ellipse cx="231.3" cy="299.5" rx="2.16" ry="2.16" fill="#f5e61e" fill-opacity="1"/><ellipse cx="231.3" cy="299.5" rx="1.92" ry="1.92" fill="#ee1c1c" fill-opacity="1"/></g>
<line x1="239.9" y1="302.5" x2="239.9" y2="310.3" stroke="#8a8a8a" stroke-width="1.0"/>
<ellipse cx="235.7" cy="305" rx="1.4" ry="2.2" fill="#777"/><ellipse cx="244.1" cy="305" rx="1.4" ry="2.2" fill="#777"/>
<use href="#ms" x="239.9" y="273.5" fill="url(#mg)" stroke="#b0b0b0" stroke-width="0.5" filter="url(#bs)"/>
<g filter="url(#bs)"><ellipse cx="240.4" cy="289.53" rx="1.18" ry="1.25" fill="#8a8a8a" fill-opacity="0.27"/><ellipse cx="239.9" cy="297.79" rx="1.24" ry="1.06" fill="#8a8a8a" fill-opacity="0.2"/><ellipse cx="240.58" cy="285.11" rx="1.38" ry="0.92" fill="#8a8a8a" fill-opacity="0.29"/><ellipse cx="242.99" cy="288.33" rx="1.64" ry="2.14" fill="#8a8a8a" fill-opacity="0.18"/><ellipse cx="243.6" cy="290.18" rx="0.81" ry="0.87" fill="#8a8a8a" fill-opacity="0.23"/><ellipse cx="243.68" cy="291.45" rx="1.57" ry="1.55" fill="#8a8a8a" fill-opacity="0.3"/><ellipse cx="240.06" cy="291.81" rx="1.49" ry="1.35" fill="#8a8a8a" fill-opacity="0.2"/><circle cx="237.6" cy="282" r="0.9" fill="#555" fill-opacity="0.45"/><circle cx="242.2" cy="282" r="0.9" fill="#555" fill-opacity="0.45"/></g>
<g filter="url(#bl)"><use href="#ms" x="239.9" y="273.5" fill="#8a90e0" fill-opacity="0.35"/><ellipse cx="239.9" cy="285.5" rx="3" ry="3" fill="#2e3eaa" fill-opacity="0.8"/><ellipse cx="244.9" cy="300.5" rx="2" ry="2" fill="#2e3eaa" fill-opacity="0.8"/><ellipse cx="244.9" cy="300.5" rx="1.8" ry="1.8" fill="#28b4ea" fill-opacity="1"/><ellipse cx="244.9" cy="300.5" rx="1.6" ry="1.6" fill="#3cc43c" fill-opacity="1"/><ellipse cx="244.9" cy="300.5" rx="1.44" ry="1.44" fill="#f5e61e" fill-opacity="1"/><ellipse cx="244.9" cy="300.5" rx="1.28" ry="1.28" fill="#ee1c1c" fill-opacity="1"/></g>
<line x1="255.3" y1="302.5" x2="255.3" y2="310.3" stroke="#8a8a8a" stroke-width="1.0"/>
<ellipse cx="251.1" cy="305" rx="1.4" ry="2.2" fill="#777"/><ellipse cx="259.5" cy="305" rx="1.4" ry="2.2" fill="#777"/>
<use href="#ms" x="255.3" y="273.5" fill="url(#mg)" stroke="#b0b0b0" stroke-width="0.5" filter="url(#bs)"/>
<g filter="url(#bs)"><ellipse cx="253.96" cy="293.2" rx="1.75" ry="1.75" fill="#8a8a8a" fill-opacity="0.23"/><ellipse cx="254.17" cy="284.28" rx="1.2" ry="1.59" fill="#8a8a8a" fill-opacity="0.24"/><ellipse cx="259.48" cy="298.34" rx="1.29" ry="1.42" fill="#8a8a8a" fill-opacity="0.24"/><ellipse cx="253.89" cy="300.43" rx="1.33" ry="1.94" fill="#8a8a8a" fill-opacity="0.18"/><ellipse cx="259.61" cy="288.23" rx="1.63" ry="1.52" fill="#8a8a8a" fill-opacity="0.17"/><ellipse cx="257.01" cy="298.6" rx="1.62" ry="2.19" fill="#8a8a8a" fill-opacity="0.28"/><ellipse cx="252.21" cy="290.08" rx="1.09" ry="1.52" fill="#8a8a8a" fill-opacity="0.23"/><circle cx="253" cy="282" r="0.9" fill="#555" fill-opacity="0.45"/><circle cx="257.6" cy="282" r="0.9" fill="#555" fill-opacity="0.45"/></g>
<g filter="url(#bl)"><use href="#ms" x="255.3" y="273.5" fill="#8a90e0" fill-opacity="0.35"/><ellipse cx="255.3" cy="285.5" rx="5" ry="9" fill="#2e3eaa" fill-opacity="0.8"/><ellipse cx="255.3" cy="285.5" rx="3" ry="5" fill="#2e3eaa" fill-opacity="0.8"/><ellipse cx="255.3" cy="285.5" rx="2.16" ry="3.6" fill="#28b4ea" fill-opacity="1"/></g>
</g>
<g><rect x="189" y="314" width="74.5" height="38.5" fill="url(#pbg)"/>
<line x1="201.2" y1="344.5" x2="201.2" y2="352.3" stroke="#8a8a8a" stroke-width="1.0"/>
<ellipse cx="197" cy="347" rx="1.4" ry="2.2" fill="#777"/><ellipse cx="205.4" cy="347" rx="1.4" ry="2.2" fill="#777"/>
<use href="#ms" x="201.2" y="315.5" fill="url(#mg)" stroke="#b0b0b0" stroke-width="0.5" filter="url(#bs)"/>
<g filter="url(#bs)"><ellipse cx="198.34" cy="327.89" rx="1.43" ry="1.64" fill="#8a8a8a" fill-opacity="0.2"/><ellipse cx="202.43" cy="342.39" rx="0.84" ry="1.38" fill="#8a8a8a" fill-opacity="0.27"/><ellipse cx="202.92" cy="330.02" rx="0.8" ry="1.23" fill="#8a8a8a" fill-opacity="0.28"/><ellipse cx="202.71" cy="335.05" rx="1" ry="1.5" fill="#8a8a8a" fill-opacity="0.23"/><ellipse cx="202.52" cy="329.29" rx="1.33" ry="2.2" fill="#8a8a8a" fill-opacity="0.24"/><ellipse cx="197.79" cy="331.9" rx="0.96" ry="1.86" fill="#8a8a8a" fill-opacity="0.17"/><ellipse cx="198.23" cy="326.3" rx="1.32" ry="1.95" fill="#8a8a8a" fill-opacity="0.24"/><circle cx="198.9" cy="324" r="0.9" fill="#555" fill-opacity="0.45"/><circle cx="203.5" cy="324" r="0.9" fill="#555" fill-opacity="0.45"/></g>
<g filter="url(#bl)"><ellipse cx="198.2" cy="340.5" rx="3" ry="2.5" fill="#2e3eaa" fill-opacity="0.8"/><ellipse cx="198.2" cy="340.5" rx="2.7" ry="2.25" fill="#28b4ea" fill-opacity="1"/><ellipse cx="198.2" cy="340.5" rx="2.4" ry="2" fill="#3cc43c" fill-opacity="1"/><ellipse cx="198.2" cy="340.5" rx="2.16" ry="1.8" fill="#f5e61e" fill-opacity="1"/><ellipse cx="198.2" cy="340.5" rx="1.92" ry="1.6" fill="#ee1c1c" fill-opacity="1"/><ellipse cx="201.2" cy="342.5" rx="5" ry="2.5" fill="#2e3eaa" fill-opacity="0.8"/><ellipse cx="201.2" cy="342.5" rx="4.1" ry="2.05" fill="#28b4ea" fill-opacity="1"/><ellipse cx="201.2" cy="342.5" rx="3.3" ry="1.65" fill="#3cc43c" fill-opacity="1"/><ellipse cx="205.2" cy="340.5" rx="2.5" ry="2.5" fill="#2e3eaa" fill-opacity="0.8"/><ellipse cx="205.2" cy="340.5" rx="2.25" ry="2.25" fill="#28b4ea" fill-opacity="1"/><ellipse cx="205.2" cy="340.5" rx="2" ry="2" fill="#3cc43c" fill-opacity="1"/><ellipse cx="205.2" cy="340.5" rx="1.8" ry="1.8" fill="#f5e61e" fill-opacity="1"/><ellipse cx="205.2" cy="340.5" rx="1.6" ry="1.6" fill="#ee1c1c" fill-opacity="1"/><ellipse cx="201.2" cy="346.5" rx="2" ry="2" fill="#2e3eaa" fill-opacity="0.8"/><ellipse cx="201.2" cy="346.5" rx="1.8" ry="1.8" fill="#28b4ea" fill-opacity="1"/><ellipse cx="201.2" cy="346.5" rx="1.6" ry="1.6" fill="#3cc43c" fill-opacity="1"/><ellipse cx="201.2" cy="346.5" rx="1.44" ry="1.44" fill="#f5e61e" fill-opacity="1"/><ellipse cx="201.2" cy="346.5" rx="1.28" ry="1.28" fill="#ee1c1c" fill-opacity="1"/></g>
<line x1="216.5" y1="344.5" x2="216.5" y2="352.3" stroke="#8a8a8a" stroke-width="1.0"/>
<ellipse cx="212.3" cy="347" rx="1.4" ry="2.2" fill="#777"/><ellipse cx="220.7" cy="347" rx="1.4" ry="2.2" fill="#777"/>
<use href="#ms" x="216.5" y="315.5" fill="url(#mg)" stroke="#b0b0b0" stroke-width="0.5" filter="url(#bs)"/>
<g filter="url(#bs)"><ellipse cx="212.56" cy="339.02" rx="0.81" ry="1.88" fill="#8a8a8a" fill-opacity="0.2"/><ellipse cx="215.18" cy="337.38" rx="0.97" ry="1.17" fill="#8a8a8a" fill-opacity="0.16"/><ellipse cx="217.24" cy="340.77" rx="1.15" ry="1.43" fill="#8a8a8a" fill-opacity="0.21"/><ellipse cx="220.01" cy="325.48" rx="1.38" ry="2.14" fill="#8a8a8a" fill-opacity="0.22"/><ellipse cx="214.24" cy="335.66" rx="0.84" ry="2.1" fill="#8a8a8a" fill-opacity="0.28"/><ellipse cx="220.09" cy="330.17" rx="1.62" ry="1.23" fill="#8a8a8a" fill-opacity="0.24"/><ellipse cx="216.46" cy="341.78" rx="1.75" ry="1.14" fill="#8a8a8a" fill-opacity="0.21"/><circle cx="214.2" cy="324" r="0.9" fill="#555" fill-opacity="0.45"/><circle cx="218.8" cy="324" r="0.9" fill="#555" fill-opacity="0.45"/></g>
<g filter="url(#bl)"><ellipse cx="216.5" cy="323.5" rx="4.5" ry="6" fill="#2e3eaa" fill-opacity="0.8"/><ellipse cx="216.5" cy="323.5" rx="3.24" ry="4.32" fill="#28b4ea" fill-opacity="1"/><ellipse cx="216.5" cy="325.5" rx="2" ry="2" fill="#2e3eaa" fill-opacity="0.8"/><ellipse cx="216.5" cy="325.5" rx="1.64" ry="1.64" fill="#28b4ea" fill-opacity="1"/><ellipse cx="216.5" cy="325.5" rx="1.32" ry="1.32" fill="#3cc43c" fill-opacity="1"/><ellipse cx="212.5" cy="337.5" rx="2.5" ry="2.5" fill="#2e3eaa" fill-opacity="0.8"/><ellipse cx="212.5" cy="337.5" rx="1.8" ry="1.8" fill="#28b4ea" fill-opacity="1"/><ellipse cx="221.5" cy="337.5" rx="2.8" ry="2.8" fill="#2e3eaa" fill-opacity="0.8"/><ellipse cx="221.5" cy="337.5" rx="2.52" ry="2.52" fill="#28b4ea" fill-opacity="1"/><ellipse cx="221.5" cy="337.5" rx="2.24" ry="2.24" fill="#3cc43c" fill-opacity="1"/><ellipse cx="221.5" cy="337.5" rx="2.02" ry="2.02" fill="#f5e61e" fill-opacity="1"/><ellipse cx="221.5" cy="337.5" rx="1.79" ry="1.79" fill="#ee1c1c" fill-opacity="1"/><ellipse cx="216.5" cy="343.5" rx="3" ry="2" fill="#2e3eaa" fill-opacity="0.8"/></g>
<line x1="228.9" y1="344.5" x2="228.9" y2="352.3" stroke="#8a8a8a" stroke-width="1.0"/>
<ellipse cx="224.7" cy="347" rx="1.4" ry="2.2" fill="#777"/><ellipse cx="233.1" cy="347" rx="1.4" ry="2.2" fill="#777"/>
<use href="#ms" x="228.9" y="315.5" fill="url(#mg)" stroke="#b0b0b0" stroke-width="0.5" filter="url(#bs)"/>
<g filter="url(#bs)"><ellipse cx="226.39" cy="337.43" rx="1.11" ry="2.03" fill="#8a8a8a" fill-opacity="0.22"/><ellipse cx="226.59" cy="338.77" rx="0.97" ry="1.3" fill="#8a8a8a" fill-opacity="0.18"/><ellipse cx="227.02" cy="341.99" rx="1.36" ry="0.96" fill="#8a8a8a" fill-opacity="0.23"/><ellipse cx="228.03" cy="331.44" rx="0.87" ry="0.97" fill="#8a8a8a" fill-opacity="0.27"/><ellipse cx="226.6" cy="330.82" rx="0.99" ry="1.2" fill="#8a8a8a" fill-opacity="0.19"/><ellipse cx="230.38" cy="325.13" rx="1.14" ry="1.02" fill="#8a8a8a" fill-opacity="0.26"/><ellipse cx="226.83" cy="326.17" rx="1.64" ry="0.98" fill="#8a8a8a" fill-opacity="0.22"/><circle cx="226.6" cy="324" r="0.9" fill="#555" fill-opacity="0.45"/><circle cx="231.2" cy="324" r="0.9" fill="#555" fill-opacity="0.45"/></g>
<g filter="url(#bl)"><ellipse cx="228.9" cy="323.5" rx="5" ry="6" fill="#2e3eaa" fill-opacity="0.8"/><ellipse cx="228.9" cy="323.5" rx="3.6" ry="4.32" fill="#28b4ea" fill-opacity="1"/><ellipse cx="224.9" cy="338.5" rx="2.5" ry="2.5" fill="#2e3eaa" fill-opacity="0.8"/><ellipse cx="224.9" cy="338.5" rx="2.05" ry="2.05" fill="#28b4ea" fill-opacity="1"/><ellipse cx="224.9" cy="338.5" rx="1.65" ry="1.65" fill="#3cc43c" fill-opacity="1"/><ellipse cx="232.9" cy="338.5" rx="2.5" ry="2.5" fill="#2e3eaa" fill-opacity="0.8"/><ellipse cx="232.9" cy="338.5" rx="2.25" ry="2.25" fill="#28b4ea" fill-opacity="1"/><ellipse cx="232.9" cy="338.5" rx="2" ry="2" fill="#3cc43c" fill-opacity="1"/><ellipse cx="232.9" cy="338.5" rx="1.8" ry="1.8" fill="#f5e61e" fill-opacity="1"/><ellipse cx="232.9" cy="338.5" rx="1.6" ry="1.6" fill="#ee1c1c" fill-opacity="1"/><ellipse cx="228.9" cy="343.5" rx="3" ry="2" fill="#2e3eaa" fill-opacity="0.8"/></g>
<line x1="241.4" y1="344.5" x2="241.4" y2="352.3" stroke="#8a8a8a" stroke-width="1.0"/>
<ellipse cx="237.2" cy="347" rx="1.4" ry="2.2" fill="#777"/><ellipse cx="245.6" cy="347" rx="1.4" ry="2.2" fill="#777"/>
<use href="#ms" x="241.4" y="315.5" fill="url(#mg)" stroke="#b0b0b0" stroke-width="0.5" filter="url(#bs)"/>
<g filter="url(#bs)"><ellipse cx="244.14" cy="339.55" rx="0.96" ry="1.29" fill="#8a8a8a" fill-opacity="0.26"/><ellipse cx="245.53" cy="331.28" rx="1.01" ry="2.13" fill="#8a8a8a" fill-opacity="0.23"/><ellipse cx="240.97" cy="328.59" rx="0.93" ry="1.79" fill="#8a8a8a" fill-opacity="0.19"/><ellipse cx="242.19" cy="340.69" rx="1.17" ry="1.14" fill="#8a8a8a" fill-opacity="0.24"/><ellipse cx="244.75" cy="328.33" rx="0.92" ry="1.52" fill="#8a8a8a" fill-opacity="0.23"/><ellipse cx="243.85" cy="329.37" rx="1.18" ry="1.72" fill="#8a8a8a" fill-opacity="0.24"/><ellipse cx="240.41" cy="330.09" rx="0.89" ry="1.05" fill="#8a8a8a" fill-opacity="0.28"/><circle cx="239.1" cy="324" r="0.9" fill="#555" fill-opacity="0.45"/><circle cx="243.7" cy="324" r="0.9" fill="#555" fill-opacity="0.45"/></g>
<g filter="url(#bl)"><ellipse cx="241.4" cy="322.5" rx="4.5" ry="4" fill="#2e3eaa" fill-opacity="0.8"/><ellipse cx="241.4" cy="322.5" rx="3.24" ry="2.88" fill="#28b4ea" fill-opacity="1"/><ellipse cx="241.4" cy="327.5" rx="3" ry="2" fill="#2e3eaa" fill-opacity="0.8"/><ellipse cx="241.4" cy="327.5" rx="2.58" ry="1.72" fill="#28b4ea" fill-opacity="1"/><ellipse cx="241.4" cy="327.5" rx="2.22" ry="1.48" fill="#3cc43c" fill-opacity="1"/><ellipse cx="241.4" cy="327.5" rx="1.86" ry="1.24" fill="#f5e61e" fill-opacity="1"/><ellipse cx="237.4" cy="339.5" rx="2.8" ry="2.8" fill="#2e3eaa" fill-opacity="0.8"/><ellipse cx="237.4" cy="339.5" rx="2.02" ry="2.02" fill="#28b4ea" fill-opacity="1"/><ellipse cx="245.4" cy="339.5" rx="2.8" ry="2.8" fill="#2e3eaa" fill-opacity="0.8"/><ellipse cx="245.4" cy="339.5" rx="2.52" ry="2.52" fill="#28b4ea" fill-opacity="1"/><ellipse cx="245.4" cy="339.5" rx="2.24" ry="2.24" fill="#3cc43c" fill-opacity="1"/><ellipse cx="245.4" cy="339.5" rx="2.02" ry="2.02" fill="#f5e61e" fill-opacity="1"/><ellipse cx="245.4" cy="339.5" rx="1.79" ry="1.79" fill="#ee1c1c" fill-opacity="1"/></g>
<line x1="254.5" y1="344.5" x2="254.5" y2="352.3" stroke="#8a8a8a" stroke-width="1.0"/>
<ellipse cx="250.3" cy="347" rx="1.4" ry="2.2" fill="#777"/><ellipse cx="258.7" cy="347" rx="1.4" ry="2.2" fill="#777"/>
<use href="#ms" x="254.5" y="315.5" fill="url(#mg)" stroke="#b0b0b0" stroke-width="0.5" filter="url(#bs)"/>
<g filter="url(#bs)"><ellipse cx="255.96" cy="330.28" rx="0.91" ry="1.59" fill="#8a8a8a" fill-opacity="0.2"/><ellipse cx="252.67" cy="333.51" rx="0.87" ry="1.24" fill="#8a8a8a" fill-opacity="0.18"/><ellipse cx="256.45" cy="326.77" rx="1.08" ry="1.36" fill="#8a8a8a" fill-opacity="0.29"/><ellipse cx="257.94" cy="338.45" rx="1.66" ry="0.99" fill="#8a8a8a" fill-opacity="0.19"/><ellipse cx="256.12" cy="325.03" rx="1.46" ry="1.29" fill="#8a8a8a" fill-opacity="0.21"/><ellipse cx="256.29" cy="336.36" rx="1.05" ry="1.99" fill="#8a8a8a" fill-opacity="0.2"/><ellipse cx="251.63" cy="335.82" rx="0.92" ry="2.08" fill="#8a8a8a" fill-opacity="0.26"/><circle cx="252.2" cy="324" r="0.9" fill="#555" fill-opacity="0.45"/><circle cx="256.8" cy="324" r="0.9" fill="#555" fill-opacity="0.45"/></g>
<g filter="url(#bl)"><ellipse cx="254.5" cy="325.5" rx="5.5" ry="8" fill="#2e3eaa" fill-opacity="0.8"/><ellipse cx="254.5" cy="325.5" rx="3.96" ry="5.76" fill="#28b4ea" fill-opacity="1"/><ellipse cx="254.5" cy="327.5" rx="3" ry="3" fill="#2e3eaa" fill-opacity="0.8"/><ellipse cx="254.5" cy="327.5" rx="2.7" ry="2.7" fill="#28b4ea" fill-opacity="1"/><ellipse cx="254.5" cy="327.5" rx="2.4" ry="2.4" fill="#3cc43c" fill-opacity="1"/><ellipse cx="254.5" cy="327.5" rx="2.16" ry="2.16" fill="#f5e61e" fill-opacity="1"/><ellipse cx="254.5" cy="327.5" rx="1.92" ry="1.92" fill="#ee1c1c" fill-opacity="1"/><ellipse cx="250.5" cy="338.5" rx="2.8" ry="2.8" fill="#2e3eaa" fill-opacity="0.8"/><ellipse cx="250.5" cy="338.5" rx="2.52" ry="2.52" fill="#28b4ea" fill-opacity="1"/><ellipse cx="250.5" cy="338.5" rx="2.24" ry="2.24" fill="#3cc43c" fill-opacity="1"/><ellipse cx="250.5" cy="338.5" rx="2.02" ry="2.02" fill="#f5e61e" fill-opacity="1"/><ellipse cx="250.5" cy="338.5" rx="1.79" ry="1.79" fill="#ee1c1c" fill-opacity="1"/><ellipse cx="259.5" cy="340.5" rx="2.8" ry="2.8" fill="#2e3eaa" fill-opacity="0.8"/><ellipse cx="259.5" cy="340.5" rx="2.52" ry="2.52" fill="#28b4ea" fill-opacity="1"/><ellipse cx="259.5" cy="340.5" rx="2.24" ry="2.24" fill="#3cc43c" fill-opacity="1"/><ellipse cx="259.5" cy="340.5" rx="2.02" ry="2.02" fill="#f5e61e" fill-opacity="1"/><ellipse cx="259.5" cy="340.5" rx="1.79" ry="1.79" fill="#ee1c1c" fill-opacity="1"/></g>
</g>
<line x1="20" y1="149.8" x2="20" y2="352" stroke="#777" stroke-width="1.3" />
<polygon points="17.8,351.2 22.3,351.2 20,356.3" fill="#111"/>
<text transform="translate(12.1 253.3) rotate(-90)" x="-44.79" y="2.68" font-size="7.8" textLength="89.47" lengthAdjust="spacingAndGlyphs">Days post T cell administration</text>
<text transform="translate(28.4 166.55) rotate(-90)" x="-8.26" y="2.27" font-size="6.6" textLength="16.33" lengthAdjust="spacingAndGlyphs">Day 2</text>
<text transform="translate(28.4 208.55) rotate(-90)" x="-8.15" y="2.27" font-size="6.6" textLength="16.08" lengthAdjust="spacingAndGlyphs">Day 6</text>
<text transform="translate(28.4 250.05) rotate(-90)" x="-8.16" y="2.27" font-size="6.6" textLength="16.1" lengthAdjust="spacingAndGlyphs">Day 9</text>
<text transform="translate(28.4 291.55) rotate(-90)" x="-10.28" y="2.27" font-size="6.6" textLength="20.31" lengthAdjust="spacingAndGlyphs">Day 13</text>
<text transform="translate(28.4 333.55) rotate(-90)" x="-10.28" y="2.27" font-size="6.6" textLength="20.31" lengthAdjust="spacingAndGlyphs">Day 16</text>
<defs><linearGradient id="cb" x1="0" y1="1" x2="0" y2="0"><stop offset="0" stop-color="#34306e"/><stop offset="0.15" stop-color="#3b4e9a"/><stop offset="0.3" stop-color="#4a86b8"/><stop offset="0.42" stop-color="#4e9a8a"/><stop offset="0.55" stop-color="#5a9a48"/><stop offset="0.68" stop-color="#9aaa40"/><stop offset="0.78" stop-color="#d0b048"/><stop offset="0.88" stop-color="#d07a40"/><stop offset="0.96" stop-color="#b83a2c"/><stop offset="1" stop-color="#4a1a1a"/></linearGradient></defs>
<rect x="266.7" y="205.6" width="3" height="78" fill="url(#cb)" />
<text transform="translate(286.85 198.8)" x="-20.26" y="2.03" font-size="5.9" textLength="40.29" lengthAdjust="spacingAndGlyphs">Luminescence</text>
<text transform="translate(279.55 203.8)" x="-4.42" y="2.06" font-size="5.9" textLength="8.61" lengthAdjust="spacingAndGlyphs">1.0</text>
<text transform="translate(280.3 209.8)" x="-5.16" y="2.06" font-size="5.9" textLength="10.17" lengthAdjust="spacingAndGlyphs">107</text>
<text transform="translate(279.6 222.8)" x="-4.66" y="2.06" font-size="5.9" textLength="9.36" lengthAdjust="spacingAndGlyphs">0.8</text>
<text transform="translate(279.6 240)" x="-4.66" y="2.06" font-size="5.9" textLength="9.36" lengthAdjust="spacingAndGlyphs">0.6</text>
<text x="283.6" y="247.7" font-size="5.9" dominant-baseline="central">×10<tspan font-size="3.66" dy="-2.24">7</tspan></text>
<text transform="translate(279.6 257.3)" x="-4.66" y="2.06" font-size="5.9" textLength="9.26" lengthAdjust="spacingAndGlyphs">0.4</text>
<text transform="translate(279.6 274.4)" x="-4.66" y="2.06" font-size="5.9" textLength="9.4" lengthAdjust="spacingAndGlyphs">0.2</text>
<text transform="translate(280.5 282)" x="-5.16" y="2.06" font-size="5.9" textLength="10.13" lengthAdjust="spacingAndGlyphs">106</text>
<line x1="269.7" y1="222.8" x2="271.3" y2="222.8" stroke="#444" stroke-width="0.5" />
<line x1="269.7" y1="240" x2="271.3" y2="240" stroke="#444" stroke-width="0.5" />
<line x1="269.7" y1="257.3" x2="271.3" y2="257.3" stroke="#444" stroke-width="0.5" />
<line x1="269.7" y1="274.4" x2="271.3" y2="274.4" stroke="#444" stroke-width="0.5" />
<text transform="translate(326.2 131.3)" x="-4.3" y="3.96" font-size="11.5" fill="#111" font-weight="bold">D</text>
<line x1="352.7" y1="141" x2="352.7" y2="223" stroke="#222" stroke-width="0.9" />
<line x1="352.7" y1="223" x2="511.7" y2="223" stroke="#222" stroke-width="0.9" />
<line x1="349.7" y1="223" x2="352.7" y2="223" stroke="#222" stroke-width="0.7" />
<text x="346.4" y="223.2" font-size="6" text-anchor="end" dominant-baseline="central">10<tspan font-size="3.72" dy="-2.28">5</tspan></text>
<line x1="349.7" y1="209.82" x2="352.7" y2="209.82" stroke="#222" stroke-width="0.7" />
<text x="346.4" y="210.02" font-size="6" text-anchor="end" dominant-baseline="central">10<tspan font-size="3.72" dy="-2.28">6</tspan></text>
<line x1="349.7" y1="196.64" x2="352.7" y2="196.64" stroke="#222" stroke-width="0.7" />
<text x="346.4" y="196.84" font-size="6" text-anchor="end" dominant-baseline="central">10<tspan font-size="3.72" dy="-2.28">7</tspan></text>
<line x1="349.7" y1="183.46" x2="352.7" y2="183.46" stroke="#222" stroke-width="0.7" />
<text x="346.4" y="183.66" font-size="6" text-anchor="end" dominant-baseline="central">10<tspan font-size="3.72" dy="-2.28">8</tspan></text>
<line x1="349.7" y1="170.28" x2="352.7" y2="170.28" stroke="#222" stroke-width="0.7" />
<text x="346.4" y="170.48" font-size="6" text-anchor="end" dominant-baseline="central">10<tspan font-size="3.72" dy="-2.28">9</tspan></text>
<line x1="349.7" y1="157.1" x2="352.7" y2="157.1" stroke="#222" stroke-width="0.7" />
<text x="346.4" y="157.3" font-size="6" text-anchor="end" dominant-baseline="central">10<tspan font-size="3.72" dy="-2.28">10</tspan></text>
<line x1="349.7" y1="143.92" x2="352.7" y2="143.92" stroke="#222" stroke-width="0.7" />
<text x="346.4" y="144.12" font-size="6" text-anchor="end" dominant-baseline="central">10<tspan font-size="3.72" dy="-2.28">11</tspan></text>
<line x1="364.5" y1="223" x2="364.5" y2="226" stroke="#222" stroke-width="0.7" />
<line x1="391.4" y1="223" x2="391.4" y2="226" stroke="#222" stroke-width="0.7" />
<line x1="418.4" y1="223" x2="418.4" y2="226" stroke="#222" stroke-width="0.7" />
<line x1="445.5" y1="223" x2="445.5" y2="226" stroke="#222" stroke-width="0.7" />
<line x1="472.5" y1="223" x2="472.5" y2="226" stroke="#222" stroke-width="0.7" />
<line x1="499.4" y1="223" x2="499.4" y2="226" stroke="#222" stroke-width="0.7" />
<text transform="translate(364.4 232.8)" x="-3.07" y="2.16" font-size="6.2" textLength="6.13" lengthAdjust="spacingAndGlyphs">−1</text>
<text transform="translate(391.5 232.8)" x="-2.08" y="2.16" font-size="6.2" textLength="4.15" lengthAdjust="spacingAndGlyphs">2</text>
<text transform="translate(418.4 232.8)" x="-2.07" y="2.16" font-size="6.2" textLength="4.1" lengthAdjust="spacingAndGlyphs">6</text>
<text transform="translate(445.5 232.8)" x="-2.05" y="2.16" font-size="6.2" textLength="4.09" lengthAdjust="spacingAndGlyphs">9</text>
<text transform="translate(472.7 232.8)" x="-3.58" y="2.16" font-size="6.2" textLength="6.95" lengthAdjust="spacingAndGlyphs">13</text>
<text transform="translate(499.65 232.8)" x="-3.86" y="2.16" font-size="6.2" textLength="7.51" lengthAdjust="spacingAndGlyphs">16</text>
<text transform="translate(432.2 244.2)" x="-34.32" y="2.68" font-size="7.8" textLength="68.22" lengthAdjust="spacingAndGlyphs">Days post T cell transfer</text>
<text transform="translate(327.8 181.8) rotate(-90)" x="-29.3" y="2.65" font-size="7.7" textLength="58.46" lengthAdjust="spacingAndGlyphs">Log flux (photons/s)</text>
<line x1="357.3" y1="205.5" x2="357.3" y2="223" stroke="#222" stroke-width="0.5" />
<rect x="354.8" y="205" width="3" height="3" fill="#3f8f3c" stroke="#1a401c" stroke-width="0.6"/>
<rect x="356.8" y="208" width="3" height="3" fill="#3f8f3c" stroke="#1a401c" stroke-width="0.6"/>
<rect x="356" y="211" width="3" height="3" fill="#3f8f3c" stroke="#1a401c" stroke-width="0.6"/>
<rect x="354.6" y="214" width="3" height="3" fill="#3f8f3c" stroke="#1a401c" stroke-width="0.6"/>
<rect x="357" y="217" width="3" height="3" fill="#3f8f3c" stroke="#1a401c" stroke-width="0.6"/>
<rect x="356.3" y="219.5" width="3" height="3" fill="#3f8f3c" stroke="#1a401c" stroke-width="0.6"/>
<line x1="364.5" y1="206" x2="364.5" y2="221.5" stroke="#222" stroke-width="0.5" />
<circle cx="363.54" cy="207" r="1.5" fill="#fff" fill-opacity="0.55" stroke="#2e2e2e" stroke-width="0.9"/>
<circle cx="365.46" cy="210" r="1.5" fill="#fff" fill-opacity="0.55" stroke="#2e2e2e" stroke-width="0.9"/>
<circle cx="364.9" cy="213" r="1.5" fill="#fff" fill-opacity="0.55" stroke="#2e2e2e" stroke-width="0.9"/>
<circle cx="364.1" cy="216" r="1.5" fill="#fff" fill-opacity="0.55" stroke="#2e2e2e" stroke-width="0.9"/>
<circle cx="363.7" cy="219.5" r="1.5" fill="#fff" fill-opacity="0.55" stroke="#2e2e2e" stroke-width="0.9"/>
<line x1="371.8" y1="206.5" x2="371.8" y2="221.5" stroke="#222" stroke-width="0.5" />
<polygon points="372.6,205.79 374.5,209.21 370.7,209.21" fill="#5a1026"/>
<polygon points="371.96,208.79 373.86,212.21 370.06,212.21" fill="#5a1026"/>
<polygon points="370.84,211.79 372.74,215.21 368.94,215.21" fill="#5a1026"/>
<polygon points="372.76,214.79 374.66,218.21 370.86,218.21" fill="#5a1026"/>
<polygon points="372.2,217.79 374.1,221.21 370.3,221.21" fill="#5a1026"/>
<line x1="384.2" y1="178" x2="384.2" y2="191.5" stroke="#222" stroke-width="0.5" />
<rect x="381.7" y="177.5" width="3" height="3" fill="#3f8f3c" stroke="#1a401c" stroke-width="0.6"/>
<rect x="383.7" y="180" width="3" height="3" fill="#3f8f3c" stroke="#1a401c" stroke-width="0.6"/>
<rect x="382.9" y="182.5" width="3" height="3" fill="#3f8f3c" stroke="#1a401c" stroke-width="0.6"/>
<rect x="381.5" y="185" width="3" height="3" fill="#3f8f3c" stroke="#1a401c" stroke-width="0.6"/>
<rect x="383.9" y="188" width="3" height="3" fill="#3f8f3c" stroke="#1a401c" stroke-width="0.6"/>
<line x1="391.4" y1="179.5" x2="391.4" y2="202" stroke="#222" stroke-width="0.5" />
<circle cx="390.44" cy="180.5" r="1.5" fill="#fff" fill-opacity="0.55" stroke="#2e2e2e" stroke-width="0.9"/>
<circle cx="392.36" cy="184" r="1.5" fill="#fff" fill-opacity="0.55" stroke="#2e2e2e" stroke-width="0.9"/>
<circle cx="391.8" cy="187" r="1.5" fill="#fff" fill-opacity="0.55" stroke="#2e2e2e" stroke-width="0.9"/>
<circle cx="391" cy="190" r="1.5" fill="#fff" fill-opacity="0.55" stroke="#2e2e2e" stroke-width="0.9"/>
<circle cx="390.6" cy="193" r="1.5" fill="#fff" fill-opacity="0.55" stroke="#2e2e2e" stroke-width="0.9"/>
<circle cx="392.2" cy="196.5" r="1.5" fill="#fff" fill-opacity="0.55" stroke="#2e2e2e" stroke-width="0.9"/>
<circle cx="391.56" cy="200" r="1.5" fill="#fff" fill-opacity="0.55" stroke="#2e2e2e" stroke-width="0.9"/>
<line x1="398.7" y1="186.5" x2="398.7" y2="204.5" stroke="#222" stroke-width="0.5" />
<polygon points="399.5,185.79 401.4,189.21 397.6,189.21" fill="#5a1026"/>
<polygon points="398.86,188.29 400.76,191.71 396.96,191.71" fill="#5a1026"/>
<polygon points="397.74,190.79 399.64,194.21 395.84,194.21" fill="#5a1026"/>
<polygon points="399.66,193.29 401.56,196.71 397.76,196.71" fill="#5a1026"/>
<polygon points="399.1,196.29 401,199.71 397.2,199.71" fill="#5a1026"/>
<polygon points="398.3,200.79 400.2,204.21 396.4,204.21" fill="#5a1026"/>
<line x1="411.2" y1="164.5" x2="411.2" y2="177" stroke="#222" stroke-width="0.5" />
<rect x="408.7" y="164" width="3" height="3" fill="#3f8f3c" stroke="#1a401c" stroke-width="0.6"/>
<rect x="410.7" y="167" width="3" height="3" fill="#3f8f3c" stroke="#1a401c" stroke-width="0.6"/>
<rect x="409.9" y="170" width="3" height="3" fill="#3f8f3c" stroke="#1a401c" stroke-width="0.6"/>
<rect x="408.5" y="173.5" width="3" height="3" fill="#3f8f3c" stroke="#1a401c" stroke-width="0.6"/>
<line x1="418.4" y1="175.8" x2="418.4" y2="199.3" stroke="#222" stroke-width="0.5" />
<circle cx="417.44" cy="176.8" r="1.5" fill="#fff" fill-opacity="0.55" stroke="#2e2e2e" stroke-width="0.9"/>
<circle cx="419.36" cy="180" r="1.5" fill="#fff" fill-opacity="0.55" stroke="#2e2e2e" stroke-width="0.9"/>
<circle cx="418.8" cy="183.5" r="1.5" fill="#fff" fill-opacity="0.55" stroke="#2e2e2e" stroke-width="0.9"/>
<circle cx="418" cy="187.5" r="1.5" fill="#fff" fill-opacity="0.55" stroke="#2e2e2e" stroke-width="0.9"/>
<circle cx="417.6" cy="197.3" r="1.5" fill="#fff" fill-opacity="0.55" stroke="#2e2e2e" stroke-width="0.9"/>
<line x1="425.7" y1="176.7" x2="425.7" y2="200.5" stroke="#222" stroke-width="0.5" />
<polygon points="426.5,175.99 428.4,179.41 424.6,179.41" fill="#5a1026"/>
<polygon points="425.86,179.79 427.76,183.21 423.96,183.21" fill="#5a1026"/>
<polygon points="424.74,186.29 426.64,189.71 422.84,189.71" fill="#5a1026"/>
<polygon points="426.66,188.69 428.56,192.11 424.76,192.11" fill="#5a1026"/>
<polygon points="426.1,196.79 428,200.21 424.2,200.21" fill="#5a1026"/>
<line x1="438.3" y1="164.5" x2="438.3" y2="174.5" stroke="#222" stroke-width="0.5" />
<rect x="435.8" y="164" width="3" height="3" fill="#3f8f3c" stroke="#1a401c" stroke-width="0.6"/>
<rect x="437.8" y="166.5" width="3" height="3" fill="#3f8f3c" stroke="#1a401c" stroke-width="0.6"/>
<rect x="437" y="169" width="3" height="3" fill="#3f8f3c" stroke="#1a401c" stroke-width="0.6"/>
<rect x="435.6" y="171" width="3" height="3" fill="#3f8f3c" stroke="#1a401c" stroke-width="0.6"/>
<line x1="445.5" y1="168" x2="445.5" y2="185.5" stroke="#222" stroke-width="0.5" />
<circle cx="444.54" cy="169" r="1.5" fill="#fff" fill-opacity="0.55" stroke="#2e2e2e" stroke-width="0.9"/>
<circle cx="446.46" cy="176.5" r="1.5" fill="#fff" fill-opacity="0.55" stroke="#2e2e2e" stroke-width="0.9"/>
<circle cx="445.9" cy="180" r="1.5" fill="#fff" fill-opacity="0.55" stroke="#2e2e2e" stroke-width="0.9"/>
<circle cx="445.1" cy="183.5" r="1.5" fill="#fff" fill-opacity="0.55" stroke="#2e2e2e" stroke-width="0.9"/>
<line x1="452.8" y1="176" x2="452.8" y2="193" stroke="#222" stroke-width="0.5" />
<polygon points="453.6,175.29 455.5,178.71 451.7,178.71" fill="#5a1026"/>
<polygon points="452.96,178.29 454.86,181.71 451.06,181.71" fill="#5a1026"/>
<polygon points="451.84,181.29 453.74,184.71 449.94,184.71" fill="#5a1026"/>
<polygon points="453.76,184.29 455.66,187.71 451.86,187.71" fill="#5a1026"/>
<polygon points="453.2,187.29 455.1,190.71 451.3,190.71" fill="#5a1026"/>
<polygon points="452.4,189.29 454.3,192.71 450.5,192.71" fill="#5a1026"/>
<line x1="465.3" y1="152.5" x2="465.3" y2="165" stroke="#222" stroke-width="0.5" />
<rect x="462.8" y="152" width="3" height="3" fill="#3f8f3c" stroke="#1a401c" stroke-width="0.6"/>
<rect x="464.8" y="154.5" width="3" height="3" fill="#3f8f3c" stroke="#1a401c" stroke-width="0.6"/>
<rect x="464" y="157" width="3" height="3" fill="#3f8f3c" stroke="#1a401c" stroke-width="0.6"/>
<rect x="462.6" y="159.5" width="3" height="3" fill="#3f8f3c" stroke="#1a401c" stroke-width="0.6"/>
<rect x="465" y="161.5" width="3" height="3" fill="#3f8f3c" stroke="#1a401c" stroke-width="0.6"/>
<line x1="472.5" y1="157.5" x2="472.5" y2="174" stroke="#222" stroke-width="0.5" />
<circle cx="471.54" cy="158.5" r="1.5" fill="#fff" fill-opacity="0.55" stroke="#2e2e2e" stroke-width="0.9"/>
<circle cx="473.46" cy="162" r="1.5" fill="#fff" fill-opacity="0.55" stroke="#2e2e2e" stroke-width="0.9"/>
<circle cx="472.9" cy="165" r="1.5" fill="#fff" fill-opacity="0.55" stroke="#2e2e2e" stroke-width="0.9"/>
<circle cx="472.1" cy="168.5" r="1.5" fill="#fff" fill-opacity="0.55" stroke="#2e2e2e" stroke-width="0.9"/>
<circle cx="471.7" cy="172" r="1.5" fill="#fff" fill-opacity="0.55" stroke="#2e2e2e" stroke-width="0.9"/>
<line x1="479.8" y1="167" x2="479.8" y2="179" stroke="#222" stroke-width="0.5" />
<polygon points="480.6,166.29 482.5,169.71 478.7,169.71" fill="#5a1026"/>
<polygon points="479.96,168.79 481.86,172.21 478.06,172.21" fill="#5a1026"/>
<polygon points="478.84,171.29 480.74,174.71 476.94,174.71" fill="#5a1026"/>
<polygon points="480.76,173.79 482.66,177.21 478.86,177.21" fill="#5a1026"/>
<polygon points="480.2,175.29 482.1,178.71 478.3,178.71" fill="#5a1026"/>
<line x1="499.4" y1="151.5" x2="499.4" y2="172.5" stroke="#222" stroke-width="0.5" />
<circle cx="498.44" cy="152.5" r="1.5" fill="#fff" fill-opacity="0.55" stroke="#2e2e2e" stroke-width="0.9"/>
<circle cx="500.36" cy="157" r="1.5" fill="#fff" fill-opacity="0.55" stroke="#2e2e2e" stroke-width="0.9"/>
<circle cx="499.8" cy="161.5" r="1.5" fill="#fff" fill-opacity="0.55" stroke="#2e2e2e" stroke-width="0.9"/>
<circle cx="499" cy="166" r="1.5" fill="#fff" fill-opacity="0.55" stroke="#2e2e2e" stroke-width="0.9"/>
<circle cx="498.6" cy="170.5" r="1.5" fill="#fff" fill-opacity="0.55" stroke="#2e2e2e" stroke-width="0.9"/>
<line x1="506.7" y1="160" x2="506.7" y2="172" stroke="#222" stroke-width="0.5" />
<polygon points="507.5,159.29 509.4,162.71 505.6,162.71" fill="#5a1026"/>
<polygon points="506.86,162.29 508.76,165.71 504.96,165.71" fill="#5a1026"/>
<polygon points="505.74,165.29 507.64,168.71 503.84,168.71" fill="#5a1026"/>
<polygon points="507.66,168.29 509.56,171.71 505.76,171.71" fill="#5a1026"/>
<text x="364.7" y="197.2" font-size="6.9" text-anchor="middle" font-style="italic" dominant-baseline="central">N.S.</text>
<line x1="356.3" y1="201" x2="372.5" y2="201" stroke="#6a6a6a" stroke-width="0.8" />
<text x="391.5" y="160.4" font-size="7" text-anchor="middle" dominant-baseline="central">*</text>
<line x1="383.8" y1="162.3" x2="399.2" y2="162.3" stroke="#6a6a6a" stroke-width="0.8" />
<text x="388" y="166.6" font-size="6.9" text-anchor="middle" font-style="italic" dominant-baseline="central">N.S.</text>
<line x1="383.8" y1="170.3" x2="392" y2="170.3" stroke="#6a6a6a" stroke-width="0.8" />
<text x="395.3" y="173.8" font-size="6.9" text-anchor="middle" font-style="italic" dominant-baseline="central">N.S.</text>
<line x1="391" y1="176.5" x2="399" y2="176.5" stroke="#6a6a6a" stroke-width="0.8" />
<text x="418.2" y="154.4" font-size="7" text-anchor="middle" dominant-baseline="central">***</text>
<line x1="411" y1="155.8" x2="426.5" y2="155.8" stroke="#6a6a6a" stroke-width="0.8" />
<text x="414.6" y="159.9" font-size="7" text-anchor="middle" dominant-baseline="central">**</text>
<line x1="411" y1="162.1" x2="418.5" y2="162.1" stroke="#6a6a6a" stroke-width="0.8" />
<text x="422.3" y="167.3" font-size="6.9" text-anchor="middle" font-style="italic" dominant-baseline="central">N.S.</text>
<line x1="418.5" y1="171" x2="426" y2="171" stroke="#6a6a6a" stroke-width="0.8" />
<text x="446.5" y="154.2" font-size="7" text-anchor="middle" dominant-baseline="central">***</text>
<line x1="438.5" y1="155.9" x2="454" y2="155.9" stroke="#6a6a6a" stroke-width="0.8" />
<text x="442" y="159.7" font-size="7" text-anchor="middle" dominant-baseline="central">**</text>
<line x1="438.5" y1="161.9" x2="445.5" y2="161.9" stroke="#6a6a6a" stroke-width="0.8" />
<text x="449.8" y="164.3" font-size="7" text-anchor="middle" dominant-baseline="central">*</text>
<line x1="445.5" y1="166.2" x2="453.5" y2="166.2" stroke="#6a6a6a" stroke-width="0.8" />
<text x="473.3" y="140.6" font-size="7" text-anchor="middle" dominant-baseline="central">***</text>
<line x1="465.8" y1="142.5" x2="481" y2="142.5" stroke="#6a6a6a" stroke-width="0.8" />
<text x="469" y="146.4" font-size="7" text-anchor="middle" dominant-baseline="central">*</text>
<line x1="465" y1="148.6" x2="473" y2="148.6" stroke="#6a6a6a" stroke-width="0.8" />
<text x="476.7" y="152.1" font-size="7" text-anchor="middle" dominant-baseline="central">*</text>
<line x1="473" y1="154" x2="481" y2="154" stroke="#6a6a6a" stroke-width="0.8" />
<text x="503.6" y="146.7" font-size="7" text-anchor="middle" dominant-baseline="central">*</text>
<line x1="499" y1="148.8" x2="507" y2="148.8" stroke="#6a6a6a" stroke-width="0.8" />
<rect x="469.4" y="194.8" width="3.2" height="3.2" fill="#3f8f3c" stroke="#1a401c" stroke-width="0.6"/>
<text transform="translate(489.65 196)" x="-14.27" y="2.13" font-size="6.2" textLength="28.25" lengthAdjust="spacingAndGlyphs">No T cells</text>
<circle cx="470.9" cy="206" r="1.3" fill="#fff" fill-opacity="0.55" stroke="#2e2e2e" stroke-width="0.9"/>
<text transform="translate(485.75 206)" x="-10.44" y="2.13" font-size="6.2" textLength="20.57" lengthAdjust="spacingAndGlyphs">Isotype</text>
<polygon points="470.9,214.56 472.5,217.44 469.3,217.44" fill="#5a1026"/>
<text transform="translate(487.7 216)" x="-12.32" y="2.13" font-size="6.2" textLength="24.44" lengthAdjust="spacingAndGlyphs">KW7.3.7</text>
<text transform="translate(326.1 263.8)" x="-4" y="3.96" font-size="11.5" fill="#111" font-weight="bold">E</text>
<line x1="352.5" y1="271" x2="352.5" y2="353" stroke="#222" stroke-width="0.9" />
<line x1="352.5" y1="353" x2="512" y2="353" stroke="#222" stroke-width="0.9" />
<line x1="349.5" y1="353" x2="352.5" y2="353" stroke="#222" stroke-width="0.7" />
<line x1="349.5" y1="337.13" x2="352.5" y2="337.13" stroke="#222" stroke-width="0.7" />
<line x1="349.5" y1="321.26" x2="352.5" y2="321.26" stroke="#222" stroke-width="0.7" />
<line x1="349.5" y1="305.39" x2="352.5" y2="305.39" stroke="#222" stroke-width="0.7" />
<line x1="349.5" y1="289.52" x2="352.5" y2="289.52" stroke="#222" stroke-width="0.7" />
<line x1="349.5" y1="273.65" x2="352.5" y2="273.65" stroke="#222" stroke-width="0.7" />
<text transform="translate(341.5 273.65)" x="-5.05" y="2.16" font-size="6.2" textLength="9.88" lengthAdjust="spacingAndGlyphs">100</text>
<text transform="translate(343.1 289.52)" x="-3.25" y="2.16" font-size="6.2" textLength="6.48" lengthAdjust="spacingAndGlyphs">80</text>
<text transform="translate(343.1 305.39)" x="-3.3" y="2.16" font-size="6.2" textLength="6.53" lengthAdjust="spacingAndGlyphs">60</text>
<text transform="translate(343.1 321.26)" x="-3.13" y="2.16" font-size="6.2" textLength="6.35" lengthAdjust="spacingAndGlyphs">40</text>
<text transform="translate(343.1 337.13)" x="-3.29" y="2.16" font-size="6.2" textLength="6.52" lengthAdjust="spacingAndGlyphs">20</text>
<text transform="translate(344.6 353)" x="-1.75" y="2.16" font-size="6.2" textLength="3.49" lengthAdjust="spacingAndGlyphs">0</text>
<line x1="352.5" y1="353" x2="352.5" y2="356" stroke="#222" stroke-width="0.7" />
<line x1="369.9" y1="353" x2="369.9" y2="355" stroke="#222" stroke-width="0.7" />
<line x1="387.3" y1="353" x2="387.3" y2="355" stroke="#222" stroke-width="0.7" />
<line x1="404.7" y1="353" x2="404.7" y2="356" stroke="#222" stroke-width="0.7" />
<line x1="422.1" y1="353" x2="422.1" y2="355" stroke="#222" stroke-width="0.7" />
<line x1="439.5" y1="353" x2="439.5" y2="355" stroke="#222" stroke-width="0.7" />
<line x1="456.9" y1="353" x2="456.9" y2="356" stroke="#222" stroke-width="0.7" />
<line x1="474.3" y1="353" x2="474.3" y2="355" stroke="#222" stroke-width="0.7" />
<line x1="491.7" y1="353" x2="491.7" y2="355" stroke="#222" stroke-width="0.7" />
<line x1="509.1" y1="353" x2="509.1" y2="356" stroke="#222" stroke-width="0.7" />
<text transform="translate(352.4 362.1)" x="-1.86" y="2.16" font-size="6.2" textLength="3.72" lengthAdjust="spacingAndGlyphs">0</text>
<text transform="translate(405 362.1)" x="-3.57" y="2.16" font-size="6.2" textLength="6.92" lengthAdjust="spacingAndGlyphs">10</text>
<text transform="translate(457.2 362.1)" x="-3.4" y="2.16" font-size="6.2" textLength="6.74" lengthAdjust="spacingAndGlyphs">20</text>
<text transform="translate(509.4 362.1)" x="-3.33" y="2.16" font-size="6.2" textLength="6.66" lengthAdjust="spacingAndGlyphs">30</text>
<text transform="translate(432 373.3)" x="-37.95" y="2.68" font-size="7.8" textLength="75.79" lengthAdjust="spacingAndGlyphs">Days post tumor injection</text>
<text transform="translate(327.9 311.6) rotate(-90)" x="-31.8" y="2.65" font-size="7.7" textLength="63.5" lengthAdjust="spacingAndGlyphs">Probability of survival</text>
<polyline points="449.07,273.65 456.9,273.65 456.9,305.39 462.12,305.39 462.12,313.32 472.56,313.32 472.56,345.06 483,345.06 483,353" fill="none" stroke="#cfcfcf" stroke-width="1" />
<polyline points="352.5,273.65 446.46,273.65 446.46,289.52 451.68,289.52 451.68,321.26 456.9,321.26 456.9,353" fill="none" stroke="#6cb855" stroke-width="1" />
<polyline points="456.9,273.65 483,273.65 483,297.45 493.44,297.45 493.44,313.32 498.66,313.32 498.66,321.26 503.88,321.26 503.88,345.06 509.1,345.06 509.1,353" fill="none" stroke="#cc2a55" stroke-width="1" />
<line x1="360" y1="323.1" x2="368.3" y2="323.1" stroke="#6cb855" stroke-width="1" />
<text transform="translate(386.05 323.1)" x="-14.17" y="2.13" font-size="6.2" textLength="28.05" lengthAdjust="spacingAndGlyphs">No T cells</text>
<line x1="360" y1="333.1" x2="368.3" y2="333.1" stroke="#cfcfcf" stroke-width="1" />
<text transform="translate(382.25 333.1)" x="-10.44" y="2.13" font-size="6.2" textLength="20.57" lengthAdjust="spacingAndGlyphs">Isotype</text>
<line x1="360" y1="343" x2="368.3" y2="343" stroke="#cc2a55" stroke-width="1" />
<text transform="translate(384.05 343)" x="-12.17" y="2.13" font-size="6.2" textLength="24.13" lengthAdjust="spacingAndGlyphs">KW7.3.7</text>
<polyline points="410.2,332.9 413.6,332.9 413.6,343.7 410.2,343.7" fill="none" stroke="#222" stroke-width="0.9" />
<text transform="translate(421.1 339.2)" x="-5.41" y="1.87" font-size="7.2" textLength="10.82" lengthAdjust="spacingAndGlyphs">****</text>
<polyline points="428,322.1 431.4,322.1 431.4,343.7 428,343.7" fill="none" stroke="#222" stroke-width="0.9" />
<text transform="translate(439.4 334.2)" x="-5.31" y="1.87" font-size="7.2" textLength="10.62" lengthAdjust="spacingAndGlyphs">****</text>
<text transform="translate(9.9 394.8)" x="-3.69" y="3.96" font-size="11.5" fill="#111" font-weight="bold">F</text>
<text transform="translate(97.7 403.6)" x="-65.49" y="2.72" font-size="7.9" textLength="131.09" lengthAdjust="spacingAndGlyphs">T cell vs. Raji among hCD45+ cells</text>
<text transform="translate(60 423.5)" x="-10.92" y="2.17" font-size="6.3" textLength="21.51" lengthAdjust="spacingAndGlyphs">Isotype</text>
<rect x="33.6" y="430.2" width="54.9" height="54.9" fill="none" stroke="#c8c8c8" stroke-width="0.6" />
<text x="29.5" y="429.8" font-size="5.8" text-anchor="end" dominant-baseline="central">10<tspan font-size="3.6" dy="-2.2">6</tspan></text>
<line x1="32.4" y1="429.8" x2="33.6" y2="429.8" stroke="#888" stroke-width="0.4" />
<text x="29.5" y="441" font-size="5.8" text-anchor="end" dominant-baseline="central">10<tspan font-size="3.6" dy="-2.2">5</tspan></text>
<line x1="32.4" y1="441" x2="33.6" y2="441" stroke="#888" stroke-width="0.4" />
<text x="29.5" y="455" font-size="5.8" text-anchor="end" dominant-baseline="central">10<tspan font-size="3.6" dy="-2.2">4</tspan></text>
<line x1="32.4" y1="455" x2="33.6" y2="455" stroke="#888" stroke-width="0.4" />
<text x="29.5" y="467.3" font-size="5.8" text-anchor="end" dominant-baseline="central">10<tspan font-size="3.6" dy="-2.2">3</tspan></text>
<line x1="32.4" y1="467.3" x2="33.6" y2="467.3" stroke="#888" stroke-width="0.4" />
<text x="29.5" y="473.2" font-size="5.8" text-anchor="end" dominant-baseline="central">0</text>
<line x1="32.4" y1="473.2" x2="33.6" y2="473.2" stroke="#888" stroke-width="0.4" />
<text x="29.5" y="480.7" font-size="5.8" text-anchor="end" dominant-baseline="central">−10<tspan font-size="3.6" dy="-2.2">3</tspan></text>
<line x1="32.4" y1="480.7" x2="33.6" y2="480.7" stroke="#888" stroke-width="0.4" />
<text x="47.7" y="492.1" font-size="5.8" text-anchor="middle" dominant-baseline="central">0</text>
<line x1="47.7" y1="485.1" x2="47.7" y2="486.3" stroke="#888" stroke-width="0.4" />
<text x="65.4" y="492.1" font-size="5.8" text-anchor="middle" dominant-baseline="central">10<tspan font-size="3.6" dy="-2.2">4</tspan></text>
<line x1="65.4" y1="485.1" x2="65.4" y2="486.3" stroke="#888" stroke-width="0.4" />
<text x="77" y="492.1" font-size="5.8" text-anchor="middle" dominant-baseline="central">10<tspan font-size="3.6" dy="-2.2">5</tspan></text>
<line x1="77" y1="485.1" x2="77" y2="486.3" stroke="#888" stroke-width="0.4" />
<text x="86.5" y="492.1" font-size="5.8" text-anchor="middle" dominant-baseline="central">10<tspan font-size="3.6" dy="-2.2">6</tspan></text>
<line x1="86.5" y1="485.1" x2="86.5" y2="486.3" stroke="#888" stroke-width="0.4" />
<g transform="rotate(0 49 456)"><ellipse cx="49" cy="456" rx="7" ry="9" fill="rgb(120, 120, 120)" fill-opacity="0.09350000000000001" stroke="#4a4a4a" stroke-opacity="0.37400000000000005" stroke-width="0.4"/><ellipse cx="49" cy="456" rx="5.6" ry="7.2" fill="rgb(120, 120, 120)" fill-opacity="0.09350000000000001" stroke="#4a4a4a" stroke-opacity="0.37400000000000005" stroke-width="0.4"/><ellipse cx="49" cy="456" rx="4.48" ry="5.76" fill="rgb(120, 120, 120)" fill-opacity="0.09350000000000001" stroke="#4a4a4a" stroke-opacity="0.37400000000000005" stroke-width="0.4"/><ellipse cx="49" cy="456" rx="3.58" ry="4.61" fill="rgb(120, 120, 120)" fill-opacity="0.09350000000000001" stroke="#4a4a4a" stroke-opacity="0.37400000000000005" stroke-width="0.4"/><ellipse cx="49" cy="456" rx="2.87" ry="3.69" fill="rgb(120, 120, 120)" fill-opacity="0.09350000000000001" stroke="#4a4a4a" stroke-opacity="0.37400000000000005" stroke-width="0.4"/><ellipse cx="49" cy="456" rx="2.29" ry="2.95" fill="rgb(120, 120, 120)" fill-opacity="0.09350000000000001" stroke="#4a4a4a" stroke-opacity="0.37400000000000005" stroke-width="0.4"/><ellipse cx="49" cy="456" rx="1.84" ry="2.36" fill="rgb(120, 120, 120)" fill-opacity="0.09350000000000001" stroke="#4a4a4a" stroke-opacity="0.37400000000000005" stroke-width="0.4"/><ellipse cx="49" cy="456" rx="1.47" ry="1.89" fill="#fff"/></g>
<g transform="rotate(0 66 468.5)"><ellipse cx="66" cy="468.5" rx="4.2" ry="4.8" fill="rgb(170, 170, 170)" fill-opacity="0.0825" stroke="#4a4a4a" stroke-opacity="0.33" stroke-width="0.4"/><ellipse cx="66" cy="468.5" rx="3.28" ry="3.74" fill="rgb(170, 170, 170)" fill-opacity="0.0825" stroke="#4a4a4a" stroke-opacity="0.33" stroke-width="0.4"/><ellipse cx="66" cy="468.5" rx="2.56" ry="2.92" fill="rgb(170, 170, 170)" fill-opacity="0.0825" stroke="#4a4a4a" stroke-opacity="0.33" stroke-width="0.4"/><ellipse cx="66" cy="468.5" rx="1.99" ry="2.28" fill="rgb(170, 170, 170)" fill-opacity="0.0825" stroke="#4a4a4a" stroke-opacity="0.33" stroke-width="0.4"/><ellipse cx="66" cy="468.5" rx="1.55" ry="1.78" fill="#fff"/></g>
<rect x="40.4" y="445" width="16.9" height="21" fill="none" stroke="#555" stroke-width="0.6" />
<rect x="58.7" y="459.4" width="15" height="17.9" fill="none" stroke="#555" stroke-width="0.6" />
<text transform="translate(49.3 438.8)" x="-6.62" y="2.16" font-size="6.2" textLength="13.22" lengthAdjust="spacingAndGlyphs">90.6</text>
<text transform="translate(80.3 467)" x="-6.28" y="2.16" font-size="6.2" textLength="12.61" lengthAdjust="spacingAndGlyphs">8.12</text>
<circle cx="32.8" cy="473.2" r="0.8" fill="#111"/><circle cx="47.2" cy="485.3" r="0.8" fill="#111"/>
<polyline points="15.9,463.2 15.9,496.3 55,496.3" fill="none" stroke="#333" stroke-width="0.9" />
<text transform="translate(10.3 473.5) rotate(-90)" x="-22.39" y="2.65" font-size="7.7" textLength="45.06" lengthAdjust="spacingAndGlyphs">Tumor ZsGreen</text>
<text transform="translate(35.9 502.8)" x="-15.42" y="2.61" font-size="7.6" textLength="30.76" lengthAdjust="spacingAndGlyphs">CD3 / APC</text>
<text transform="translate(134.6 423.5)" x="-12.32" y="2.17" font-size="6.3" textLength="24.44" lengthAdjust="spacingAndGlyphs">KW7.3.7</text>
<rect x="107.7" y="430.2" width="55.2" height="54.9" fill="none" stroke="#c8c8c8" stroke-width="0.6" />
<text x="103.6" y="429.8" font-size="5.8" text-anchor="end" dominant-baseline="central">10<tspan font-size="3.6" dy="-2.2">6</tspan></text>
<line x1="106.5" y1="429.8" x2="107.7" y2="429.8" stroke="#888" stroke-width="0.4" />
<text x="103.6" y="441" font-size="5.8" text-anchor="end" dominant-baseline="central">10<tspan font-size="3.6" dy="-2.2">5</tspan></text>
<line x1="106.5" y1="441" x2="107.7" y2="441" stroke="#888" stroke-width="0.4" />
<text x="103.6" y="455" font-size="5.8" text-anchor="end" dominant-baseline="central">10<tspan font-size="3.6" dy="-2.2">4</tspan></text>
<line x1="106.5" y1="455" x2="107.7" y2="455" stroke="#888" stroke-width="0.4" />
<text x="103.6" y="467.3" font-size="5.8" text-anchor="end" dominant-baseline="central">10<tspan font-size="3.6" dy="-2.2">3</tspan></text>
<line x1="106.5" y1="467.3" x2="107.7" y2="467.3" stroke="#888" stroke-width="0.4" />
<text x="103.6" y="473.2" font-size="5.8" text-anchor="end" dominant-baseline="central">0</text>
<line x1="106.5" y1="473.2" x2="107.7" y2="473.2" stroke="#888" stroke-width="0.4" />
<text x="103.6" y="480.7" font-size="5.8" text-anchor="end" dominant-baseline="central">−10<tspan font-size="3.6" dy="-2.2">3</tspan></text>
<line x1="106.5" y1="480.7" x2="107.7" y2="480.7" stroke="#888" stroke-width="0.4" />
<text x="122.9" y="492.1" font-size="5.8" text-anchor="middle" dominant-baseline="central">0</text>
<line x1="122.9" y1="485.1" x2="122.9" y2="486.3" stroke="#888" stroke-width="0.4" />
<text x="140.8" y="492.1" font-size="5.8" text-anchor="middle" dominant-baseline="central">10<tspan font-size="3.6" dy="-2.2">4</tspan></text>
<line x1="140.8" y1="485.1" x2="140.8" y2="486.3" stroke="#888" stroke-width="0.4" />
<text x="151.3" y="492.1" font-size="5.8" text-anchor="middle" dominant-baseline="central">10<tspan font-size="3.6" dy="-2.2">5</tspan></text>
<line x1="151.3" y1="485.1" x2="151.3" y2="486.3" stroke="#888" stroke-width="0.4" />
<text x="162" y="492.1" font-size="5.8" text-anchor="middle" dominant-baseline="central">10<tspan font-size="3.6" dy="-2.2">6</tspan></text>
<line x1="162" y1="485.1" x2="162" y2="486.3" stroke="#888" stroke-width="0.4" />
<g transform="rotate(0 123.5 456)"><ellipse cx="123.5" cy="456" rx="7.5" ry="9" fill="rgb(120, 120, 120)" fill-opacity="0.09350000000000001" stroke="#4a4a4a" stroke-opacity="0.37400000000000005" stroke-width="0.4"/><ellipse cx="123.5" cy="456" rx="6" ry="7.2" fill="rgb(120, 120, 120)" fill-opacity="0.09350000000000001" stroke="#4a4a4a" stroke-opacity="0.37400000000000005" stroke-width="0.4"/><ellipse cx="123.5" cy="456" rx="4.8" ry="5.76" fill="rgb(120, 120, 120)" fill-opacity="0.09350000000000001" stroke="#4a4a4a" stroke-opacity="0.37400000000000005" stroke-width="0.4"/><ellipse cx="123.5" cy="456" rx="3.84" ry="4.61" fill="rgb(120, 120, 120)" fill-opacity="0.09350000000000001" stroke="#4a4a4a" stroke-opacity="0.37400000000000005" stroke-width="0.4"/><ellipse cx="123.5" cy="456" rx="3.07" ry="3.69" fill="rgb(120, 120, 120)" fill-opacity="0.09350000000000001" stroke="#4a4a4a" stroke-opacity="0.37400000000000005" stroke-width="0.4"/><ellipse cx="123.5" cy="456" rx="2.46" ry="2.95" fill="rgb(120, 120, 120)" fill-opacity="0.09350000000000001" stroke="#4a4a4a" stroke-opacity="0.37400000000000005" stroke-width="0.4"/><ellipse cx="123.5" cy="456" rx="1.97" ry="2.36" fill="rgb(120, 120, 120)" fill-opacity="0.09350000000000001" stroke="#4a4a4a" stroke-opacity="0.37400000000000005" stroke-width="0.4"/><ellipse cx="123.5" cy="456" rx="1.57" ry="1.89" fill="#fff"/></g>
<g transform="rotate(0 140 468)"><ellipse cx="140" cy="468" rx="5.5" ry="7" fill="rgb(150, 150, 150)" fill-opacity="0.08800000000000001" stroke="#4a4a4a" stroke-opacity="0.35200000000000004" stroke-width="0.4"/><ellipse cx="140" cy="468" rx="4.29" ry="5.46" fill="rgb(150, 150, 150)" fill-opacity="0.08800000000000001" stroke="#4a4a4a" stroke-opacity="0.35200000000000004" stroke-width="0.4"/><ellipse cx="140" cy="468" rx="3.35" ry="4.26" fill="rgb(150, 150, 150)" fill-opacity="0.08800000000000001" stroke="#4a4a4a" stroke-opacity="0.35200000000000004" stroke-width="0.4"/><ellipse cx="140" cy="468" rx="2.61" ry="3.32" fill="rgb(150, 150, 150)" fill-opacity="0.08800000000000001" stroke="#4a4a4a" stroke-opacity="0.35200000000000004" stroke-width="0.4"/><ellipse cx="140" cy="468" rx="2.04" ry="2.59" fill="rgb(150, 150, 150)" fill-opacity="0.08800000000000001" stroke="#4a4a4a" stroke-opacity="0.35200000000000004" stroke-width="0.4"/><ellipse cx="140" cy="468" rx="1.59" ry="2.02" fill="#fff"/></g>
<rect x="114.8" y="445.2" width="17.9" height="21.5" fill="none" stroke="#555" stroke-width="0.6" />
<rect x="132.7" y="459" width="14.8" height="18.3" fill="none" stroke="#555" stroke-width="0.6" />
<text transform="translate(123.5 439.8)" x="-6.33" y="2.16" font-size="6.2" textLength="12.64" lengthAdjust="spacingAndGlyphs">76.9</text>
<text transform="translate(154.75 467.7)" x="-6.38" y="2.16" font-size="6.2" textLength="12.7" lengthAdjust="spacingAndGlyphs">21.5</text>
<circle cx="107.4" cy="473.2" r="0.8" fill="#111"/><circle cx="122" cy="485.3" r="0.8" fill="#111"/>
<text transform="translate(182.9 395)" x="-4.35" y="3.96" font-size="11.5" fill="#111" font-weight="bold">G</text>
<text transform="translate(228.7 393.5)" x="-18.28" y="2.68" font-size="7.8" textLength="36.74" lengthAdjust="spacingAndGlyphs">Total CD3</text>
<text transform="translate(228.3 404)" x="-10.67" y="1.97" font-size="7.6" textLength="21.03" lengthAdjust="spacingAndGlyphs">count</text>
<line x1="213.9" y1="416.4" x2="213.9" y2="504.4" stroke="#222" stroke-width="1" />
<line x1="211.3" y1="419" x2="213.9" y2="419" stroke="#222" stroke-width="0.8" />
<text x="208.4" y="419.2" font-size="5.9" text-anchor="end" dominant-baseline="central">1×10<tspan font-size="3.66" dy="-2.24">5</tspan></text>
<line x1="211.3" y1="436.2" x2="213.9" y2="436.2" stroke="#222" stroke-width="0.8" />
<text x="208.4" y="436.4" font-size="5.9" text-anchor="end" dominant-baseline="central">8×10<tspan font-size="3.66" dy="-2.24">4</tspan></text>
<line x1="211.3" y1="453.5" x2="213.9" y2="453.5" stroke="#222" stroke-width="0.8" />
<text x="208.4" y="453.7" font-size="5.9" text-anchor="end" dominant-baseline="central">6×10<tspan font-size="3.66" dy="-2.24">4</tspan></text>
<line x1="211.3" y1="470.5" x2="213.9" y2="470.5" stroke="#222" stroke-width="0.8" />
<text x="208.4" y="470.7" font-size="5.9" text-anchor="end" dominant-baseline="central">4×10<tspan font-size="3.66" dy="-2.24">4</tspan></text>
<line x1="211.3" y1="487.5" x2="213.9" y2="487.5" stroke="#222" stroke-width="0.8" />
<text x="208.4" y="487.7" font-size="5.9" text-anchor="end" dominant-baseline="central">2×10<tspan font-size="3.66" dy="-2.24">4</tspan></text>
<line x1="211.3" y1="504.4" x2="213.9" y2="504.4" stroke="#222" stroke-width="0.8" />
<text x="208.4" y="504.6" font-size="5.9" text-anchor="end" dominant-baseline="central">0</text>
<line x1="213.4" y1="504.4" x2="246" y2="504.4" stroke="#222" stroke-width="1" />
<rect x="219.3" y="488.5" width="8.4" height="15.9" fill="#c8c8c8" />
<line x1="223.4" y1="484.7" x2="223.4" y2="488.5" stroke="#444" stroke-width="0.7" />
<line x1="222" y1="484.7" x2="224.8" y2="484.7" stroke="#444" stroke-width="0.7" />
<circle cx="222.7" cy="485.7" r="1.25" fill="#111"/>
<circle cx="226.6" cy="485.4" r="1.25" fill="#111"/>
<circle cx="221.2" cy="490.8" r="1.25" fill="#111"/>
<circle cx="225.3" cy="490.1" r="1.25" fill="#111"/>
<circle cx="223.4" cy="487" r="1.25" fill="#111"/>
<rect x="232.8" y="462.1" width="8.6" height="42.3" fill="#f39019" />
<line x1="236.7" y1="441.4" x2="236.7" y2="462.1" stroke="#444" stroke-width="0.7" />
<line x1="235.3" y1="441.4" x2="238.1" y2="441.4" stroke="#444" stroke-width="0.7" />
<circle cx="236.7" cy="443.8" r="1.25" fill="#111"/>
<circle cx="236.7" cy="446.3" r="1.25" fill="#111"/>
<circle cx="236.7" cy="454.4" r="1.25" fill="#111"/>
<circle cx="236.7" cy="472.7" r="1.25" fill="#111"/>
<circle cx="236.7" cy="491.8" r="1.25" fill="#111"/>
<line x1="223.4" y1="504.4" x2="223.4" y2="506.6" stroke="#222" stroke-width="0.7" />
<line x1="237.1" y1="504.4" x2="237.1" y2="506.6" stroke="#222" stroke-width="0.7" />
<text x="229.3" y="421.4" font-size="6.4" text-anchor="middle" dominant-baseline="central">*</text>
<line x1="222.6" y1="431.3" x2="237" y2="431.3" stroke="#6a6a6a" stroke-width="0.8" />
<text transform="translate(183.4 450.6) rotate(-90)" x="-27.15" y="2.65" font-size="7.7" textLength="54.26" lengthAdjust="spacingAndGlyphs">Total CD3 number</text>
<text transform="translate(217.2 516.8) rotate(-50)" x="-10.6" y="2.13" font-size="6.2" textLength="20.89" lengthAdjust="spacingAndGlyphs">Isotype</text>
<text transform="translate(230.8 519) rotate(-50)" x="-11.49" y="2.13" font-size="6.2" textLength="22.79" lengthAdjust="spacingAndGlyphs">KW7.3.7</text>
<text transform="translate(264 394.5)" x="-4.15" y="3.96" font-size="11.5" fill="#111" font-weight="bold">H</text>
<text transform="translate(352.3 403.5)" x="-27.94" y="2.68" font-size="7.8" textLength="56" lengthAdjust="spacingAndGlyphs">CD4 activation</text>
<line x1="294.7" y1="416.5" x2="294.7" y2="504.1" stroke="#222" stroke-width="1" />
<line x1="292.1" y1="418.7" x2="294.7" y2="418.7" stroke="#222" stroke-width="0.8" />
<text x="289.4" y="418.9" font-size="5.9" text-anchor="end" dominant-baseline="central">3×10<tspan font-size="3.66" dy="-2.24">4</tspan></text>
<line x1="292.1" y1="447.4" x2="294.7" y2="447.4" stroke="#222" stroke-width="0.8" />
<text x="289.4" y="447.6" font-size="5.9" text-anchor="end" dominant-baseline="central">2×10<tspan font-size="3.66" dy="-2.24">4</tspan></text>
<line x1="292.1" y1="475.9" x2="294.7" y2="475.9" stroke="#222" stroke-width="0.8" />
<text x="289.4" y="476.1" font-size="5.9" text-anchor="end" dominant-baseline="central">1×10<tspan font-size="3.66" dy="-2.24">4</tspan></text>
<line x1="292.1" y1="504.1" x2="294.7" y2="504.1" stroke="#222" stroke-width="0.8" />
<text x="289.4" y="504.3" font-size="5.9" text-anchor="end" dominant-baseline="central">0</text>
<line x1="294.2" y1="504.1" x2="348.5" y2="504.1" stroke="#222" stroke-width="1" />
<rect x="299.5" y="486.9" width="9.5" height="17.2" fill="#c8c8c8" />
<circle cx="301.3" cy="488" r="1.25" fill="#111"/>
<circle cx="303.3" cy="488" r="1.25" fill="#111"/>
<circle cx="305.3" cy="488" r="1.25" fill="#111"/>
<circle cx="307.3" cy="488" r="1.25" fill="#111"/>
<circle cx="304.5" cy="493.4" r="1.25" fill="#111"/>
<rect x="309.9" y="469.4" width="8.7" height="34.7" fill="#f39019" />
<line x1="313.9" y1="445.7" x2="313.9" y2="469.4" stroke="#444" stroke-width="0.7" />
<line x1="312.5" y1="445.7" x2="315.3" y2="445.7" stroke="#444" stroke-width="0.7" />
<rect x="312.7" y="429" width="2.4" height="2.4" fill="#111"/>
<rect x="309.7" y="471.6" width="2.4" height="2.4" fill="#111"/>
<rect x="312.7" y="472.9" width="2.4" height="2.4" fill="#111"/>
<rect x="316.4" y="471.6" width="2.4" height="2.4" fill="#111"/>
<rect x="312.7" y="491.8" width="2.4" height="2.4" fill="#111"/>
<rect x="327.8" y="495" width="9.4" height="9.1" fill="#c8c8c8" />
<circle cx="329.5" cy="497.5" r="1.25" fill="#111"/>
<circle cx="331.5" cy="496" r="1.25" fill="#111"/>
<circle cx="333.5" cy="497" r="1.25" fill="#111"/>
<circle cx="335.5" cy="496" r="1.25" fill="#111"/>
<circle cx="330.5" cy="499" r="1.25" fill="#111"/>
<circle cx="334.5" cy="499" r="1.25" fill="#111"/>
<rect x="338.2" y="482.2" width="8.4" height="21.9" fill="#f39019" />
<line x1="342.6" y1="468.7" x2="342.6" y2="482.2" stroke="#444" stroke-width="0.7" />
<line x1="341.2" y1="468.7" x2="344" y2="468.7" stroke="#444" stroke-width="0.7" />
<rect x="341.4" y="463.9" width="2.4" height="2.4" fill="#111"/>
<rect x="341.4" y="472.3" width="2.4" height="2.4" fill="#111"/>
<rect x="341.4" y="483.7" width="2.4" height="2.4" fill="#111"/>
<rect x="341.4" y="487.3" width="2.4" height="2.4" fill="#111"/>
<rect x="341.4" y="496.5" width="2.4" height="2.4" fill="#111"/>
<line x1="304.5" y1="504.1" x2="304.5" y2="506.3" stroke="#222" stroke-width="0.7" />
<line x1="313.9" y1="504.1" x2="313.9" y2="506.3" stroke="#222" stroke-width="0.7" />
<line x1="332.4" y1="504.1" x2="332.4" y2="506.3" stroke="#222" stroke-width="0.7" />
<line x1="342.6" y1="504.1" x2="342.6" y2="506.3" stroke="#222" stroke-width="0.7" />
<text x="309.05" y="417.8" font-size="6.2" text-anchor="middle" dominant-baseline="central">0.09</text>
<line x1="303.2" y1="421.4" x2="314.9" y2="421.4" stroke="#6a6a6a" stroke-width="0.8" />
<text x="337.5" y="452.4" font-size="6.4" text-anchor="middle" dominant-baseline="central">*</text>
<line x1="332.1" y1="455.5" x2="342.6" y2="455.5" stroke="#6a6a6a" stroke-width="0.8" />
<text transform="translate(309.1 513.8)" x="-8.43" y="2.2" font-size="6.4" textLength="16.81" lengthAdjust="spacingAndGlyphs">CD25</text>
<text transform="translate(337.15 513.8)" x="-8.07" y="2.2" font-size="6.4" textLength="16.12" lengthAdjust="spacingAndGlyphs">CD69</text>
<line x1="381" y1="416.5" x2="381" y2="504.1" stroke="#222" stroke-width="1" />
<line x1="378.4" y1="418.3" x2="381" y2="418.3" stroke="#222" stroke-width="0.8" />
<text x="375.9" y="418.5" font-size="5.9" text-anchor="end" dominant-baseline="central">6×10<tspan font-size="3.66" dy="-2.24">4</tspan></text>
<line x1="378.4" y1="447.5" x2="381" y2="447.5" stroke="#222" stroke-width="0.8" />
<text x="375.9" y="447.7" font-size="5.9" text-anchor="end" dominant-baseline="central">4×10<tspan font-size="3.66" dy="-2.24">4</tspan></text>
<line x1="378.4" y1="475.8" x2="381" y2="475.8" stroke="#222" stroke-width="0.8" />
<text x="375.9" y="476" font-size="5.9" text-anchor="end" dominant-baseline="central">2×10<tspan font-size="3.66" dy="-2.24">4</tspan></text>
<line x1="378.4" y1="504.1" x2="381" y2="504.1" stroke="#222" stroke-width="0.8" />
<text x="375.9" y="504.3" font-size="5.9" text-anchor="end" dominant-baseline="central">0</text>
<line x1="380.5" y1="504.1" x2="409.5" y2="504.1" stroke="#222" stroke-width="1" />
<rect x="385.9" y="490" width="9.4" height="14.1" fill="#c8c8c8" />
<line x1="390.6" y1="486" x2="390.6" y2="490" stroke="#444" stroke-width="0.7" />
<line x1="389.2" y1="486" x2="392" y2="486" stroke="#444" stroke-width="0.7" />
<circle cx="388" cy="490" r="1.25" fill="#111"/>
<circle cx="390" cy="488" r="1.25" fill="#111"/>
<circle cx="392" cy="487.5" r="1.25" fill="#111"/>
<circle cx="394" cy="488.5" r="1.25" fill="#111"/>
<circle cx="391" cy="492" r="1.25" fill="#111"/>
<rect x="396.3" y="451.8" width="8.3" height="52.3" fill="#f39019" />
<line x1="400.3" y1="424.4" x2="400.3" y2="451.8" stroke="#444" stroke-width="0.7" />
<line x1="398.9" y1="424.4" x2="401.7" y2="424.4" stroke="#444" stroke-width="0.7" />
<rect x="399.1" y="424.3" width="2.4" height="2.4" fill="#111"/>
<rect x="399.1" y="429.8" width="2.4" height="2.4" fill="#111"/>
<rect x="399.1" y="444" width="2.4" height="2.4" fill="#111"/>
<rect x="399.1" y="464.2" width="2.4" height="2.4" fill="#111"/>
<rect x="399.1" y="488.8" width="2.4" height="2.4" fill="#111"/>
<line x1="390.6" y1="504.1" x2="390.6" y2="506.3" stroke="#222" stroke-width="0.7" />
<line x1="400.3" y1="504.1" x2="400.3" y2="506.3" stroke="#222" stroke-width="0.7" />
<text x="393.6" y="415.4" font-size="6.4" text-anchor="middle" dominant-baseline="central">*</text>
<line x1="388.4" y1="418.3" x2="398.8" y2="418.3" stroke="#6a6a6a" stroke-width="0.8" />
<text transform="translate(395.35 513.6)" x="-11.55" y="2.2" font-size="6.4" textLength="22.89" lengthAdjust="spacingAndGlyphs">HLA-DR</text>
<text transform="translate(263.9 460) rotate(-90)" x="-26.55" y="2.65" font-size="7.7" textLength="53.18" lengthAdjust="spacingAndGlyphs">Total positive cells</text>
<rect x="329.4" y="521" width="5.6" height="5.6" fill="#c8c8c8" />
<text transform="translate(348.7 523.8)" x="-10.7" y="2.2" font-size="6.4" textLength="21.09" lengthAdjust="spacingAndGlyphs">Isotype</text>
<rect x="365.1" y="521.1" width="6" height="5.2" fill="#f39019" />
<text transform="translate(386.45 523.8)" x="-11.96" y="2.2" font-size="6.4" textLength="23.72" lengthAdjust="spacingAndGlyphs">KW7.3.7</text>
<text transform="translate(423.9 394.7)" x="-1.6" y="3.96" font-size="11.5" fill="#111" font-weight="bold">I</text>
<text transform="translate(485.7 403.2)" x="-27.63" y="2.68" font-size="7.8" textLength="55.14" lengthAdjust="spacingAndGlyphs">CD4 cytokines</text>
<line x1="457.5" y1="416.5" x2="457.5" y2="451.8" stroke="#222" stroke-width="1" />
<line x1="457.5" y1="457.6" x2="457.5" y2="504.2" stroke="#222" stroke-width="1" />
<line x1="455.7" y1="453.8" x2="459.3" y2="450.6" stroke="#222" stroke-width="0.8" />
<line x1="455.7" y1="458.6" x2="459.3" y2="455.4" stroke="#222" stroke-width="0.8" />
<line x1="454.9" y1="419.1" x2="457.5" y2="419.1" stroke="#222" stroke-width="0.8" />
<text x="453" y="419.3" font-size="5.9" text-anchor="end" dominant-baseline="central">3×10<tspan font-size="3.66" dy="-2.24">4</tspan></text>
<line x1="454.9" y1="431.8" x2="457.5" y2="431.8" stroke="#222" stroke-width="0.8" />
<text x="453" y="432" font-size="5.9" text-anchor="end" dominant-baseline="central">2×10<tspan font-size="3.66" dy="-2.24">4</tspan></text>
<line x1="454.9" y1="444.6" x2="457.5" y2="444.6" stroke="#222" stroke-width="0.8" />
<text x="453" y="444.8" font-size="5.9" text-anchor="end" dominant-baseline="central">1×10<tspan font-size="3.66" dy="-2.24">4</tspan></text>
<text x="453" y="455.8" font-size="5.9" text-anchor="end" dominant-baseline="central">5×10<tspan font-size="3.66" dy="-2.24">3</tspan></text>
<line x1="454.9" y1="466.3" x2="457.5" y2="466.3" stroke="#222" stroke-width="0.8" />
<text x="453" y="466.5" font-size="5.9" text-anchor="end" dominant-baseline="central">4×10<tspan font-size="3.66" dy="-2.24">3</tspan></text>
<line x1="454.9" y1="476.2" x2="457.5" y2="476.2" stroke="#222" stroke-width="0.8" />
<text x="453" y="476.4" font-size="5.9" text-anchor="end" dominant-baseline="central">3×10<tspan font-size="3.66" dy="-2.24">3</tspan></text>
<line x1="454.9" y1="485.7" x2="457.5" y2="485.7" stroke="#222" stroke-width="0.8" />
<text x="453" y="485.9" font-size="5.9" text-anchor="end" dominant-baseline="central">2×10<tspan font-size="3.66" dy="-2.24">3</tspan></text>
<line x1="454.9" y1="495" x2="457.5" y2="495" stroke="#222" stroke-width="0.8" />
<text x="453" y="495.2" font-size="5.9" text-anchor="end" dominant-baseline="central">1×10<tspan font-size="3.66" dy="-2.24">3</tspan></text>
<line x1="454.9" y1="504.2" x2="457.5" y2="504.2" stroke="#222" stroke-width="0.8" />
<text x="453" y="504.4" font-size="5.9" text-anchor="end" dominant-baseline="central">0</text>
<line x1="457" y1="504.2" x2="512" y2="504.2" stroke="#222" stroke-width="1" />
<rect x="462.3" y="443.2" width="8.6" height="7.3" fill="#c8c8c8" />
<rect x="462.3" y="456.9" width="8.6" height="47.3" fill="#c8c8c8" />
<rect x="472" y="434.6" width="8.9" height="15.9" fill="#f39019" />
<rect x="472" y="456.9" width="8.9" height="47.3" fill="#f39019" />
<line x1="476.4" y1="423.3" x2="476.4" y2="434.6" stroke="#444" stroke-width="0.7" />
<line x1="475" y1="423.3" x2="477.8" y2="423.3" stroke="#444" stroke-width="0.7" />
<circle cx="463.8" cy="440" r="1.25" fill="#111"/>
<circle cx="465.8" cy="440.8" r="1.25" fill="#111"/>
<circle cx="467.8" cy="441.5" r="1.25" fill="#111"/>
<circle cx="469.8" cy="441" r="1.25" fill="#111"/>
<circle cx="464.5" cy="442.4" r="1.25" fill="#111"/>
<circle cx="468.5" cy="442.6" r="1.25" fill="#111"/>
<rect x="472.4" y="423.7" width="2.4" height="2.4" fill="#111"/>
<rect x="478.4" y="425" width="2.4" height="2.4" fill="#111"/>
<rect x="472.4" y="427.4" width="2.4" height="2.4" fill="#111"/>
<rect x="474.8" y="440.4" width="2.4" height="2.4" fill="#111"/>
<rect x="474.8" y="448.4" width="2.4" height="2.4" fill="#111"/>
<rect x="490.3" y="489" width="8.4" height="15.2" fill="#c8c8c8" />
<circle cx="492" cy="487.3" r="1.25" fill="#111"/>
<circle cx="494" cy="487.3" r="1.25" fill="#111"/>
<circle cx="496" cy="487.3" r="1.25" fill="#111"/>
<circle cx="498" cy="487.6" r="1.25" fill="#111"/>
<circle cx="494.3" cy="495.8" r="1.25" fill="#111"/>
<rect x="500" y="475.5" width="8.7" height="28.7" fill="#f39019" />
<line x1="504.4" y1="465.3" x2="504.4" y2="475.5" stroke="#444" stroke-width="0.7" />
<line x1="503" y1="465.3" x2="505.8" y2="465.3" stroke="#444" stroke-width="0.7" />
<rect x="503.2" y="458.2" width="2.4" height="2.4" fill="#111"/>
<rect x="499.9" y="474.8" width="2.4" height="2.4" fill="#111"/>
<rect x="506.4" y="474.8" width="2.4" height="2.4" fill="#111"/>
<rect x="503.2" y="478.7" width="2.4" height="2.4" fill="#111"/>
<rect x="503.2" y="486.1" width="2.4" height="2.4" fill="#111"/>
<line x1="466.7" y1="504.2" x2="466.7" y2="506.4" stroke="#222" stroke-width="0.7" />
<line x1="476.4" y1="504.2" x2="476.4" y2="506.4" stroke="#222" stroke-width="0.7" />
<line x1="494.2" y1="504.2" x2="494.2" y2="506.4" stroke="#222" stroke-width="0.7" />
<line x1="504.4" y1="504.2" x2="504.4" y2="506.4" stroke="#222" stroke-width="0.7" />
<text x="470.9" y="414.9" font-size="6.2" text-anchor="middle" dominant-baseline="central">0.19</text>
<line x1="465" y1="417.8" x2="477" y2="417.8" stroke="#6a6a6a" stroke-width="0.8" />
<text x="498.7" y="452.6" font-size="6.4" text-anchor="middle" dominant-baseline="central">*</text>
<line x1="493.8" y1="455.6" x2="503.5" y2="455.6" stroke="#6a6a6a" stroke-width="0.8" />
<text transform="translate(471.2 512.7)" x="-6.66" y="2.2" font-size="6.4" textLength="12.78" lengthAdjust="spacingAndGlyphs">IFNγ</text>
<text transform="translate(499.25 512.7)" x="-8.4" y="2.2" font-size="6.4" textLength="16.84" lengthAdjust="spacingAndGlyphs">TNFα</text>
<text transform="translate(427.9 459.7) rotate(-90)" x="-26.9" y="2.65" font-size="7.7" textLength="53.89" lengthAdjust="spacingAndGlyphs">Total positive cells</text>
<text transform="translate(70.4 547)" x="-2.89" y="3.96" font-size="11.5" fill="#111" font-weight="bold">J</text>
<text transform="translate(168.5 556.6)" x="-28.75" y="2.68" font-size="7.8" textLength="57.63" lengthAdjust="spacingAndGlyphs">CD8 activation</text>
<line x1="108.7" y1="570.4" x2="108.7" y2="661" stroke="#222" stroke-width="1" />
<line x1="106.1" y1="573" x2="108.7" y2="573" stroke="#222" stroke-width="0.8" />
<text x="103.4" y="573.2" font-size="5.9" text-anchor="end" dominant-baseline="central">2.5×10<tspan font-size="3.66" dy="-2.24">3</tspan></text>
<line x1="106.1" y1="590.6" x2="108.7" y2="590.6" stroke="#222" stroke-width="0.8" />
<text x="103.4" y="590.8" font-size="5.9" text-anchor="end" dominant-baseline="central">2×10<tspan font-size="3.66" dy="-2.24">3</tspan></text>
<line x1="106.1" y1="608.2" x2="108.7" y2="608.2" stroke="#222" stroke-width="0.8" />
<text x="103.4" y="608.4" font-size="5.9" text-anchor="end" dominant-baseline="central">1.5×10<tspan font-size="3.66" dy="-2.24">3</tspan></text>
<line x1="106.1" y1="625.8" x2="108.7" y2="625.8" stroke="#222" stroke-width="0.8" />
<text x="103.4" y="626" font-size="5.9" text-anchor="end" dominant-baseline="central">1×10<tspan font-size="3.66" dy="-2.24">3</tspan></text>
<line x1="106.1" y1="643.5" x2="108.7" y2="643.5" stroke="#222" stroke-width="0.8" />
<text x="103.4" y="643.7" font-size="5.9" text-anchor="end" dominant-baseline="central">5×10<tspan font-size="3.66" dy="-2.24">2</tspan></text>
<line x1="106.1" y1="661" x2="108.7" y2="661" stroke="#222" stroke-width="0.8" />
<text x="103.4" y="661.2" font-size="5.9" text-anchor="end" dominant-baseline="central">0</text>
<line x1="108.2" y1="661" x2="166.6" y2="661" stroke="#222" stroke-width="1" />
<rect x="114.1" y="647.3" width="8.1" height="13.7" fill="#c8c8c8" />
<line x1="118.2" y1="640.3" x2="118.2" y2="647.3" stroke="#444" stroke-width="0.7" />
<line x1="116.8" y1="640.3" x2="119.6" y2="640.3" stroke="#444" stroke-width="0.7" />
<circle cx="118.2" cy="636.8" r="1.25" fill="#111"/>
<circle cx="114.5" cy="646.9" r="1.25" fill="#111"/>
<circle cx="121.5" cy="644.3" r="1.25" fill="#111"/>
<circle cx="114.5" cy="653" r="1.25" fill="#111"/>
<circle cx="121.5" cy="652.4" r="1.25" fill="#111"/>
<rect x="124.2" y="628.5" width="8.8" height="32.5" fill="#2b9fda" />
<line x1="128.3" y1="605.5" x2="128.3" y2="628.5" stroke="#444" stroke-width="0.7" />
<line x1="126.9" y1="605.5" x2="129.7" y2="605.5" stroke="#444" stroke-width="0.7" />
<rect x="127.1" y="590.7" width="2.4" height="2.4" fill="#111"/>
<rect x="124.1" y="629.3" width="2.4" height="2.4" fill="#111"/>
<rect x="130.4" y="628.3" width="2.4" height="2.4" fill="#111"/>
<rect x="127.1" y="634" width="2.4" height="2.4" fill="#111"/>
<rect x="127.1" y="653.5" width="2.4" height="2.4" fill="#111"/>
<rect x="143.1" y="643.9" width="8.7" height="17.1" fill="#c8c8c8" />
<line x1="147.1" y1="636.5" x2="147.1" y2="643.9" stroke="#444" stroke-width="0.7" />
<line x1="145.7" y1="636.5" x2="148.5" y2="636.5" stroke="#444" stroke-width="0.7" />
<circle cx="147.1" cy="631.4" r="1.25" fill="#111"/>
<circle cx="143.7" cy="648.6" r="1.25" fill="#111"/>
<circle cx="147.1" cy="646.6" r="1.25" fill="#111"/>
<circle cx="150.5" cy="644.3" r="1.25" fill="#111"/>
<circle cx="150.5" cy="647.6" r="1.25" fill="#111"/>
<rect x="153.2" y="610.1" width="8.7" height="50.9" fill="#2b9fda" />
<line x1="157.6" y1="577.5" x2="157.6" y2="610.1" stroke="#444" stroke-width="0.7" />
<line x1="156.2" y1="577.5" x2="159" y2="577.5" stroke="#444" stroke-width="0.7" />
<rect x="156.4" y="576.3" width="2.4" height="2.4" fill="#111"/>
<rect x="156.4" y="578.3" width="2.4" height="2.4" fill="#111"/>
<rect x="156.4" y="580.3" width="2.4" height="2.4" fill="#111"/>
<rect x="156.4" y="617.6" width="2.4" height="2.4" fill="#111"/>
<rect x="156.4" y="620.5" width="2.4" height="2.4" fill="#111"/>
<rect x="156.4" y="648.5" width="2.4" height="2.4" fill="#111"/>
<line x1="117.5" y1="661" x2="117.5" y2="663.2" stroke="#222" stroke-width="0.7" />
<line x1="128.3" y1="661" x2="128.3" y2="663.2" stroke="#222" stroke-width="0.7" />
<line x1="146.4" y1="661" x2="146.4" y2="663.2" stroke="#222" stroke-width="0.7" />
<line x1="157.2" y1="661" x2="157.2" y2="663.2" stroke="#222" stroke-width="0.7" />
<text x="122.85" y="573.2" font-size="6.2" text-anchor="middle" dominant-baseline="central">0.12</text>
<line x1="116.8" y1="577.2" x2="128.9" y2="577.2" stroke="#6a6a6a" stroke-width="0.8" />
<text x="153.2" y="566.4" font-size="6.4" text-anchor="middle" dominant-baseline="central">*</text>
<line x1="147.4" y1="569.4" x2="158.5" y2="569.4" stroke="#6a6a6a" stroke-width="0.8" />
<text transform="translate(122.6 670.2)" x="-8.43" y="2.2" font-size="6.4" textLength="16.81" lengthAdjust="spacingAndGlyphs">CD25</text>
<text transform="translate(151.6 670.2)" x="-8.23" y="2.2" font-size="6.4" textLength="16.43" lengthAdjust="spacingAndGlyphs">CD69</text>
<line x1="198.9" y1="570.4" x2="198.9" y2="661" stroke="#222" stroke-width="1" />
<line x1="196.3" y1="572.8" x2="198.9" y2="572.8" stroke="#222" stroke-width="0.8" />
<text x="193.6" y="573" font-size="5.9" text-anchor="end" dominant-baseline="central">8×10<tspan font-size="3.66" dy="-2.24">3</tspan></text>
<line x1="196.3" y1="595.3" x2="198.9" y2="595.3" stroke="#222" stroke-width="0.8" />
<text x="193.6" y="595.5" font-size="5.9" text-anchor="end" dominant-baseline="central">6×10<tspan font-size="3.66" dy="-2.24">3</tspan></text>
<line x1="196.3" y1="616.8" x2="198.9" y2="616.8" stroke="#222" stroke-width="0.8" />
<text x="193.6" y="617" font-size="5.9" text-anchor="end" dominant-baseline="central">4×10<tspan font-size="3.66" dy="-2.24">3</tspan></text>
<line x1="196.3" y1="639.2" x2="198.9" y2="639.2" stroke="#222" stroke-width="0.8" />
<text x="193.6" y="639.4" font-size="5.9" text-anchor="end" dominant-baseline="central">2×10<tspan font-size="3.66" dy="-2.24">3</tspan></text>
<line x1="196.3" y1="661" x2="198.9" y2="661" stroke="#222" stroke-width="0.8" />
<text x="193.6" y="661.2" font-size="5.9" text-anchor="end" dominant-baseline="central">0</text>
<line x1="198.4" y1="661" x2="228.5" y2="661" stroke="#222" stroke-width="1" />
<rect x="204.7" y="641.9" width="8.6" height="19.1" fill="#c8c8c8" />
<line x1="209" y1="637.2" x2="209" y2="641.9" stroke="#444" stroke-width="0.7" />
<line x1="207.6" y1="637.2" x2="210.4" y2="637.2" stroke="#444" stroke-width="0.7" />
<circle cx="209" cy="633.6" r="1.25" fill="#111"/>
<circle cx="205.7" cy="644.9" r="1.25" fill="#111"/>
<circle cx="205.7" cy="647.6" r="1.25" fill="#111"/>
<circle cx="212.4" cy="642.6" r="1.25" fill="#111"/>
<circle cx="212.4" cy="646.6" r="1.25" fill="#111"/>
<rect x="215.1" y="611.1" width="8.7" height="49.9" fill="#2b9fda" />
<line x1="219.5" y1="582.2" x2="219.5" y2="611.1" stroke="#444" stroke-width="0.7" />
<line x1="218.1" y1="582.2" x2="220.9" y2="582.2" stroke="#444" stroke-width="0.7" />
<rect x="218.3" y="581" width="2.4" height="2.4" fill="#111"/>
<rect x="218.3" y="591.8" width="2.4" height="2.4" fill="#111"/>
<rect x="218.3" y="599.8" width="2.4" height="2.4" fill="#111"/>
<rect x="218.3" y="629.3" width="2.4" height="2.4" fill="#111"/>
<rect x="218.3" y="646.4" width="2.4" height="2.4" fill="#111"/>
<line x1="209" y1="661" x2="209" y2="663.2" stroke="#222" stroke-width="0.7" />
<line x1="219.1" y1="661" x2="219.1" y2="663.2" stroke="#222" stroke-width="0.7" />
<text x="212.4" y="569.8" font-size="6.4" text-anchor="middle" dominant-baseline="central">*</text>
<line x1="207" y1="572.8" x2="217.8" y2="572.8" stroke="#6a6a6a" stroke-width="0.8" />
<text transform="translate(214.25 670.2)" x="-11.76" y="2.2" font-size="6.4" textLength="23.3" lengthAdjust="spacingAndGlyphs">HLA-DR</text>
<text transform="translate(72.6 617.3) rotate(-90)" x="-26.55" y="2.65" font-size="7.7" textLength="53.18" lengthAdjust="spacingAndGlyphs">Total positive cells</text>
<text transform="translate(248.8 546.5)" x="-4.48" y="3.96" font-size="11.5" fill="#111" font-weight="bold">K</text>
<text transform="translate(300 547.9)" x="-7.16" y="2.68" font-size="7.8" textLength="14.27" lengthAdjust="spacingAndGlyphs">CD8</text>
<text transform="translate(300 557.6)" x="-21.37" y="2.02" font-size="7.8" textLength="42.39" lengthAdjust="spacingAndGlyphs">cytotoxicity</text>
<line x1="285.5" y1="570.4" x2="285.5" y2="660.8" stroke="#222" stroke-width="1" />
<line x1="282.9" y1="573.1" x2="285.5" y2="573.1" stroke="#222" stroke-width="0.8" />
<text x="280.3" y="573.3" font-size="5.9" text-anchor="end" dominant-baseline="central">2×10<tspan font-size="3.66" dy="-2.24">4</tspan></text>
<line x1="282.9" y1="595.1" x2="285.5" y2="595.1" stroke="#222" stroke-width="0.8" />
<text x="280.3" y="595.3" font-size="5.9" text-anchor="end" dominant-baseline="central">1.5×10<tspan font-size="3.66" dy="-2.24">4</tspan></text>
<line x1="282.9" y1="617.2" x2="285.5" y2="617.2" stroke="#222" stroke-width="0.8" />
<text x="280.3" y="617.4" font-size="5.9" text-anchor="end" dominant-baseline="central">1×10<tspan font-size="3.66" dy="-2.24">4</tspan></text>
<line x1="282.9" y1="638.8" x2="285.5" y2="638.8" stroke="#222" stroke-width="0.8" />
<text x="280.3" y="639" font-size="5.9" text-anchor="end" dominant-baseline="central">5×10<tspan font-size="3.66" dy="-2.24">3</tspan></text>
<line x1="282.9" y1="660.8" x2="285.5" y2="660.8" stroke="#222" stroke-width="0.8" />
<text x="280.3" y="661" font-size="5.9" text-anchor="end" dominant-baseline="central">0</text>
<line x1="285" y1="660.8" x2="315.7" y2="660.8" stroke="#222" stroke-width="1" />
<rect x="291.1" y="650.7" width="8.9" height="10.1" fill="#c8c8c8" />
<circle cx="292.3" cy="647.6" r="1.25" fill="#111"/>
<circle cx="295.7" cy="649.2" r="1.25" fill="#111"/>
<circle cx="299.2" cy="646.5" r="1.25" fill="#111"/>
<circle cx="292.3" cy="651.6" r="1.25" fill="#111"/>
<circle cx="299.2" cy="650.4" r="1.25" fill="#111"/>
<rect x="301.8" y="626.5" width="9" height="34.3" fill="#2b9fda" />
<line x1="306.2" y1="605.1" x2="306.2" y2="626.5" stroke="#444" stroke-width="0.7" />
<line x1="304.8" y1="605.1" x2="307.6" y2="605.1" stroke="#444" stroke-width="0.7" />
<rect x="305" y="594.5" width="2.4" height="2.4" fill="#111"/>
<rect x="305" y="616.9" width="2.4" height="2.4" fill="#111"/>
<rect x="305" y="623.8" width="2.4" height="2.4" fill="#111"/>
<rect x="305" y="641.5" width="2.4" height="2.4" fill="#111"/>
<rect x="305" y="648.9" width="2.4" height="2.4" fill="#111"/>
<line x1="295.7" y1="660.8" x2="295.7" y2="663" stroke="#222" stroke-width="0.7" />
<line x1="305.8" y1="660.8" x2="305.8" y2="663" stroke="#222" stroke-width="0.7" />
<text x="299.2" y="587" font-size="6.4" text-anchor="middle" dominant-baseline="central">*</text>
<line x1="293.8" y1="590" x2="303.8" y2="590" stroke="#6a6a6a" stroke-width="0.8" />
<text transform="translate(300.55 670.4)" x="-17.47" y="2.2" font-size="6.4" textLength="34.95" lengthAdjust="spacingAndGlyphs">Granzyme B</text>
<text transform="translate(250 617.6) rotate(-90)" x="-26.55" y="2.65" font-size="7.7" textLength="53.18" lengthAdjust="spacingAndGlyphs">Total positive cells</text>
<text transform="translate(342.2 547.1)" x="-3.72" y="3.96" font-size="11.5" fill="#111" font-weight="bold">L</text>
<text transform="translate(403 557)" x="-27.84" y="2.68" font-size="7.8" textLength="55.55" lengthAdjust="spacingAndGlyphs">CD8 cytokines</text>
<line x1="374.2" y1="570.4" x2="374.2" y2="661.2" stroke="#222" stroke-width="1" />
<line x1="371.6" y1="572.5" x2="374.2" y2="572.5" stroke="#222" stroke-width="0.8" />
<text x="368.8" y="572.7" font-size="5.9" text-anchor="end" dominant-baseline="central">1×10<tspan font-size="3.66" dy="-2.24">4</tspan></text>
<line x1="371.6" y1="590.4" x2="374.2" y2="590.4" stroke="#222" stroke-width="0.8" />
<text x="368.8" y="590.6" font-size="5.9" text-anchor="end" dominant-baseline="central">8×10<tspan font-size="3.66" dy="-2.24">3</tspan></text>
<line x1="371.6" y1="608.5" x2="374.2" y2="608.5" stroke="#222" stroke-width="0.8" />
<text x="368.8" y="608.7" font-size="5.9" text-anchor="end" dominant-baseline="central">6×10<tspan font-size="3.66" dy="-2.24">3</tspan></text>
<line x1="371.6" y1="626.2" x2="374.2" y2="626.2" stroke="#222" stroke-width="0.8" />
<text x="368.8" y="626.4" font-size="5.9" text-anchor="end" dominant-baseline="central">4×10<tspan font-size="3.66" dy="-2.24">3</tspan></text>
<line x1="371.6" y1="643.5" x2="374.2" y2="643.5" stroke="#222" stroke-width="0.8" />
<text x="368.8" y="643.7" font-size="5.9" text-anchor="end" dominant-baseline="central">2×10<tspan font-size="3.66" dy="-2.24">3</tspan></text>
<line x1="371.6" y1="661.2" x2="374.2" y2="661.2" stroke="#222" stroke-width="0.8" />
<text x="368.8" y="661.4" font-size="5.9" text-anchor="end" dominant-baseline="central">0</text>
<line x1="373.7" y1="661.2" x2="430.4" y2="661.2" stroke="#222" stroke-width="1" />
<rect x="379" y="633.3" width="8.7" height="27.9" fill="#c8c8c8" />
<line x1="383.3" y1="623.5" x2="383.3" y2="633.3" stroke="#444" stroke-width="0.7" />
<line x1="381.9" y1="623.5" x2="384.7" y2="623.5" stroke="#444" stroke-width="0.7" />
<circle cx="383.3" cy="623.7" r="1.25" fill="#111"/>
<circle cx="383.3" cy="626.2" r="1.25" fill="#111"/>
<circle cx="383.3" cy="628.5" r="1.25" fill="#111"/>
<circle cx="379.4" cy="633.7" r="1.25" fill="#111"/>
<circle cx="386.7" cy="633.7" r="1.25" fill="#111"/>
<circle cx="383.3" cy="639" r="1.25" fill="#111"/>
<rect x="389" y="609" width="8.7" height="52.2" fill="#2b9fda" />
<line x1="393.5" y1="581.5" x2="393.5" y2="609" stroke="#444" stroke-width="0.7" />
<line x1="392.1" y1="581.5" x2="394.9" y2="581.5" stroke="#444" stroke-width="0.7" />
<rect x="392.3" y="576.5" width="2.4" height="2.4" fill="#111"/>
<rect x="392.3" y="584.8" width="2.4" height="2.4" fill="#111"/>
<rect x="392.3" y="609.2" width="2.4" height="2.4" fill="#111"/>
<rect x="392.3" y="627.3" width="2.4" height="2.4" fill="#111"/>
<rect x="392.3" y="641.1" width="2.4" height="2.4" fill="#111"/>
<rect x="407.3" y="644.8" width="8.7" height="16.4" fill="#c8c8c8" />
<circle cx="409" cy="648.5" r="1.25" fill="#111"/>
<circle cx="411" cy="647.5" r="1.25" fill="#111"/>
<circle cx="413" cy="647" r="1.25" fill="#111"/>
<circle cx="415" cy="646.5" r="1.25" fill="#111"/>
<circle cx="410" cy="649.5" r="1.25" fill="#111"/>
<rect x="417.9" y="629.4" width="8.6" height="31.8" fill="#2b9fda" />
<line x1="422.3" y1="619.5" x2="422.3" y2="629.4" stroke="#444" stroke-width="0.7" />
<line x1="420.9" y1="619.5" x2="423.7" y2="619.5" stroke="#444" stroke-width="0.7" />
<rect x="421.1" y="614.6" width="2.4" height="2.4" fill="#111"/>
<rect x="421.1" y="621.1" width="2.4" height="2.4" fill="#111"/>
<rect x="421.1" y="629.2" width="2.4" height="2.4" fill="#111"/>
<rect x="421.1" y="633" width="2.4" height="2.4" fill="#111"/>
<rect x="421.1" y="641.3" width="2.4" height="2.4" fill="#111"/>
<line x1="383.3" y1="661.2" x2="383.3" y2="663.4" stroke="#222" stroke-width="0.7" />
<line x1="393.5" y1="661.2" x2="393.5" y2="663.4" stroke="#222" stroke-width="0.7" />
<line x1="411.5" y1="661.2" x2="411.5" y2="663.4" stroke="#222" stroke-width="0.7" />
<line x1="422.3" y1="661.2" x2="422.3" y2="663.4" stroke="#222" stroke-width="0.7" />
<text x="388.1" y="568" font-size="6.2" text-anchor="middle" dominant-baseline="central">0.11</text>
<line x1="382.7" y1="571.5" x2="393.5" y2="571.5" stroke="#6a6a6a" stroke-width="0.8" />
<text x="416.3" y="606.4" font-size="6.4" text-anchor="middle" dominant-baseline="central">*</text>
<line x1="411.2" y1="609.6" x2="421.2" y2="609.6" stroke="#6a6a6a" stroke-width="0.8" />
<text transform="translate(387.4 670.8)" x="-6" y="2.2" font-size="6.4" textLength="11.52" lengthAdjust="spacingAndGlyphs">IFNγ</text>
<text transform="translate(416.7 670.8)" x="-8.04" y="2.2" font-size="6.4" textLength="16.13" lengthAdjust="spacingAndGlyphs">TNFα</text>
<text transform="translate(339.7 617.5) rotate(-90)" x="-26.55" y="2.65" font-size="7.7" textLength="53.18" lengthAdjust="spacingAndGlyphs">Total positive cells</text>
<rect x="435.4" y="602.5" width="8.6" height="4" fill="#c8c8c8" />
<text transform="translate(457.35 604.6)" x="-10.97" y="2.2" font-size="6.4" textLength="21.62" lengthAdjust="spacingAndGlyphs">Isotype</text>
<rect x="435.4" y="612.6" width="8.6" height="4" fill="#2b9fda" />
<text transform="translate(459 614.6)" x="-12.53" y="2.2" font-size="6.4" textLength="24.86" lengthAdjust="spacingAndGlyphs">KW7.3.7</text>
<rect x="0" y="0" width="520" height="1" fill="#555" />
<rect x="0" y="0" width="1.1" height="681" fill="#555" />
<rect x="518.8" y="0" width="1.2" height="681" fill="#4a4a4a" />
<rect x="0" y="679.5" width="520" height="1.5" fill="#4a4a4a" />
</svg></body></html>
